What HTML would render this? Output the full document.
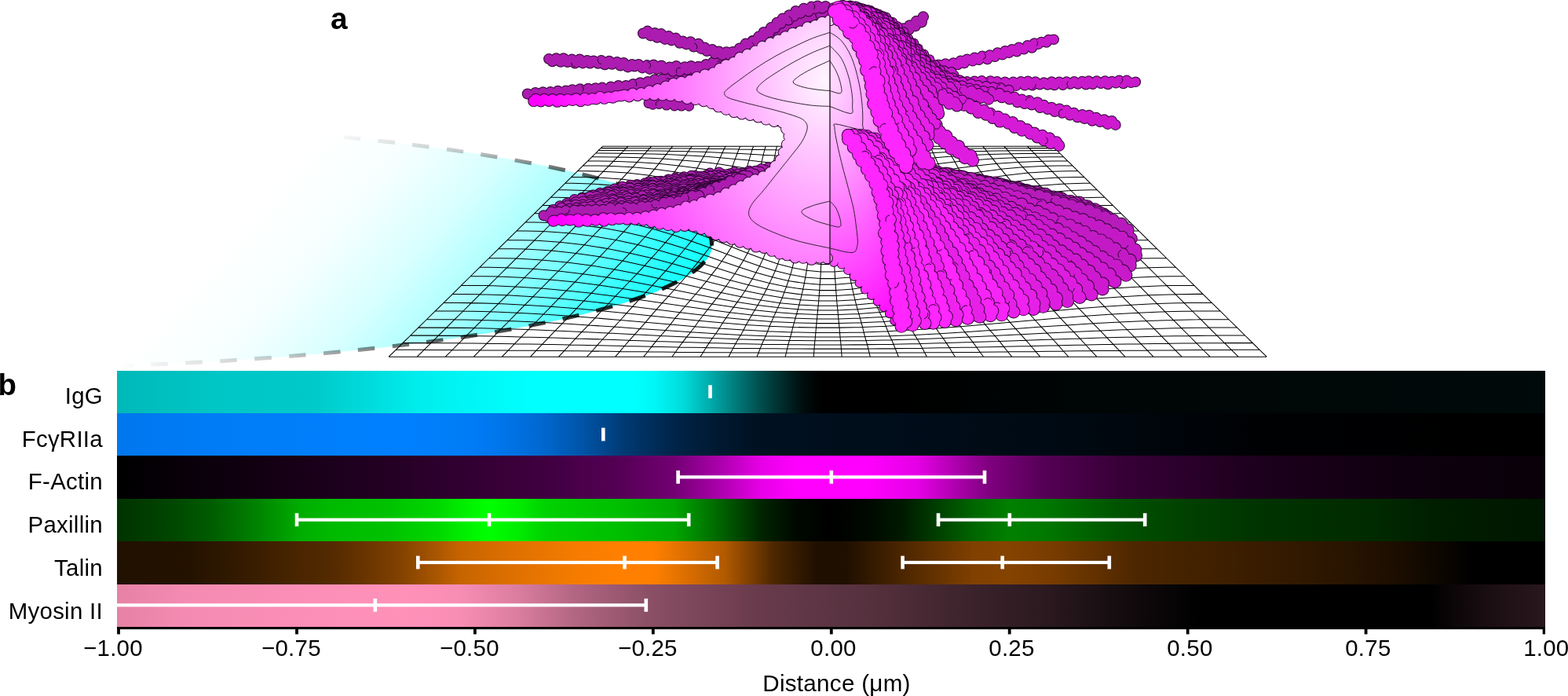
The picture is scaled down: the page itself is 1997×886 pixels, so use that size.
<!DOCTYPE html>
<html lang="en"><head><meta charset="utf-8"><title>Figure</title>
<style>
html,body{margin:0;padding:0;background:#fff;}
#fig{position:relative;width:1997px;height:886px;overflow:hidden;background:#fff;font-family:"Liberation Sans",sans-serif;color:#000;}
#fig svg{position:absolute;left:0;top:0;display:block;}
.t{position:absolute;white-space:nowrap;line-height:1.149;letter-spacing:0.28px;}
</style></head><body>
<div id="fig">
<svg width="1997" height="886" viewBox="0 0 1997 886">
<defs>
<linearGradient id="g0" gradientUnits="userSpaceOnUse" x1="149.0" y1="0" x2="1968.0" y2="0"><stop offset="0.0011" stop-color="#00b8b8"/><stop offset="0.0261" stop-color="#00bebe"/><stop offset="0.0760" stop-color="#00c7c7"/><stop offset="0.1358" stop-color="#00c9c9"/><stop offset="0.1758" stop-color="#00dbdb"/><stop offset="0.2107" stop-color="#00eded"/><stop offset="0.2506" stop-color="#00f7f7"/><stop offset="0.2906" stop-color="#00ffff"/><stop offset="0.3604" stop-color="#00ffff"/><stop offset="0.3759" stop-color="#00f7f7"/><stop offset="0.3964" stop-color="#00dbdb"/><stop offset="0.4153" stop-color="#00abab"/><stop offset="0.4313" stop-color="#008080"/><stop offset="0.4478" stop-color="#005454"/><stop offset="0.4682" stop-color="#002626"/><stop offset="0.4802" stop-color="#000d0d"/><stop offset="0.4927" stop-color="#000000"/><stop offset="0.5501" stop-color="#000000"/><stop offset="0.6000" stop-color="#000303"/><stop offset="0.7497" stop-color="#000606"/><stop offset="0.9992" stop-color="#000a0a"/></linearGradient>
<linearGradient id="g1" gradientUnits="userSpaceOnUse" x1="149.0" y1="0" x2="1968.0" y2="0"><stop offset="0.0011" stop-color="#0077ed"/><stop offset="0.0510" stop-color="#007bf5"/><stop offset="0.1508" stop-color="#007ffc"/><stop offset="0.2007" stop-color="#0080ff"/><stop offset="0.2506" stop-color="#007bf5"/><stop offset="0.2756" stop-color="#0073e6"/><stop offset="0.3005" stop-color="#0066cc"/><stop offset="0.3255" stop-color="#0054a8"/><stop offset="0.3554" stop-color="#003a73"/><stop offset="0.3864" stop-color="#00264c"/><stop offset="0.4173" stop-color="#001a33"/><stop offset="0.4478" stop-color="#001121"/><stop offset="0.5002" stop-color="#000e1c"/><stop offset="0.6499" stop-color="#000a14"/><stop offset="0.7996" stop-color="#000103"/><stop offset="0.9992" stop-color="#000000"/></linearGradient>
<linearGradient id="g2" gradientUnits="userSpaceOnUse" x1="149.0" y1="0" x2="1968.0" y2="0"><stop offset="0.0011" stop-color="#000000"/><stop offset="0.1009" stop-color="#120012"/><stop offset="0.2007" stop-color="#260026"/><stop offset="0.3005" stop-color="#400040"/><stop offset="0.3504" stop-color="#540054"/><stop offset="0.3904" stop-color="#730073"/><stop offset="0.4253" stop-color="#b200b2"/><stop offset="0.4503" stop-color="#e600e6"/><stop offset="0.4752" stop-color="#ff00ff"/><stop offset="0.5251" stop-color="#ff00ff"/><stop offset="0.5601" stop-color="#e600e6"/><stop offset="0.5850" stop-color="#b200b2"/><stop offset="0.6100" stop-color="#800080"/><stop offset="0.6499" stop-color="#540054"/><stop offset="0.6998" stop-color="#380038"/><stop offset="0.7996" stop-color="#1c001c"/><stop offset="0.8994" stop-color="#0f000f"/><stop offset="0.9992" stop-color="#080008"/></linearGradient>
<linearGradient id="g3" gradientUnits="userSpaceOnUse" x1="149.0" y1="0" x2="1968.0" y2="0"><stop offset="0.0011" stop-color="#003300"/><stop offset="0.0360" stop-color="#004500"/><stop offset="0.0660" stop-color="#005c00"/><stop offset="0.0959" stop-color="#008000"/><stop offset="0.1284" stop-color="#00ad00"/><stop offset="0.1508" stop-color="#00ba00"/><stop offset="0.1907" stop-color="#00c200"/><stop offset="0.2257" stop-color="#00d900"/><stop offset="0.2506" stop-color="#00f700"/><stop offset="0.2606" stop-color="#00ff00"/><stop offset="0.2806" stop-color="#00ed00"/><stop offset="0.3005" stop-color="#00d100"/><stop offset="0.3504" stop-color="#00bf00"/><stop offset="0.3904" stop-color="#00a600"/><stop offset="0.4153" stop-color="#007300"/><stop offset="0.4503" stop-color="#002600"/><stop offset="0.4752" stop-color="#000800"/><stop offset="0.5002" stop-color="#000000"/><stop offset="0.5251" stop-color="#000800"/><stop offset="0.5501" stop-color="#001a00"/><stop offset="0.5750" stop-color="#004000"/><stop offset="0.6000" stop-color="#006600"/><stop offset="0.6249" stop-color="#008000"/><stop offset="0.6499" stop-color="#007800"/><stop offset="0.6998" stop-color="#005400"/><stop offset="0.7497" stop-color="#004000"/><stop offset="0.7996" stop-color="#003300"/><stop offset="0.8795" stop-color="#002a00"/><stop offset="0.9194" stop-color="#001f00"/><stop offset="0.9992" stop-color="#001600"/></linearGradient>
<linearGradient id="g4" gradientUnits="userSpaceOnUse" x1="149.0" y1="0" x2="1968.0" y2="0"><stop offset="0.0011" stop-color="#211100"/><stop offset="0.0510" stop-color="#241200"/><stop offset="0.0859" stop-color="#331a00"/><stop offset="0.1179" stop-color="#452300"/><stop offset="0.1508" stop-color="#542a00"/><stop offset="0.1793" stop-color="#6e3700"/><stop offset="0.2007" stop-color="#854300"/><stop offset="0.2257" stop-color="#ad5700"/><stop offset="0.2407" stop-color="#c76400"/><stop offset="0.2806" stop-color="#e07100"/><stop offset="0.3205" stop-color="#f57b00"/><stop offset="0.3504" stop-color="#ff8000"/><stop offset="0.3754" stop-color="#ff8000"/><stop offset="0.4253" stop-color="#b25a00"/><stop offset="0.4602" stop-color="#4c2600"/><stop offset="0.4902" stop-color="#1f0f00"/><stop offset="0.5101" stop-color="#1f0f00"/><stop offset="0.5501" stop-color="#4c2600"/><stop offset="0.6000" stop-color="#804000"/><stop offset="0.6249" stop-color="#854300"/><stop offset="0.6549" stop-color="#783c00"/><stop offset="0.7148" stop-color="#4c2600"/><stop offset="0.7996" stop-color="#381c00"/><stop offset="0.8595" stop-color="#291400"/><stop offset="0.8994" stop-color="#1a0d00"/><stop offset="0.9194" stop-color="#0f0800"/><stop offset="0.9493" stop-color="#000000"/><stop offset="0.9992" stop-color="#000000"/></linearGradient>
<linearGradient id="g5" gradientUnits="userSpaceOnUse" x1="149.0" y1="0" x2="1968.0" y2="0"><stop offset="0.0011" stop-color="#e682a6"/><stop offset="0.0510" stop-color="#f58bb2"/><stop offset="0.2007" stop-color="#ff91b9"/><stop offset="0.2407" stop-color="#f78db3"/><stop offset="0.2806" stop-color="#db7d9f"/><stop offset="0.3205" stop-color="#b26682"/><stop offset="0.3704" stop-color="#8c5066"/><stop offset="0.4478" stop-color="#693b4c"/><stop offset="0.5301" stop-color="#54303d"/><stop offset="0.5900" stop-color="#3e242d"/><stop offset="0.6499" stop-color="#2b191f"/><stop offset="0.7148" stop-color="#0f090b"/><stop offset="0.7597" stop-color="#000000"/><stop offset="0.9194" stop-color="#000000"/><stop offset="0.9593" stop-color="#1a0e12"/><stop offset="0.9992" stop-color="#29171e"/></linearGradient>
<linearGradient id="cy" gradientUnits="userSpaceOnUse" x1="279.5" y1="319.0" x2="632.0" y2="629.2"><stop offset="0" stop-color="#fff"/><stop offset="0.2" stop-color="#f6ffff"/><stop offset="0.4" stop-color="#d9ffff"/><stop offset="0.6" stop-color="#a6ffff"/><stop offset="0.75" stop-color="#6cffff"/><stop offset="0.87" stop-color="#38ffff"/><stop offset="1" stop-color="#14ffff"/></linearGradient>
<linearGradient id="cd" gradientUnits="userSpaceOnUse" x1="279.5" y1="319.0" x2="632.0" y2="629.2"><stop offset="0" stop-color="#000" stop-opacity="0"/><stop offset="0.33" stop-color="#000" stop-opacity="0.22"/><stop offset="0.56" stop-color="#000" stop-opacity="0.58"/><stop offset="0.85" stop-color="#000" stop-opacity="0.8"/><stop offset="1" stop-color="#000" stop-opacity="0.9"/></linearGradient>
<marker id="k0" markerUnits="userSpaceOnUse" markerWidth="16.0" markerHeight="16.0" refX="8.0" refY="8.0"><circle cx="8.0" cy="8.0" r="7.0" fill="#2b0530"/></marker>
<marker id="k1" markerUnits="userSpaceOnUse" markerWidth="14.0" markerHeight="14.0" refX="7.0" refY="7.0"><circle cx="7.0" cy="7.0" r="6.0" fill="#ac1cb0"/></marker>
<marker id="k2" markerUnits="userSpaceOnUse" markerWidth="15.0" markerHeight="15.0" refX="7.5" refY="7.5"><circle cx="7.5" cy="7.5" r="6.5" fill="#2b0530"/></marker>
<marker id="k3" markerUnits="userSpaceOnUse" markerWidth="13.2" markerHeight="13.2" refX="6.6" refY="6.6"><circle cx="6.6" cy="6.6" r="5.6" fill="#ac1cb0"/></marker>
<marker id="k4" markerUnits="userSpaceOnUse" markerWidth="19.0" markerHeight="19.0" refX="9.5" refY="9.5"><circle cx="9.5" cy="9.5" r="8.5" fill="#2b0530"/></marker>
<marker id="k5" markerUnits="userSpaceOnUse" markerWidth="17.2" markerHeight="17.2" refX="8.6" refY="8.6"><circle cx="8.6" cy="8.6" r="7.6" fill="#ac1cb0"/></marker>
<marker id="k6" markerUnits="userSpaceOnUse" markerWidth="17.2" markerHeight="17.2" refX="8.6" refY="8.6"><circle cx="8.6" cy="8.6" r="7.6" fill="#b21cb5"/></marker>
<marker id="k7" markerUnits="userSpaceOnUse" markerWidth="17.2" markerHeight="17.2" refX="8.6" refY="8.6"><circle cx="8.6" cy="8.6" r="7.6" fill="#b71bbb"/></marker>
<marker id="k8" markerUnits="userSpaceOnUse" markerWidth="17.2" markerHeight="17.2" refX="8.6" refY="8.6"><circle cx="8.6" cy="8.6" r="7.6" fill="#c31ac5"/></marker>
<marker id="k9" markerUnits="userSpaceOnUse" markerWidth="17.2" markerHeight="17.2" refX="8.6" refY="8.6"><circle cx="8.6" cy="8.6" r="7.6" fill="#c81acb"/></marker>
<marker id="k10" markerUnits="userSpaceOnUse" markerWidth="17.2" markerHeight="17.2" refX="8.6" refY="8.6"><circle cx="8.6" cy="8.6" r="7.6" fill="#ce19d0"/></marker>
<marker id="k11" markerUnits="userSpaceOnUse" markerWidth="17.2" markerHeight="17.2" refX="8.6" refY="8.6"><circle cx="8.6" cy="8.6" r="7.6" fill="#d61bd8"/></marker>
<marker id="k12" markerUnits="userSpaceOnUse" markerWidth="17.2" markerHeight="17.2" refX="8.6" refY="8.6"><circle cx="8.6" cy="8.6" r="7.6" fill="#de1de0"/></marker>
<marker id="k13" markerUnits="userSpaceOnUse" markerWidth="17.2" markerHeight="17.2" refX="8.6" refY="8.6"><circle cx="8.6" cy="8.6" r="7.6" fill="#e620e8"/></marker>
<marker id="k14" markerUnits="userSpaceOnUse" markerWidth="17.2" markerHeight="17.2" refX="8.6" refY="8.6"><circle cx="8.6" cy="8.6" r="7.6" fill="#ef22ef"/></marker>
<marker id="k15" markerUnits="userSpaceOnUse" markerWidth="17.2" markerHeight="17.2" refX="8.6" refY="8.6"><circle cx="8.6" cy="8.6" r="7.6" fill="#f724f7"/></marker>
<marker id="k16" markerUnits="userSpaceOnUse" markerWidth="17.2" markerHeight="17.2" refX="8.6" refY="8.6"><circle cx="8.6" cy="8.6" r="7.6" fill="#ff26ff"/></marker>
<marker id="k17" markerUnits="userSpaceOnUse" markerWidth="16.4" markerHeight="16.4" refX="8.2" refY="8.2"><circle cx="8.2" cy="8.2" r="7.2" fill="#2b0530"/></marker>
<marker id="k18" markerUnits="userSpaceOnUse" markerWidth="14.4" markerHeight="14.4" refX="7.2" refY="7.2"><circle cx="7.2" cy="7.2" r="6.2" fill="#ac1cb0"/></marker>
<marker id="k19" markerUnits="userSpaceOnUse" markerWidth="15.6" markerHeight="15.6" refX="7.8" refY="7.8"><circle cx="7.8" cy="7.8" r="6.8" fill="#2b0530"/></marker>
<marker id="k20" markerUnits="userSpaceOnUse" markerWidth="13.6" markerHeight="13.6" refX="6.8" refY="6.8"><circle cx="6.8" cy="6.8" r="5.8" fill="#c81acb"/></marker>
<marker id="k21" markerUnits="userSpaceOnUse" markerWidth="15.8" markerHeight="15.8" refX="7.9" refY="7.9"><circle cx="7.9" cy="7.9" r="6.9" fill="#2b0530"/></marker>
<marker id="k22" markerUnits="userSpaceOnUse" markerWidth="13.8" markerHeight="13.8" refX="6.9" refY="6.9"><circle cx="6.9" cy="6.9" r="5.9" fill="#ce19d0"/></marker>
<marker id="k23" markerUnits="userSpaceOnUse" markerWidth="14.0" markerHeight="14.0" refX="7.0" refY="7.0"><circle cx="7.0" cy="7.0" r="6.0" fill="#ce19d0"/></marker>
<marker id="k24" markerUnits="userSpaceOnUse" markerWidth="16.2" markerHeight="16.2" refX="8.1" refY="8.1"><circle cx="8.1" cy="8.1" r="7.1" fill="#2b0530"/></marker>
<marker id="k25" markerUnits="userSpaceOnUse" markerWidth="14.4" markerHeight="14.4" refX="7.2" refY="7.2"><circle cx="7.2" cy="7.2" r="6.2" fill="#ce19d0"/></marker>
<marker id="k26" markerUnits="userSpaceOnUse" markerWidth="16.6" markerHeight="16.6" refX="8.3" refY="8.3"><circle cx="8.3" cy="8.3" r="7.3" fill="#2b0530"/></marker>
<marker id="k27" markerUnits="userSpaceOnUse" markerWidth="14.6" markerHeight="14.6" refX="7.3" refY="7.3"><circle cx="7.3" cy="7.3" r="6.3" fill="#ce19d0"/></marker>
<marker id="k28" markerUnits="userSpaceOnUse" markerWidth="17.0" markerHeight="17.0" refX="8.5" refY="8.5"><circle cx="8.5" cy="8.5" r="7.5" fill="#2b0530"/></marker>
<marker id="k29" markerUnits="userSpaceOnUse" markerWidth="15.0" markerHeight="15.0" refX="7.5" refY="7.5"><circle cx="7.5" cy="7.5" r="6.5" fill="#d61bd8"/></marker>
<marker id="k30" markerUnits="userSpaceOnUse" markerWidth="17.2" markerHeight="17.2" refX="8.6" refY="8.6"><circle cx="8.6" cy="8.6" r="7.6" fill="#2b0530"/></marker>
<marker id="k31" markerUnits="userSpaceOnUse" markerWidth="15.4" markerHeight="15.4" refX="7.7" refY="7.7"><circle cx="7.7" cy="7.7" r="6.7" fill="#d61bd8"/></marker>
<marker id="k32" markerUnits="userSpaceOnUse" markerWidth="17.6" markerHeight="17.6" refX="8.8" refY="8.8"><circle cx="8.8" cy="8.8" r="7.8" fill="#2b0530"/></marker>
<marker id="k33" markerUnits="userSpaceOnUse" markerWidth="15.6" markerHeight="15.6" refX="7.8" refY="7.8"><circle cx="7.8" cy="7.8" r="6.8" fill="#d61bd8"/></marker>
<marker id="k34" markerUnits="userSpaceOnUse" markerWidth="18.0" markerHeight="18.0" refX="9.0" refY="9.0"><circle cx="9.0" cy="9.0" r="8.0" fill="#2b0530"/></marker>
<marker id="k35" markerUnits="userSpaceOnUse" markerWidth="16.0" markerHeight="16.0" refX="8.0" refY="8.0"><circle cx="8.0" cy="8.0" r="7.0" fill="#de1de0"/></marker>
<marker id="k36" markerUnits="userSpaceOnUse" markerWidth="18.4" markerHeight="18.4" refX="9.2" refY="9.2"><circle cx="9.2" cy="9.2" r="8.2" fill="#2b0530"/></marker>
<marker id="k37" markerUnits="userSpaceOnUse" markerWidth="16.4" markerHeight="16.4" refX="8.2" refY="8.2"><circle cx="8.2" cy="8.2" r="7.2" fill="#de1de0"/></marker>
<marker id="k38" markerUnits="userSpaceOnUse" markerWidth="18.8" markerHeight="18.8" refX="9.4" refY="9.4"><circle cx="9.4" cy="9.4" r="8.4" fill="#2b0530"/></marker>
<marker id="k39" markerUnits="userSpaceOnUse" markerWidth="17.0" markerHeight="17.0" refX="8.5" refY="8.5"><circle cx="8.5" cy="8.5" r="7.5" fill="#e620e8"/></marker>
<marker id="k40" markerUnits="userSpaceOnUse" markerWidth="19.4" markerHeight="19.4" refX="9.7" refY="9.7"><circle cx="9.7" cy="9.7" r="8.7" fill="#2b0530"/></marker>
<marker id="k41" markerUnits="userSpaceOnUse" markerWidth="17.4" markerHeight="17.4" refX="8.7" refY="8.7"><circle cx="8.7" cy="8.7" r="7.7" fill="#e620e8"/></marker>
<marker id="k42" markerUnits="userSpaceOnUse" markerWidth="19.8" markerHeight="19.8" refX="9.9" refY="9.9"><circle cx="9.9" cy="9.9" r="8.9" fill="#2b0530"/></marker>
<marker id="k43" markerUnits="userSpaceOnUse" markerWidth="18.0" markerHeight="18.0" refX="9.0" refY="9.0"><circle cx="9.0" cy="9.0" r="8.0" fill="#ef22ef"/></marker>
<marker id="k44" markerUnits="userSpaceOnUse" markerWidth="20.2" markerHeight="20.2" refX="10.1" refY="10.1"><circle cx="10.1" cy="10.1" r="9.1" fill="#2b0530"/></marker>
<marker id="k45" markerUnits="userSpaceOnUse" markerWidth="18.4" markerHeight="18.4" refX="9.2" refY="9.2"><circle cx="9.2" cy="9.2" r="8.2" fill="#f724f7"/></marker>
<marker id="k46" markerUnits="userSpaceOnUse" markerWidth="20.4" markerHeight="20.4" refX="10.2" refY="10.2"><circle cx="10.2" cy="10.2" r="9.2" fill="#2b0530"/></marker>
<marker id="k47" markerUnits="userSpaceOnUse" markerWidth="18.6" markerHeight="18.6" refX="9.3" refY="9.3"><circle cx="9.3" cy="9.3" r="8.3" fill="#ff26ff"/></marker>
<path id="c0" d="M1057.0,180.8l-3.3,3.2 5,6 -6.8,4.5 5.7,5.1 -4.6,4.2 5.3,4.9 -7,5.2 4.1,5.6 -4,4.7 3.7,6.8 -0.5,-6.2 -6.1,-1.9 2.1,-3.7"/>
<path id="c1" d="M1052.7,197.5l2.1,6 -4.6,3.2 4.1,6.7 -6,3.2 3.7,6.1 -5.1,2.5 -2.4,6.4 2,-7.9 -7.3,-1.3 1.9,-3.5"/>
<path id="c2" d="M1052.5,181.1l-3.7,3.6 3.8,4.8 -3.3,4.7 4.1,5.9 -5.9,4.4 4,5.5 -4.9,2.9 2.7,6 -5.9,3.9 0,7.2 -3.2,-3.9 -5.3,0.1 -0.4,-8.1 -4.6,2"/>
<path id="c3" d="M1047.6,199.3l1.6,6.1 -6.1,3.2 4.2,6.3 -7.4,2.8 3,6.7 -6.9,1.2 -1.8,5.2 -2.7,-5.7 -5.6,0 -1.8,-7.3 -3.4,2.4"/>
<path id="c4" d="M1048.4,184.5l-3.3,5.1 4.5,5.9 -5.1,4.1 3,5.9 -6.6,2.7 1.2,5.9 -5.9,3 2.1,6.6 -6.7,0.1 -1.7,6.4 -4,-3.6 -5.8,0.3 -1.7,-7 -5.8,1.2 -2.6,-3"/>
<path id="c5" d="M1044.6,203.0l-5.5,2.6 1.8,6.6 -6,1.9 2.1,5.5 -6.4,2.8 -0.9,6.4 -6.3,-2.7 -3.4,5.2 -1.8,-6.8 -6.6,1.4 -3,-5.3 -6,1.2 -2.2,-2.6"/>
<path id="c6" d="M1043.5,188.3l-3,5.5 3.1,5.9 -4.5,3.4 0.8,5 -5.6,2.2 0.2,6.2 -5.6,0.7 0.3,7.6 -5.9,-0.9 -2,7 -5.1,-3.8 -5.8,3.7 -2,-6.5 -6.4,0.9 -2.6,-5.2 -6.1,1.8 -2.8,-1.6"/>
<path id="c7" d="M1034.8,206.4l-0.5,5.8 -6,2.6 0.7,6.5 -7.2,-0.7 -0.4,6.1 -6.4,0 -4.1,5.4 -4.5,-4.2 -6.1,1.4 -2,-6 -7,2.2 -1.5,-6.8 -6,3.4 -4.1,-1.7"/>
<path id="c8" d="M1039.1,189.2l-4.4,3.9 3.6,5.3 -3.5,3.3 1.2,5.2 -8.2,0.8 2.4,7.4 -6.3,1.2 -1,6.7 -6.5,-0.9 -1.5,6.4 -5.1,-1.4 -4.3,5.7 -4.5,-5.1 -6.1,2.3 -2.9,-6.1 -5.6,3.7 -2.8,-5.7 -6,1.8 -4,-6.4 -3.3,4.8"/>
<path id="c9" d="M1027.2,209.9l-4.1,1.7 -0.5,7.5 -5.6,-0.6 -1.2,8.1 -6.3,-2.2 -3.6,6.2 -4.4,-3 -5.9,4.7 -3.4,-4.2 -6,1.5 -3.3,-6.9 -5.1,4.3 -3.1,-7.4 -7.3,4.5 -2.7,-6.6 -4.9,5"/>
<path id="c10" d="M1032.9,193.4l2.2,6.5 -4.9,2.1 -0.6,6.7 -7.1,0 0.3,6.5 -6.3,1.2 0.2,6.5 -7.6,0 -2.5,4.5 -6.1,-1.2 -2.3,6.3 -6.5,-4.9 -4.4,6.2 -4.7,-7 -5,1.8 -2.9,-5.5 -7.2,3.3 -3.8,-6.8 -5.8,5 -3.7,-6.9 -3.6,4.1"/>
<path id="c11" d="M1016.2,216.1l-6.1,1 -0.5,7.2 -7.2,-1.6 -1.3,5.9 -5.9,-3.4 -3.1,6.7 -6.3,-3.3 -4.5,6.1 -4.5,-6.8 -6,3.5 -2.4,-6.3 -6.2,2.6 -3.7,-5.4 -4.7,2.6 -4.6,-4.1 -4,3.2 -5.5,-1.9"/>
<path id="c12" d="M1027.6,198.2l0.9,5.4 -6.3,0.9 -0.8,7.8 -6.4,-0.6 -1.4,6.3 -7,-0.4 0.3,6.7 -7.8,-1.1 -2.8,6.8 -5.8,-4.3 -2.8,7.6 -6.1,-4.8 -3.5,4 -6.1,-2.6 -5.1,2.3 -2.8,-6.6 -7.1,2.9 -2.2,-5.2 -6.1,4 -3.9,-6.9 -6.2,4.4 -3.2,-5.7 -5,3.8"/>
<path id="c13" d="M1006.8,218.4l-6.2,-0.3 0.5,7.2 -7.8,-1 -2.8,5 -5.3,-2.2 -4.4,5.9 -4,-5.1 -4.8,7.2 -4.6,-4.9 -6.5,2 -3.6,-5.5 -5.8,4.3 -2,-6.2 -5.7,4.4 -3.6,-7.6 -7.2,3.7 -3.2,-4.1 -5.7,3.5 -3.9,-2.6"/>
<path id="c14" d="M1023.6,199.1l-4.4,1.8 1.1,7.7 -7.3,-2 -0.2,8.1 -7.6,-2 -0.4,6.7 -7.4,-0.2 -1.5,5.3 -5,-0.7 -3,5.1 -6.3,-2.8 -4.1,6.3 -5.5,-3.5 -5,4.8 -4.4,-4.4 -5.5,5 -3.3,-7.2 -5.4,4.3 -3.4,-5.4 -7.4,2.8 -3.1,-4.6 -4.9,3.7 -4.1,-5.6 -5.6,3.2 -4.2,-6.1 -5.1,5.4"/>
<path id="c15" d="M996.2,219.7l-0.9,4.4 -6,-0.1 -4.2,4.4 -4.8,-2.3 -4.2,6.3 -5,-4.9 -4.1,5.9 -5.5,-3.2 -4.9,5.6 -3.9,-5.1 -5.6,3 -3.4,-5.2 -5.8,3.7 -4,-6.5 -5.8,3 -3.8,-3.9 -5.7,4 -2.9,-5.5 -6.7,3.4 -4.9,-6.1 -2.9,5"/>
<path id="c16" d="M1014.4,205.5l-1,4.2 -6.4,-0.7 -2.9,5.7 -5.8,-0.8 -0.7,7.2 -6.7,-1.6 -1.7,7.2 -7.1,-2.6 -1.9,6.4 -7.2,-4 -2.2,6.1 -5.7,-3 -3.6,5.5 -5.2,-4.5 -4.8,5.7 -4.2,-6.4 -6.1,4.6 -2.8,-5.6 -6.2,3.9 -2.9,-6.1 -6.5,3.8 -3.4,-5.7 -6,4.2 -4.3,-5.4 -5.2,4.3 -3.6,-5 -5.4,4 -4,-1.9"/>
<path id="c17" d="M988.3,221.4l-3.5,5.5 -5.4,-2.3 -3.4,4.9 -6.4,-1.7 -1.9,4.2 -7,-1.3 -2.7,4.7 -6.2,-4.6 -4.2,4.3 -5,-2.2 -5.3,2.8 -4.5,-5.7 -4,3.7 -5.2,-5 -5.4,3.7 -3,-5.8 -5.5,4.2 -4.8,-6.3 -4.6,4.6 -4.3,-4.6 -6.5,4.4 -4.4,-5.1 -4.4,3.4"/>
<path id="c18" d="M1012.4,205.9l-7.2,0.3 -1.2,5.5 -7,-0.4 -0.8,6.4 -5.9,-1 -2.8,6.3 -6,-2 -2.2,7.2 -5.6,-4.2 -3.6,8.2 -5.9,-4 -3.3,6.1 -5.1,-3.7 -4.9,5.4 -4.1,-3.5 -5.6,4.7 -5,-5.3 -3.7,5 -4.3,-6.2 -6.3,4.3 -3.2,-4.6 -5.8,3.4 -3.5,-5.7 -5.3,4.1 -5.4,-6 -5.2,4.5 -3.1,-5.1 -5.8,4.9 -4,-6.7 -4.3,5.7 -5.1,-1.8"/>
<path id="c19" d="M974.6,224.1l-3.9,5.2 -4.7,-2.6 -3.1,6.2 -7.3,-4 -3,5.4 -5,-2.5 -4.3,5.8 -5,-5.1 -4.8,5.4 -4.8,-5.3 -5.9,3.8 -3.3,-5.4 -5.4,4.6 -4.6,-5 -5.9,2.4 -4,-4.4 -5.1,4.7 -4.7,-5.2 -5.6,2.5 -3.6,-2.8 -4.9,3.1 -4.6,-5.6 -5.2,4.2 -5.2,-1.4"/>
<path id="c20" d="M1003.0,209.4l-4.8,0.2 -1.5,6.4 -7.3,-3.9 -1.4,7.1 -7.2,-1 -1,6.2 -7,-2.2 -2.8,6.2 -5.5,-1.8 -2.7,5.9 -6.9,-2.6 -4,5.7 -4.3,-4.3 -4.8,6 -5.1,-5.1 -4.3,6 -5.7,-4 -4.8,4.4 -4.6,-4.4 -3.7,2.6 -5.6,-4.3 -4.6,4.3 -3.5,-5.7 -6.2,3.2 -4.4,-4.3 -4.1,4.1 -5.3,-5.3 -5.3,4.6 -4.8,-6.1 -3.8,4.3 -5.8,-5 -4.4,4 -4.4,-1"/>
<path id="c21" d="M967.9,226.0l-5.3,0.6 -2.4,4.9 -6.1,-3.2 -3.9,6.6 -5.9,-4.1 -3.7,6.9 -5.3,-5.7 -4.7,6.4 -5.1,-4.4 -2.8,5.1 -4.9,-4.4 -6,4.9 -3.4,-5.8 -6.2,5.1 -3.2,-6.5 -6.6,4.7 -2.5,-6.3 -6.9,5.2 -4.4,-6.3 -3.5,5.2 -4.9,-5.7 -6.2,6 -3.7,-6.7 -4.3,4.7 -4.6,-4.8 -4.3,3.9 -5.9,-1.1"/>
<path id="c22" d="M994.8,211.0l-5.3,0.3 -1.9,6.7 -6.9,-2.1 -2.8,5.5 -6.3,-0.8 -1.1,6.1 -7.4,-3.3 -1.6,7.7 -5.9,-2.7 -3.9,4.3 -6.3,-2.2 -2.8,4.9 -6.4,-2.1 -2.8,5.3 -6.9,-5.1 -3.5,7.2 -4.5,-6.9 -5.2,7.4 -4.3,-5.4 -6.2,4.2 -3.3,-6.2 -5.1,5.7 -4.7,-5.8 -5.9,5.3 -3.9,-5.6 -4.7,3.1 -4.7,-5.3 -5,4.1 -5.6,-4 -4.2,3.2 -5.5,-4.1 -5,3.9 -3.4,-3.5 -5.6,2.5 -3.8,-0.5"/>
<path id="c23" d="M954.2,230.7l-4,-2.1 -4.3,5.5 -5.1,-3.4 -4.7,6.1 -4.6,-3.5 -4.9,6.4 -4.1,-5.7 -5.5,6.5 -5.7,-4.3 -4.1,5.3 -3.5,-4.6 -6.3,4.1 -3.9,-5.8 -5.1,5.4 -5,-5.3 -5.2,4.6 -3.8,-5.1 -5.5,4 -4.7,-6.2 -3.4,4.6 -6.1,-3.8 -4.1,3.5 -4.9,-5.5 -4.9,5.3 -4.1,-5.8 -5.6,6 -4.7,-5.3 -4.1,3.7"/>
<path id="c24" d="M989.4,210.2l-1.8,5 -7.4,-1.7 -1.9,6.4 -6.4,-2.4 -1.5,6.6 -6.3,-2.8 -3.1,8 -5.7,-3.4 -3.7,6.2 -5.4,-4.1 -3.9,6.3 -5.5,-2.5 -3.8,6.3 -5.2,-3.4 -3.6,3.9 -5.6,-2 -4.7,5 -5.9,-5.1 -4.6,6.1 -4.7,-5.3 -4,5.1 -4.3,-3.7 -6,2.1 -4.6,-4.7 -4.8,4.7 -4.3,-5.1 -5.7,5.5 -4,-6.7 -5.1,4.6 -5.5,-5.6 -4.8,5.1 -5.2,-4 -4.3,3.8 -4.1,-6.2 -6,6.3 -4.4,-5.3 -3.8,3.5 -5.9,-0.5"/>
<path id="c25" d="M945.5,231.6l-3.3,4.5 -6.7,-4.5 -2.9,5.8 -5.3,-2.9 -4.3,5.8 -6.5,-4.9 -3.6,5.8 -4.7,-3.7 -5.3,5.5 -4.3,-3.8 -5.6,4.6 -3.9,-4.1 -4.7,3.5 -5.2,-5.3 -4.7,5.8 -4.6,-5.8 -5.3,3.9 -4.4,-5.9 -5.3,5.4 -4.2,-4.7 -5.3,4.4 -4.5,-4.8 -4.8,4.2 -5.2,-5 -3.7,4.2 -5.1,-4 -5.5,3 -5.2,-3.7 -4.3,4.5 -4,-1.8"/>
<path id="c26" d="M978.3,213.6l-3.5,5.6 -4.7,-1.7 -3,6 -7.2,-1.9 -1.2,4.5 -7.7,-2.4 -0.6,8 -6.3,-2.1 -4,5.5 -5.8,-3.1 -4,4.4 -5.4,-1.3 -2.8,4.3 -5.1,-2 -4.5,4.4 -4.8,-2.5 -5.8,3.1 -3.7,-4.2 -4.2,5.5 -5.6,-3.9 -4.6,5.3 -5.1,-4.6 -4.9,5 -3.6,-4.6 -5,3.8 -4.6,-5.5 -6.5,4.2 -4.6,-5.1 -3.4,5.2 -4.8,-6.7 -6.1,5.7 -3.8,-5.9 -4.4,4.7 -5.9,-4.8 -4.1,6 -5.3,-5.9 -5.3,4.8 -3.5,-5.6 -5.5,5.8 -4.2,-1.3"/>
<path id="c27" d="M936.4,232.0l-3.4,5.6 -5.9,-3.3 -4.4,4.8 -5.5,-4.3 -2.4,6.7 -7,-3.3 -4,4.8 -4.4,-3.6 -4.5,4.2 -5.4,-2.2 -4.3,5.1 -5.3,-5.8 -5.3,5.5 -4.2,-5.7 -5.9,5.3 -3,-4.5 -6.5,2.9 -4.2,-3.9 -5.5,5.8 -3.7,-6.5 -4.9,4.7 -4.8,-4.5 -5.4,4.8 -5.1,-5.4 -5.3,4.3 -3.1,-4.3 -4.8,4.7 -6.4,-5.4 -3.5,5.2 -5.4,-5.9 -4.3,5.3 -4.5,-0.3"/>
<path id="c28" d="M975.0,217.1l-5.1,-2.2 -3.2,7.7 -6.1,-4 -1.3,6.7 -7.7,-1.8 -1.6,6 -7.1,-3.2 -1.7,7.8 -6.7,-3.2 -3.1,5.6 -4.9,-3.8 -4.9,7.6 -5.2,-3.9 -3.9,5.4 -5.5,-2.5 -3.9,4.1 -4.7,-2.7 -3.7,4.4 -6.8,-2.6 -3,3.8 -6.3,-3.4 -2.9,5.7 -5.6,-4.8 -5.2,4.3 -5.4,-6.1 -4.1,5.2 -5.2,-4.5 -4.6,4.5 -4.5,-5.8 -5.7,6.4 -4.6,-7.6 -5.1,5.1 -4,-4.2 -4.6,4.3 -4.3,-5.3 -6.1,5.9 -4.4,-6.4 -4.5,4.9 -4.3,-3.1 -4.8,4.8 -6.1,-5.6 -4,3.5 -5,0.1"/>
<path id="c29" d="M925.8,235.6l-4.2,3.9 -5.2,-3 -4.1,5.9 -6,-4.1 -3.2,6.2 -5.3,-3.6 -4.1,5.1 -6.2,-4.4 -4.1,7 -5.2,-6.4 -3.7,6.6 -5.3,-4.6 -4.1,6.3 -5.1,-6.6 -5.3,4.5 -3.6,-3.1 -5.4,4.5 -5.1,-6.1 -4,4.9 -5.1,-5.5 -5.7,5.9 -4,-6.5 -4.2,6.5 -5.2,-6.3 -5.5,5.2 -5.2,-4.7 -4.6,4 -5,-2.9 -3.3,2.8 -5.6,-3.7 -4.6,2.9 -4.4,-2.6 -4.9,4.3 -5.5,-1.8"/>
<path id="c30" d="M967.8,218.8l-5.7,-1 -3.3,6 -6.1,-0.7 -2.7,4.9 -6.2,-2.8 -2.8,7.1 -5.5,-3 -3.4,6.6 -6.7,-3.3 -1.7,7.3 -5.9,-3.5 -4.7,4.3 -5.8,-3.1 -2.2,5.6 -6.3,-1.9 -3.8,4.7 -5.6,-2.9 -3.4,5.1 -6.1,-4.5 -4.2,6.3 -5,-4.7 -4.2,5.5 -4.9,-4 -5.9,5.3 -3.8,-4.9 -5.3,3.9 -4.3,-3.8 -6.3,3 -4,-4.1 -4.3,4.3 -5.7,-5.5 -4,5.3 -5.4,-4.4 -4.4,5.4 -5.2,-6.4 -4.3,5.5 -4.8,-5.1 -5.7,4.9 -3.6,-4.9 -4.9,4.2 -4.7,-4.6 -6.4,4 -4.3,-3.2 -4.9,4.4 -4.8,-1.7"/>
<path id="c31" d="M917.0,237.5l-4.8,4.4 -5.3,-3.6 -2.9,5.7 -5.6,-3.2 -3.9,6 -6.1,-2.2 -3.8,3.7 -5.1,-2.4 -3.4,4.5 -6.5,-3.8 -4.7,5.3 -5.3,-5.5 -4,6.9 -5.1,-5.3 -3.7,4.4 -5.9,-3.5 -3.6,4.7 -5,-5.8 -5.6,6.1 -3.9,-5.7 -5.4,4.1 -4.6,-4 -5.2,4.7 -4.4,-5.5 -5.4,4.9 -4.7,-4.1 -5.1,4.6 -4.6,-5.1 -3.8,6 -5.6,-6 -4.2,5 -4.5,-5.1 -5.8,5.6 -3.6,-4.8 -4.3,4.2 -5.3,-0.4"/>
<path id="c32" d="M961.0,221.8l-5.7,-2.1 -2.3,6.1 -6.9,-2.9 -2,8 -6.1,-4 -2.7,8 -6.6,-2.8 -3.4,5.8 -6.2,-3.1 -2.5,7.2 -5.1,-3.9 -3.2,4.7 -7.3,-2.2 -3.5,5.9 -4.5,-4 -5,4.8 -4.9,-3.2 -3.4,5.7 -5.7,-2.4 -3.9,3.9 -6.3,-2.6 -3,5.3 -5.2,-4.3 -4.6,5.3 -5.6,-5 -4.7,5.6 -3.7,-5.7 -5.4,6.3 -4.4,-4.8 -5.8,3.3 -3.5,-5.5 -4.5,5.2 -4.9,-3.1 -5.1,4 -5.6,-5.2 -3.7,5.4 -4.5,-4.3 -5.5,5 -4.9,-6.9 -5.4,5.8 -4.2,-4.4 -3.8,4.8 -6.1,-5.6 -3.4,6 -5.2,-5.7 -4.4,4.9 -5.4,-3.3 -3.7,4.4"/>
<path id="c33" d="M909.2,242.3l-5,-2.4 -3.9,5 -6.7,-2.7 -2.9,6.3 -5.6,-2.1 -4.2,3.7 -6,-1.4 -3.8,5.4 -5.3,-4.6 -3.3,4.7 -6.2,-4.7 -3.9,6.7 -6,-4.2 -3.5,5.9 -4.3,-5.5 -5.4,4.5 -5.4,-3.5 -4.4,4.6 -3.9,-4.1 -5.7,2.5 -3.9,-3.9 -5.7,6.3 -4,-6.6 -6.4,6.2 -3.9,-5 -5.1,3.5 -4.9,-3.6 -4.1,5.7 -5.8,-6 -3.7,4.7 -5.3,-4.3 -5,5.9 -4.1,-4.2 -5.7,4.8 -5.4,-7.2 -3,5.6 -6.2,-4.2 -3.7,5.4"/>
<path id="c34" d="M953.2,224.2l-5.4,-0.6 -2.9,6.2 -7.5,-3.5 -1.7,7 -6.6,-2.6 -1.5,6.1 -7.1,-2.3 -3.2,5.3 -5.1,-2.2 -3.3,6.9 -6.1,-2.3 -3.8,4.5 -5.5,-3.4 -3,6.9 -5.3,-4.3 -4.7,5.4 -5.2,-2.5 -4,5.1 -5,-3.8 -3.8,5.6 -5.3,-4.4 -4.4,5.7 -6.1,-3.1 -3,4.3 -6.4,-4.5 -4.7,5.2 -3.4,-3.5 -5.7,4.9 -3.9,-5.3 -5,6.3 -4.5,-5.2 -5.5,4.1 -4.1,-4.5 -5.6,4.5 -4.2,-3.8 -5.8,3.9 -3.6,-5.5 -5.4,6 -5.8,-5.3 -4.6,4.9 -5,-4.3 -3.1,4.8 -5.7,-3.5 -3.9,5.4 -5.1,-6.3 -5.6,6.5 -3.7,-5.7 -5.1,5.1 -6.5,-3.3 -2.8,4.5"/>
<path id="c35" d="M898.3,247.0l-5,-2.8 -4.4,4.8 -5.2,-2.4 -2.4,6.4 -6.2,-4.1 -4.2,7.5 -5.9,-4 -2.9,3.9 -5.1,-2 -4.1,5.1 -5,-4.6 -5.7,5.3 -4.7,-4 -4.8,5.9 -5,-4.5 -3.5,5.1 -5,-4.1 -4.1,4 -6.6,-5.2 -4.3,4.7 -3.6,-3.1 -5.3,3.8 -4.6,-4.8 -6,4 -4.8,-3.6 -4,4.9 -3.9,-4.3 -4.5,5.5 -6.5,-5.3 -4.1,5 -5.5,-4.2 -3.1,5.6 -6.1,-5 -4,4.6 -5,-4.4 -5.1,5.9 -5.4,-5.1 -3.3,4.7 -6.2,-3.9 -3.6,5.6"/>
<path id="c36" d="M945.6,227.9l-5.1,-0.4 -4,4.7 -6.5,-1.9 -2.4,5.9 -5.6,-1.2 -2.6,4.9 -6.8,-2.4 -2.1,7 -5.4,-3.8 -3.3,6.6 -6.5,-2.4 -2.3,6.2 -5.8,-3 -4.4,5 -5.5,-2.5 -3.6,5.7 -5.7,-3.5 -3.8,6.5 -6.6,-4.5 -2.4,5 -6.5,-4.5 -4.3,5.2 -4.2,-2.3 -3.6,5.4 -5.7,-4.5 -4.2,5.1 -5.6,-4.1 -4.4,5.9 -6.1,-4.9 -4.2,5.3 -5.6,-4.8 -3.7,3.4 -5.2,-3.1 -4.8,4.2 -5.5,-4.5 -3.6,4.6 -4.9,-3.1 -4.1,4.5 -5,-5.5 -5.6,4.2 -4.8,-3.9 -4.7,6.3 -4.5,-5.1 -4.9,4.9 -5.4,-3.9 -5.1,4 -3.8,-2.8 -4.3,5.3 -5.6,-6.6 -4,5.9 -7,-3.4 -2.7,3.8"/>
<path id="c37" d="M890.3,249.1l-3.7,4.7 -5,-4.9 -3.8,8.1 -4.8,-4.7 -3.2,5.9 -5.8,-2.3 -3.8,4.9 -6.7,-4.2 -4,7 -4.1,-5.9 -5.3,6.3 -5.7,-3.5 -3,6 -5.5,-3.8 -4.1,4.5 -4.8,-4.7 -5.3,6.2 -5.4,-4.3 -3.4,5.5 -5,-6.4 -4.5,5.6 -4.7,-4.2 -4.5,5.3 -6.6,-5.6 -3.5,5.8 -6,-3.7 -4.6,4.4 -4.8,-4.5 -3.9,4.5 -5.5,-4.2 -4.5,5.6 -4.7,-5.1 -3.6,4.9 -5,-4.9 -5.5,6.2 -5.4,-5.7 -3.1,6.3 -6,-4.8 -3.9,5.8 -5.3,-5.6 -3.8,6.5 -5.9,-1.8"/>
<path id="c38" d="M1056.8,16.3l-3.5,3.9 -5.4,-3.2 -4.3,6.4 -5.7,-3.3 -3.1,7.4 -4.8,-3.4 -2.8,6.1 -6.6,-2.7 -3.5,6.7 -5.3,-2.8 -2.9,5.4 -6.1,-1.4 -3.9,5.6 -4.8,-2 -3.8,5.7 -6.3,-1 -1.4,6.1 -5.7,-1.5 -3.4,5.7 -5.2,-1.2 -3.5,5.2 -6.3,-1.9 -1.3,5.5 -6.1,-0.3 -2.1,5.5 -6.3,-0.6 -1.8,7.1 -6.6,-1.8 -2.9,5.5 -6.7,-1 -1.8,6.8 -6.3,-3.3 -1.8,6.8 -6.9,-2.3 -1.6,5.9 -6.8,-2.7 -3.7,5.5 -5.9,-2.1 -1.9,5.6 -6.6,-2.1 -3.7,4.4 -5.2,-2.1 -3.7,3.9 -6.7,-4.3 -4,7.5 -5.7,-5.5 -2,6.3 -6.8,-3.7 -3.4,4.3 -6.2,-3.6 -4,6.2 -5,-3.5 -3.9,5.4 -5.8,-4.2 -3.4,5.1 -5.5,-3.3 -4.5,4.5 -4.6,-2.5 -4.2,5.1 -5.5,-5.2 -5.3,6.4 -4.4,-4.8 -4.5,4 -6.4,-2.9 -2.9,5.1 -5.7,-4.5 -4.4,4.8 -4.9,-4.3 -4.6,4.7 -5.8,-4.2 -4.8,5.4 -5.1,-4.3 -4.7,5.3 -3.6,-4 -4.6,3.5 -5.4,-3.3 -5.2,4.3 -4.4,-3 -4.2,3.8 -5.2,-3.6 -5.3,4 -4.4,-3.3 -4,4.6 -6,-3.1"/>
<path id="c39" d="M1055.3,11.5l-4.1,4.2 -5.3,-3.2 -2.7,6.8 -5.4,-3.9 -4.6,6.4 -4.6,-1.3 -3.5,4.3 -6.8,-3.4 -1.4,8 -7.7,-3.2 -1.5,5.7 -5.8,-1.1 -3.2,4.3 -7.1,-0.6 -0.8,5.7 -6.3,-1.6 -2.5,5.8 -7.6,-1.9 -1.5,6 -6.2,-1.6 -0.9,6.9 -7.2,-1.9 -1.7,7.1 -6.9,-1.4 -1.3,6.5 -7.1,-1.3 -2.2,4.8 -5.1,-0.5 -2.5,5.3 -6.8,-0.5 -2.6,4.7 -5.5,-0.1 -1.8,5.9 -7,-3.5 -2.8,5.6 -6.2,-2.6 -3.7,5.5 -6,-2.7 -4,4.8 -5.2,-5.5 -4.9,4.7 -3.3,-3.5 -6.4,5.3 -4.3,-6.5 -4.4,6.8 -4.1,-5.3 -6.1,3 -4.3,-5.1 -5.6,4.6 -4.4,-5.5 -4.9,5.4 -3.4,-4.8 -6,3.3 -4.8,-4.5 -5.2,2.6 -3.1,-2.6 -5.3,3.5 -5.3,-5.5 -4.3,3.7 -4.3,-4.6 -6.3,2.8 -3.6,-4.1 -5.5,4.5 -4.6,-5.1 -4.2,3.6 -5.6,-3.2 -4.6,3 -3.6,-3.5 -5.6,3.4 -4,-5 -5.9,5.1 -4,-4.9 -5.5,3.4 -5.1,-4.8 -3.7,4.6 -5.6,-4.6 -4.8,4 -4.5,-3.1"/>
<path id="c40" d="M1051.4,7.9l-4.4,2.7 -5.7,-3.1 -2.9,3.4 -5,-2.3 -3.7,6 -6,-3.8 -4.1,5.9 -6.2,-2.8 -2.2,6.5 -6.1,-1.1 -0.9,6.3 -7.6,-2 -2,6.1 -5.1,-0.9 -2.4,6.7 -5.1,-0.4 -2,5.8 -7.4,0 -0.3,5.3 -6.2,0.4 -1.6,6.4 -5.8,-0.7 -2.5,6.3 -6.6,-3 -0.3,7.5 -7.4,-1.7 -3.2,6.1 -5.6,-1.6 -3.6,4.7 -4.3,-4.3 -5.6,3.8 -4,-4.6 -5,2.7 -3.5,-5.2 -6.8,2 -2.8,-4.5 -4.5,1.4 -3.5,-6.1 -5.9,3.8 -4.2,-6.3 -5.3,3.1 -4.4,-4 -4.1,2.3 -4.9,-6.1 -5.4,2.8 -3.7,-5.3 -4.8,3.8 -4.7,-6.8 -5.1,4.7 -3,-5.8 -5.4,3.4 -3.9,-5.8 -5.7,2.9"/>
<path id="c41" d="M826.0,131.4l5.4,1.8 3.9,-3.9 4,3.1 5.3,-2.8 4.2,4.5 5.9,-3.9 4.3,4.8 5.2,-3.9 3.7,4 4.8,-2.6 4.8,2.7"/>
<path id="c42" d="M1129.3,218.6l-1,7.4 9.6,-0.6 2.2,7.8 6.9,-1.3"/>
<path id="c43" d="M1138.7,226.5l6.3,-1.1 4.3,6.6 7.3,-3.3 3.6,5.9"/>
<path id="c44" d="M1134.5,219.3l4,7.4 7.5,-4.6 3.4,7.5 6.7,-4.7 3.5,7.7 7.9,-4.5 3.4,7.8 6.7,-2.1"/>
<path id="c45" d="M1150.5,225.6l5.7,-0.8 3.4,7.2 6.7,-5.6 5,7 6.3,-5 3.4,8.6 6,-6.2 4.5,6.1"/>
<path id="c46" d="M1132.4,218.8l6.6,-1.8 2.3,7.4 7.3,-4.6 4.6,6.8 5.5,-4.1 3.7,6.4 7.6,-4.1 3,8.3 8.3,-6.2 2.8,7.8 8.1,-5.1 3.9,8.4 7.2,-4.6 3.6,4.8"/>
<path id="c47" d="M1164.3,223.5l4.1,5.7 7.4,-3.4 3.8,6.5 7.5,-6 4,7.3 6.3,-4 3,5.8 7.4,-4.6 3.5,8.4 6.7,-5.9 2.5,7.1"/>
<path id="c48" d="M1150.5,219.7l4.6,6.9 6.4,-7.7 4.8,9.4 6.1,-5.1 4.1,6 6.8,-4.3 4.4,6.9 6.8,-4.1 4.3,5.3 6.9,-4.3 3.3,8.1 7.6,-5.4 4.4,7 6.6,-4.4 3,7.4 7.3,-1.6"/>
<path id="c49" d="M1173.3,222.9l4,6.3 7,-5 3,5.8 7,-4.6 3.9,7.2 6,-5.7 5.7,6.5 5.6,-4.9 4,8.2 6.6,-5.3 4.4,7.2 6.8,-3.5 3.5,7.4 7.1,-5.2 4.2,5.2"/>
<path id="c50" d="M1136.1,215.9l3.5,5.2 6.3,-6.5 4.7,8.6 6.9,-5.3 2.7,8.2 7.2,-6.5 4,8.4 7.3,-6.8 3.8,7.9 6.3,-5.5 3.9,8 6.2,-6.3 4.5,7.3 7.4,-5 3.4,7.6 6.4,-5.7 4.1,7.5 6,-6.5 5,9 5.7,-5.2 4.7,7.4 6,-5.4 3.7,8.1 7.6,-4.4 2.5,7"/>
<path id="c51" d="M1183.7,227.0l6.3,-2.6 4.3,6.4 6.9,-5.9 5,8 6.4,-5.8 3.2,7.3 8.1,-5.4 3.1,7.7 7,-5.9 4,6.9 7.8,-3.5 3.5,7.6 7.3,-6.2 3.8,8.1 6.7,-3.9 2.9,7 7.9,-3.4 3,6.1"/>
<path id="c52" d="M1161.3,223.0l7.5,-4.2 3.9,6.5 6.5,-4.7 4.2,5.9 6.6,-4.7 3.7,8.7 7.4,-5.5 4.1,6.5 6.9,-4.7 3.4,6.8 7.2,-4.9 5,5.8 6,-5.4 4.9,7.5 5.7,-3.3 5.1,7.2 5.1,-4.4 5.6,5.2 6.1,-4.8 3,9 8.4,-5.4 3.7,7.2 5.7,-3.4 2.7,8.5 8.2,-1.2"/>
<path id="c53" d="M1195.5,224.9l3.2,5.8 7.8,-6.7 4.3,7.4 5.8,-4 4.6,6 7,-5.4 3.2,7.6 7.7,-5.3 3.4,8.5 5.9,-5.7 4.6,7.4 6.3,-5.4 4.1,7.7 7.2,-4.9 4.9,6.3 5.6,-3.8 3.6,7.9 7.4,-6.3 4.4,8.6 6.8,-4.9 3.1,8 5.2,0.7"/>
<path id="c54" d="M1135.6,216.0l5,-1.9 4.5,6.5 6.9,-5.5 4.5,7 6.5,-4.5 3.3,7.5 6.8,-7 3.7,8.9 7.5,-7 3.8,8.1 6.5,-6.3 5.2,7.5 5.1,-4.2 4.2,6.4 7.7,-5.2 4.1,7.5 7.1,-6.1 3.3,8 5.8,-6.3 5.6,7.9 6.1,-5.9 4.2,7.9 5.7,-6 5.2,8.4 5.9,-5.2 3.7,7.5 7.8,-4.3 3.3,5.8 6.6,-3.6 4,7 7.2,-4.4 3.4,7.4 7.7,-5.3 1.9,7.8 8.1,-2 2.9,6.5"/>
<path id="c55" d="M1205.5,225.8l3.4,5.4 6.3,-4.6 4,7 8.2,-7.6 2.6,8.6 7.9,-5.2 2.6,8.5 8.4,-7.5 3.3,7.2 6.8,-3.6 3.9,7.3 6.1,-5.3 4.8,6.6 7.2,-4.4 2.6,6.7 6.6,-4 4.1,6.2 7.2,-5.5 3.2,8.1 7.3,-4.1 3.4,8 7.8,-6.1 3,8.6 6.1,-2.6 2.9,6.3 6.6,0.7"/>
<path id="c56" d="M1173.3,220.2l4.5,5.4 7.6,-5.6 3.7,5.6 6.5,-4.1 4.5,7.3 5.8,-5.4 4.6,7.4 6.2,-4.3 4.9,5.8 7.2,-5.6 3.9,8.4 7.2,-6.4 3.2,7.7 7.2,-4.5 4.2,7.3 7.5,-6.3 3.2,7.5 7.2,-4.4 4.7,6.4 6.3,-4.1 2.8,7.5 7,-5.9 3.9,6.9 7.8,-4.3 4.3,7.7 6.1,-5.6 3.3,9.3 8.6,-5.9 2.3,7.3 8.3,-4.4 3.2,7.8 6.5,-4.2 1.9,8.2 7.6,0.5"/>
<path id="c57" d="M1212.8,226.3l4.2,5.1 5.9,-5.3 5.4,6.4 5.6,-4.9 3.9,7.6 8,-6.1 2.8,8.4 6.6,-6.1 5.3,8.1 5.2,-5.5 4.5,8.2 6.4,-6.6 3.8,8.9 7.5,-5.5 4,7.5 6.5,-5.3 4.1,7.8 6.8,-5.8 3.4,7.8 6.8,-3.8 4.3,5.8 5.8,-3.8 4,7.8 7.6,-4.7 3.8,6.7 6.1,-3.8 3.7,9 6.7,-5.8 2.5,8.8 6.6,0.9"/>
<path id="c58" d="M1128.1,213.3l5.2,-1.9 4.8,5.5 6.7,-3.3 3.8,6.6 7.4,-6.2 4.4,7.1 6,-6.3 3.5,9 6.1,-6.1 4.9,8.5 7,-7.6 5,7.8 6.1,-3.8 3.9,6.3 6.1,-7.1 5.2,8.2 5.9,-5.2 5.2,8.5 6.7,-5.3 4.3,6 5.5,-4.2 3.6,6.7 7.3,-3.5 4.8,6.1 5.4,-4.9 4.3,6.1 7.5,-3.7 3.8,6.9 6.7,-5.4 3.9,7.1 8,-6 2.4,8.5 7.6,-5.2 4.5,8.3 6.6,-5.8 4.2,7.1 5.6,-5 4.4,8.8 7.1,-4.5 4.2,6.1 6.7,-4.9 3.6,8.6 6.7,-2.9 3.1,6.1 7.4,-3.5 2.6,8.9 7.8,-3.6 1.1,8.3"/>
<path id="c59" d="M1215.0,225.8l4.6,4.8 6.5,-3.7 4.1,6.8 6.3,-4.9 4.8,6.1 6.2,-3.7 4,7.4 7.7,-6.4 3.5,9 7.1,-5.5 4.2,5.9 6,-5.4 2.9,8 7.9,-4.3 4.6,6.6 4.9,-4.7 5,8.1 7.1,-5.5 4,7.5 5.8,-5.1 4.1,8.2 6,-6.8 4.7,8 6.4,-4 3.7,6.5 7,-3.6 3.3,5.8 8.1,-2.8 1.6,7 8.5,-3.4 3.1,7.1 7.1,-2.1 0.7,7 7.9,-0.7 2.2,6"/>
<path id="c60" d="M1168.4,217.4l5.7,4.6 5.3,-5 6,7.7 5.8,-5.5 4.5,6.7 6.4,-4.2 3.8,6.9 6.8,-5.2 3.6,7.2 7.5,-5.8 2.9,7.9 7,-4 4.9,6 5.4,-4.2 4.3,6.4 6.6,-4.4 5.5,6.6 6.9,-6.2 4,10.1 6.5,-5.7 3.4,7.4 7.5,-6.2 3.3,7.6 7.6,-3.9 2.7,6.9 6.9,-5 4.5,6 6.4,-5.3 3.6,9 7.6,-6.5 3.6,8.3 6.5,-4.6 3.9,7.9 6.7,-5.8 3.9,7.9 7.8,-4.4 2.9,6 7.7,-4.5 3.2,8.3 7.4,-3.7 2.4,9 7.1,-5 3.4,9.3 7.9,-2.9 -1.5,8.3 6.5,1"/>
<path id="c61" d="M1222.8,228.7l5.1,-2.6 4.6,8 7.2,-5.7 3.2,6.1 6.9,-3.9 3.8,6.8 8.2,-3.7 2.3,7.6 8.6,-7 2.8,8.1 6.6,-4.3 5.4,8.1 6.7,-6.3 2.8,8.1 7.4,-4.2 3.9,6.2 7.5,-3.5 2.6,6.9 7,-5.7 3.7,8.1 7.6,-4.3 3.5,6.3 6.5,-5.5 5.2,8.8 5.3,-4.9 5.4,8.8 7.2,-6.7 3,7.2 7.3,-3.3 2.2,8 7.4,-3.3 2.9,6.7 7.5,-3.2 2.8,8.7 7.9,-2.6 0.9,8.8 8,-1 -1.1,6.8"/>
<path id="c62" d="M1118.7,205.5l4,5.3 7.9,-4 3.8,6.2 6.3,-5.2 3.3,7.4 7.3,-4.7 3.7,7.9 6.8,-5.8 4.1,6.3 6.7,-4.4 3.6,8.4 6.5,-4.6 5.5,6.4 6.8,-5 3.9,7.5 6,-6.1 4.7,7.2 6.9,-4 3.1,7.7 6.2,-6.5 3.8,8.8 6.8,-5 5.2,5.6 6.9,-4.7 3.2,9.1 6.8,-4.8 3.9,5.7 6.1,-4.5 4,6.6 7.5,-4.5 3.2,6.8 6.8,-5.2 3.7,8.2 8.1,-3.8 3.2,7.1 6.9,-5.8 3.6,7 6.5,-3.4 3.7,7.6 7.6,-5.9 4.2,8.2 7,-4.7 2.1,7 7.4,-3.5 4.9,7.3 6.8,-5.4 2.7,8.2 6.3,-4.6 4.6,7.4 7.7,-4.5 1.7,8 7.9,-3.6 2.4,8.2 7,-3.7 2.9,7.6 7.3,-1.4 2.3,6.4 7.2,-1.8 -0.9,9.6 5.4,2.3"/>
<path id="c63" d="M1230.0,231.4l6.9,-3.8 4.5,8 6.6,-4.3 3.9,7.3 7.4,-5.2 2.4,6.5 8.3,-4.9 2.3,9 8.2,-5.2 2.8,6.3 7.6,-4.1 4.1,7.9 5.5,-4.2 4.7,6.4 6.3,-3.8 4.2,6.4 7.7,-4.4 2.5,6.8 6.7,-4 4.3,7.2 7.2,-3.3 3.4,7.6 7.4,-4.4 3.2,5.4 6.6,-2.7 4.1,6 6.4,-3.1 4.6,8.1 7.1,-4.8 2.7,6.3 6.6,-2 2.6,8.5 8.5,-4.2 1.9,7.9 8.3,-4.2 1.6,8.2 8.8,-3.3 0.6,9.2 7.7,-1.7 -0.3,8 4.4,3.1"/>
<path id="c64" d="M1168.2,214.1l3.3,5.9 7.6,-3.7 2.8,7.9 8.1,-6.1 3.8,7.7 7.3,-3.7 2.4,7.2 8,-2.5 2.7,5.9 7.2,-4.5 3.6,7.9 7.2,-5.6 3.6,8.6 6.3,-3.9 4.5,8.3 7.4,-6 3,8.6 7.5,-4.6 3.4,7.1 6.8,-4.5 1.7,9.6 8.5,-5.8 3.8,8.5 7,-5.7 3.1,8.7 7.3,-5.4 3.4,8.4 6.5,-2.8 3.6,6.5 6.2,-4.7 4.3,8.2 7.5,-4.1 2.9,7.8 7,-4.2 3.2,8.4 7.9,-4.4 1.4,7 8.7,-3.1 2,7.8 8.7,-5 1.3,7.5 8,-2.9 3.2,6.9 7.9,-3.3 0.9,9.2 8.5,-4.4 1.3,9.8 8.5,-4.6 2.4,6.8 7.5,-2.6 2.4,8.7 6.6,-1.6 1,8.4 6.8,0.3 0.8,7.2"/>
<path id="c65" d="M1227.4,234.9l3.6,5.9 6.6,-2.6 4.1,8.4 7.7,-4.6 1.5,7.1 8.2,-4 2.7,7.2 7,-4.2 2.5,9.4 8.7,-5.1 3.1,8.8 6.5,-4.1 2.4,9.3 9,-6.4 2.4,9.6 7.5,-3.1 2,6.6 8.9,-3.5 1.7,7.5 6.9,-3.3 3.7,9.2 6.3,-4.2 2.9,6.1 8,-2 3.4,7.4 8,-3.4 0.5,8.3 9.1,-3.4 1.7,8 7.2,-4.4 3,8.7 7.7,-2.6 1.3,8.2 9,-3.8 0.3,8.3 8.1,-3.3 2.5,8.6 7.2,-2.7 2,10.3 7.1,-3.3 1.9,8.1 8,-0.6 -0.1,6.8"/>
<path id="c66" d="M1108.9,190.7l8,-0.7 2.3,6.2 7.5,-2.7 1.4,7.6 8.8,-4.5 1.8,9.8 7.3,-4.3 3.3,9 7.1,-5.7 3.7,8.1 7.3,-2.9 1.3,7.6 7.7,-3 3.3,7.2 8.1,-3.3 1.5,7.9 7.3,-3.6 3.4,8.4 7.2,-3.6 2.9,6.7 7.3,-1.7 2.3,6.7 7.2,-2.2 3.5,7.7 6.9,-3.4 2.7,7.5 7,-2.5 3.3,7.2 7.6,-2.8 2.4,7.7 8.1,-5.1 2,9.8 6.6,-4.4 2.8,7.9 7.8,-3 1.4,7.5 7.2,-2.7 3.9,7.8 7.4,-2.7 2,7.4 8.3,-3.7 1.1,7.6 8.7,-2.8 2.1,8.3 7,-3.6 2,9 8.4,-4.6 2.3,9.1 8,-4 0.9,9.4 8.2,-3.4 0.9,9.1 8.7,-3.4 1.7,8.1 6.9,-1.9 1.5,8.9 7.4,-3.1 1.8,8.8 8.5,-1.9 0.3,6.2 7.7,-0.3 1.6,8.4 8.5,-3.9 2,7.7 6.6,-0.6 3.3,5.3"/>
<path id="c67" d="M1216.3,237.8l8.1,-1.9 1.7,8.7 7.3,-3.1 1.1,8.5 8.5,-2.9 3,7 6.6,-3.1 2.9,8.2 8,-2.6 1,8.3 7.8,-2.4 2,7 7.3,-1.9 2.4,8.6 8.9,-4.2 0.9,8.6 7.3,-4.4 2.8,8.9 8.5,-3.5 0.2,10.2 8.9,-4.4 1.1,9.2 7.1,-2.9 1.9,7.1 7.7,-1.8 1.8,9.3 8,-3.8 2.5,8.2 7.7,-1.6 0.7,8.4 8,-3.2 2.1,8.8 6.5,-2 0.9,7.6 8.4,-1.9 1.5,8.8 7.1,-2.5 2.4,8.5 7,-1.8 0.1,8.7 9.2,-1.5 -0.2,7 7,2.5"/>
<path id="c68" d="M1156.1,206.2l5,-1.2 2.7,7.1 8.9,-2.4 0.1,8.8 8.8,-3.9 2.1,9.1 6.8,-2.4 2,6.9 8.8,-2.1 1.4,7.4 8.6,-2.4 0.9,8.7 7.6,-2 1.2,7.6 9,-3.5 0.5,8.4 9,-2.8 0.3,9.3 8.8,-3.5 1.5,8 8.6,-0.8 0.3,6.1 8.5,-2.9 1.7,8.8 7.5,-1.5 2,8 7.8,-3.9 0.5,9.8 8.9,-3 1.3,7.7 9.4,-2.2 -0.3,8.5 8.1,-2.3 1.3,9.7 9,-3.8 0.5,8.8 8.6,-1.7 0.9,6.6 6.7,0.1 0.8,7.6 9.4,-1.1 0.1,6.5 7.7,-0.7 0.5,9.2 9.8,-3.8 -0.3,9 8.8,-1.9 0.9,9.1 8,-1.9 -0.8,8.8 8,-0.8 -0.2,8.5 10.3,-0.8 -0.2,7"/>
<path id="c69" d="M1209.0,236.1l2.1,6.2 9.1,-2.9 -0.2,9.3 7.9,-3.5 1.3,9.4 8.3,-2.3 1.5,7.8 7.7,-2.1 0.6,8 8.6,-2.7 0.1,9.3 8.8,-3.5 1.3,8.7 8.4,-0.9 0.1,7.5 8.4,-1.3 1,7.8 8,-2.7 1.7,8 7.2,-2.2 0.6,8.2 7.8,-1.6 1.6,7.8 8.7,-2.2 -0.3,9.7 8.2,-1.5 0.3,8.1 9.5,-2.6 -0.4,9.1 7.3,-0.9 1.7,7.4 6.8,-0.8 1.2,8.5 8.7,-2.2 -0.1,9.6 7.4,-2.8 -0.2,9 8.1,-0.6 -0.8,7.4 8.5,0.7 -0.7,8.2 5.4,2.5"/>
<path id="c70" d="M1103.9,173.4l2.3,6.5 8.2,-3 1.4,10.1 8.1,-4.2 1.4,8.5 9.6,-2.8 0.3,7.4 8.4,-0.5 0.8,7.8 8.9,-3.6 0.1,9.3 8.3,-3.1 2.2,9.1 8.3,-3.1 -0.4,8.5 9.6,-1.9 -0.1,9.3 8,-3.9 0.9,9.1 8.2,-1.8 0.5,7.3 8.2,-2.5 2.7,8.5 7.5,-1.8 0.1,8.3 8,-0.8 2,8 7.5,-3.6 1.4,8.5 8.4,-1.9 0.8,9.1 8.3,-1.5 -0.5,8.6 9.5,-2 -0.5,8.5 8.6,-1.7 -0.2,7 9.2,-2 1.4,9.2 7.6,-1.6 0.2,7.7 8.6,-1.6 -0.2,8.5 7.6,-0.9 1.6,8.6 8,-2.1 -0.2,7.9 8.7,-1 -0.5,7.6 8.7,-0.9 0.4,8.4 8,-0.4 -0.5,8.4 9.1,-1 -0.1,8.1 7,-0.4 0.5,8.6 7.8,-0.5 -1,7.6 8.1,0.7 -1.8,7.3 6.2,3.1"/>
<path id="c71" d="M1193.4,233.3l2.5,7.4 7.9,-2.4 0.5,9 8.1,-1.8 1.9,6.9 7.1,-1.1 1.2,7.4 8.4,-1.2 0.6,8.3 7.6,-1.5 1.5,7.8 7.6,0.2 0.1,7.4 7.9,-2.7 0.5,10.2 7.6,-1.7 1.3,7.3 8.2,-1.3 0.2,8.7 8.3,-2.1 -0.8,9.2 9.4,-1.3 0.6,8.1 7.8,-1.8 0,8.4 8.8,-1 -1.5,9.7 8.2,-1.4 1.1,8.1 6.6,-1.3 -0.2,8.3 9.1,-0.4 -1.1,8.2 9.5,-0.4 -2.1,7.9 8.4,-0.4 -0.9,9.5 7.4,0 -1.2,8.6 7.3,0.6 0.6,6.9"/>
<path id="c72" d="M1143.3,202.3l5.4,-0.4 2.6,6.7 7,-0.9 0.2,8.6 8.8,-2.5 0.9,8 7.8,-0.7 0.9,8.5 8.7,-1.3 -0.6,7.5 8.3,-1.2 0.6,9 8,-1.5 0.5,8.4 9.5,-2.7 -1,8.6 7.8,-1.3 1.2,8.3 8.1,-1.5 0.5,9.6 8,-2.6 -0.2,10.2 9.1,-4 -0.5,9.4 7.8,-1.8 2,9.8 7.5,-2.2 -0.8,9.1 8.3,-2.2 -0.3,10.5 8.6,-2.4 0,8 9.3,0.3 -2.1,7.8 9.2,-0.1 -0.4,7.5 8.5,0.7 -0.3,6.4 8.1,0.9 -1,8.3 8.7,-1 -0.6,9.3 7.2,0.2 -0.9,8.2 7.4,-0.8 -0.6,9.3 8.2,-1 -2.7,9.8 9.4,0.4 -0.5,7.5"/>
<path id="c73" d="M1185.0,234.5l0.4,6.7 9.2,-1.5 -1.2,8.6 10.4,-0.8 -1.5,7.9 7.7,-1.2 -0.1,8.6 9.7,-2.1 -0.9,9.4 7.9,-0.7 -0.2,8.8 9.4,-0.7 -0.7,7.7 8.6,-1.6 0.5,9.1 6.5,-0.6 -0.1,8.2 8.7,-0.3 -0.2,7.8 8.6,-0.8 -1,8.2 8,-0.2 -1.2,8.4 8.4,-0.8 0.3,8.3 8.3,-0.5 -1.9,9.3 7.6,-0.9 0.9,9.3 6.4,0.1 -0.5,6.8 9,1.2 -2.4,8 9.6,0.3 -2.8,7.7 9.5,1.3 -3.2,7.5 6.4,3.4 -0.6,5.9"/>
<path id="c74" d="M1098.6,172.7l2.4,7.9 8.7,-3.8 0.8,9.4 7.9,-2.8 0.8,8.6 7.8,-1.1 1.8,6.5 8.4,-1 -1,8.5 8.6,-3.2 1.2,9.6 7.1,-1.3 1.3,8.1 7.6,-1.4 0.5,7.6 8,-0.4 0.5,8.2 7.6,-1.5 0.4,9.7 8.7,-2 -1.8,9 9,-0.9 -0.2,8.6 7.9,-1.8 -0.6,8.3 9.4,-0.3 0,8.3 8,-1.4 -0.3,7.9 7.3,0.8 0.9,7.1 5.8,1.2 0.2,6.6 9.4,-0.3 -1.3,7.2 7.7,0.2 -1.1,8.8 9.4,0.3 -0.9,8.3 7,0.3 -1.3,6.9 9.5,0.7 -1.2,8 8.8,0.5 -1.8,8.4 8.1,-0.2 -1,8.2 8.5,-0.7 -2.5,9.1 7.7,1.3 -0.3,7.1 7.2,1 -0.8,7.6 8.3,1.6 -2.6,8.8 6.9,1.6 -0.7,7.1"/>
<path id="c75" d="M1173.1,236.6l7.7,0.2 -1.2,9.5 9.8,0.6 -0.4,6.5 7.6,0.2 0.3,8.4 8.5,-0.5 -0.8,8.5 8.2,-1 -1.4,8.1 8.2,-0.8 -0.9,9.4 8.3,0.4 -0.3,7.1 7.7,0.9 0,8.3 7.3,1 -0.9,7.2 9,-0.8 -2.5,9.3 10.2,-0.2 -1.2,7.9 8.3,1 -1.3,8.2 6.5,0.2 -0.5,8 8,1.2 -1.9,8 7.1,1.7 -0.9,7.2 8.8,1.5 -3,8.8 8.4,1.4 -1.5,7.1 8.3,1.3 -4.1,9.2 5,2.2"/>
<path id="c76" d="M1134.1,204.5l8.7,1.1 -0.4,7 8.2,0.5 -1.5,8.7 8.8,-1.6 0.4,7.7 7,0.9 0,8.3 9.1,-1.6 -1.7,8.8 8.7,-1 -0.7,8.6 7.7,1.2 0.4,7.3 7.1,-0.3 -0.1,9.2 9.3,-1 -0.8,8 6.8,0.9 -0.1,6.9 8.1,0.4 -2,8.6 8.9,1.5 -1.3,7.3 7.4,1.6 -0.3,6.9 8,-0.2 -1.6,8.5 9.4,0.9 -2.7,8.4 7.5,0.3 -2.3,9.9 9.3,0.8 -2.5,7 9.2,1.6 -1.6,7.7 6.8,1.2 -2.7,9 9.5,0.9 -2.9,7.4 8.5,1.6 -3.8,8.1 7.2,3.3 -1.6,5.9 5.4,4.3"/>
<path id="c77" d="M1169.5,240.4l-1.4,7.1 9.9,-0.5 -0.3,6.6 7.1,1.5 0.1,8.5 8.6,-0.9 -2.8,8.9 9.1,-0.1 -2.8,9 9.9,-0.9 -1.9,8.9 7.8,1.5 -0.3,8 7.6,-0.4 -0.9,8.1 7.2,0.9 -1.4,7.8 6.7,2.4 0.2,7.3 6.3,0.7 -2.1,9.4 9.5,-0.1 -2.8,9.5 9.7,1.1 -3.7,8 7.7,1.2 -2.5,7.4 8.4,1.7 -2.6,9.3 9.3,0.4 -3.3,8.4 6.6,2 -2.7,7.5 8.1,2 -2,8.2"/>
<path id="c78" d="M1093.5,173.8l6.1,1.1 -0.1,7.4 8.3,-1.7 1.2,8.3 7.4,-1.4 -0.1,8.5 8.3,0.2 -0.9,7.9 9.1,-1.2 -1,7.9 9.7,0.3 -1.7,8.9 7.8,-0.5 -0.5,8.1 8.2,1 -0.4,7.1 7.4,-0.4 0.6,9.4 7.2,0.5 -1.5,7 9,1.2 -1.9,7.3 9,1.7 -2.6,8.7 8.3,-0.4 -2.5,8.8 8.5,1.3 -1.9,7.2 8.3,1.3 -1.3,7.6 7.5,1.6 -2.7,8.6 8.3,0.5 -2,9 9.4,-0.2 -2.3,8.7 7.6,1.5 -3,7.7 6.9,2 -2.6,7.8 8.2,1.1 -1.7,9 8.4,1.6 -2.7,7.4 7.6,2.2 -2.4,8.3 8.6,2.3 -4.4,6.4 8.1,2.6 -2.4,8.1 7.9,2.6 -2.4,6"/>
<path id="c79" d="M1157.6,239.4l-0.6,7.7 7.9,0.6 -0.8,7.6 8.2,1.6 -2.2,7.5 7.6,1.6 -2.3,7 7.5,1.3 -0.2,8.2 7.3,1.2 -3.5,9.7 9.1,-0.2 -3.2,9.1 8,0.8 -3.2,8.2 8.4,1.6 -2.4,8.6 9.2,0.6 -3.1,8.9 8.2,1 -2.8,7.6 7.4,2.8 -3.4,7.5 8.4,1.9 -3.1,8.4 8.2,3.1 -3.8,7.1 8.8,1.9 -3.5,8.1 7.9,1.8 -3.3,7 7.6,4 -4.9,7.5 6.8,2.5"/>
<path id="c80" d="M1121.9,202.2l1,6.3 7.4,1 -0.9,8.6 9.9,-0.2 -1.4,9.1 7.7,0.2 -1.6,7.9 8.4,1 -2.2,7.7 7.6,2.3 -1.8,7.9 9.1,0.7 -2.5,8 6.4,1.9 -2.8,7.9 8.7,0.9 -4.1,8.5 9.6,1.8 -4.4,8.1 9.1,1.4 -2.7,7.8 7.5,2.5 -2.2,7.3 7.6,2.9 -3.8,6.7 8.6,2.9 -4,8.5 10,1.2 -5.1,9.3 9.6,0.8 -3.6,9 7.2,1 -2.6,8.5 7,1.5 -4,7.5 8.3,4.1 -3.2,7 7.9,3.2 -4.9,6.7 7.4,3 -3.9,7.2 6.3,3.4"/>
<path id="c81" d="M1146.4,240.1l0,5.8 7,2.1 -2.9,8 8,1.3 -3.7,8.9 8.4,2.5 -3,6.5 8.6,1.7 -4.9,9.3 9.4,2.6 -4.6,7.4 8.4,2.3 -3.4,7.4 8.2,3 -4.5,8.2 8.1,2.4 -2.4,5.9 7.9,4.3 -5.2,6.7 8.5,2.8 -3,7 6.6,4.1 -3.5,7.3 8,2.9 -2.9,7.2 8.4,1.8 -4.4,7.4 7.2,4 -3.7,7.1 7.9,2.8 -3.1,7.4 7.3,2.3 -1.6,7.2"/>
<path id="c82" d="M1086.5,172.0l0.7,5.7 10.3,-0.7 -1,9.1 8.4,-0.8 -1.4,7.8 9.1,0.5 -2,9 8.6,0.5 -2.6,7.8 8.4,-0.7 -2.6,8.6 8.3,1.8 -1.8,7.7 9.1,1.3 -2,7.6 7.8,1.5 -3.3,8.3 6.9,2.1 -2.6,7.9 7.6,3.2 -3.7,6.1 7.5,3 -4.6,7.1 9.2,3.5 -4.9,6.8 7.5,3.4 -3.4,6.6 8.6,2.9 -5.4,7.6 8.6,2.2 -4.4,8.2 8,3.2 -3.7,7.9 6.6,2.3 -2.8,7.8 7.4,2.6 -3.5,7.1 7.4,3.8 -5.1,6.9 9.5,3.2 -4.9,6.3 7.8,2.6 -4.3,8.3 8.5,3.2 -4.9,7.4 7.8,2.1 -3.6,8 7.8,2.7 -2.2,6.5"/>
<path id="c83" d="M1134.3,243.5l7.9,2.6 -6.1,8.8 9.2,3.5 -5.2,6 8.1,3.3 -3.9,7 7.3,4.3 -5.4,6.4 9.3,2.7 -6.1,8.7 8.1,2.3 -4.1,7.9 8.8,3.7 -5.2,6.9 6.7,3.1 -4.8,7.8 7.5,2.1 -4.6,7.8 7.5,3.3 -3.5,7 8.7,2.6 -4.4,8.2 7.8,2.7 -6.3,8.1 8.5,3 -4.6,6.4 8.2,4 -3.4,6.6 8,2.9 -4.2,7.3 6.9,3.4 -2.5,7.3"/>
<path id="c84" d="M1110.5,206.9l6.3,2.9 -1.9,7.8 7.6,1.4 -2.1,8.2 6.7,1.8 -3.1,7.8 7.9,2.8 -3.7,6.8 8.2,2.6 -5,9 8.7,2.8 -5,6.5 8,4.9 -4.7,6.1 7.5,3.4 -4,7.2 6.5,3.5 -5.8,8.4 9,2.9 -5,7.4 7,3.2 -3.4,7.8 7.1,4 -5.8,6.5 7.2,2.8 -3,7.8 7.1,3.4 -4.6,7.3 6.6,2.8 -4.3,8.4 6.2,3.2 -2.4,7.3 5.9,2.9 -4.5,7.6 6.6,4 -2.4,7 6.2,3 -3.7,6.5 5.6,4.9"/>
<path id="c85" d="M1128.9,245.6l-2.5,7.5 8.6,3.3 -5.7,6.3 6.2,4.9 -4.3,7.1 8.9,3.2 -6.8,7 7.4,4.1 -6.3,6.5 8.9,4 -6.4,6.8 8.2,3.7 -7.3,6.5 7.9,4.4 -4.8,7.9 7.3,2.6 -4.3,7.1 7.7,4.6 -5.7,7.2 7.5,3.4 -3.8,6.4 6.1,4.7 -4.1,6.2 7.1,4.9 -5.8,5.4 8.2,3.6 -6.5,8.2 8.9,4 -5.9,5.4 7.8,5.7 -3.2,5.6"/>
<path id="c86" d="M1080.3,172.3l0.3,5 8.7,0.9 -2,9.3 8.2,1 -2,8.2 8.2,1.2 -3.8,6.9 8.9,3.3 -2.3,7.2 7.5,1.8 -2.5,7 8.1,1.9 -2.6,8 7.9,1.7 -4.8,8.8 7,3.1 -4.2,5.9 9,4.4 -6.1,6.2 6.3,4.6 -4.8,5.7 8.1,5.1 -5.7,5.5 4.8,5.3 -6,6.4 9.5,5.4 -6.1,6 7.4,5 -7.3,6.1 7,3.6 -5.2,7.4 6.5,3.3 -3.6,6.6 6.3,3.9 -5.6,6.2 8.8,5 -5.5,5.5 7.8,4.5 -5.8,6.9 7.5,4.5 -6.6,6.5 8,4.5 -4.9,5.8 7.7,5.5 -7.5,5.9 8.9,4.6 -5.8,5.9"/>
<path id="c87" d="M1118.9,32.7l6.7,-0.4 0.9,6.9 6.3,-1.2 4.1,4.6 4.4,-6 6.5,5 2.5,-5.2 7.4,0.9 1,-4.9 7,0.7 1.3,-6.1 6.7,1.2 2.1,-6.7"/>
<path id="c88" d="M1061.5,10.1l4.3,3.4 6.2,-2.5 3.8,3.8 5.7,-3 3.7,4.9 5.9,-2.3 3.6,5.7 5.7,-1.5 2.2,6.9 5.6,-0.5 3,5 6.5,-1.2 1.2,6 6,0.5 0.6,6.2 6.1,0.2 1.8,5.9 7.1,0.1 0.6,7.1 6.4,-0.6 1.5,6.9 5.8,-0.2 0.8,5.9 6.9,-0.2 0.5,7.2 6.7,-0.8 1.5,5.4 5.3,-0.7 2.3,5.6 6.6,-2.6 4.4,6.9 5.4,-5.3 3.7,3.8 5.2,-5 5,4.2 5.1,-5.2 5.4,2.4 3.8,-5.2 4.7,3.1 3.5,-5.1 7.1,2.5 2.5,-4.6 5.6,2.9 4.2,-4.8 6.5,4.2 3,-5.4 6.6,2.1 3.4,-5.1 6.3,2.7 3.3,-5 5.1,2.4 3.5,-4.4 6.3,2.8 2.7,-5.4 6.3,2.4 4.6,-4.7 5.6,3 3.2,-5.8 4.9,1.2 4,-2.8 6.5,0.5 2.8,-3.5 6.5,-0.3"/>
<path id="c89" d="M1077.5,11.9l6.3,-0.4 3.7,4.8 6.4,-3.4 3.2,5.4 5.7,-2.6 1.7,4.8 6.2,-1 2.5,6.8 5.8,-2.1 2.2,6 6.7,0.1 0.1,6.9 6.8,0.3 0.4,5.3 5.8,1.3 2.4,5.3 6.2,1.9 -0.5,5.4 7.7,0.6 0.3,6.6 5.4,-0.2 1.9,5.5 6.5,0.4 0.5,6.7 6.5,0.1 1.6,6.7 6,-1.1 1.7,6.7 6.2,-1.8 3.3,5.1 5.4,-2 3.9,5.9 5.7,-4 3.2,4.1"/>
<path id="c90" d="M1095.5,11.8l4,-0.2 4.5,5.1 4.7,-2.8 3.7,5.6 6.9,-1 2.4,3.7 6.7,0.2 0.7,5.4 7.4,0.7 -0.1,5.3 6.3,0.1 1.4,5.5 6.5,1.6 1.1,6.1 4.7,2.1 0.7,5.3 6.5,0.9 -0.1,6.6 5.6,0 0,6.6 7.2,0.7 -0.2,7.5 7.6,-0.8 -0.4,8.2 7.2,-1.3 0.3,8.4 6.5,-1.4 0.4,5.6 6.8,0.7 2.3,5 6.7,-2.1 3.3,6.1 5.5,-3.1 4.9,4.3 4.4,-2.7 3.9,4.4 5.7,-4.8 4.8,5.1 4.3,-5.5 4.7,4.6 6.4,-4.4 3.9,6 4.5,-5.3 5.3,4.9 4.9,-4.4 4.3,3.5 6.2,-3.6 3.6,5.1 6.1,-5.6 5,5.1 4,-5.5 5.6,5.3 3.9,-4.5 5.6,3.6 5.2,-2.7 4.7,3 5.2,-3.9 3.5,4.3 6.1,-4.1 4.6,3.8 4.7,-4.1 4.8,3 5,-3.2 4.8,3.1 5.4,-3.4 4.7,4.1 3.5,-4.6 5.2,4.1 5.1,-4.1 5.2,3.2 5.4,-3.2 3.6,4.5 5.2,-3.9 4.9,2.2 4.4,-3.6 5.2,4.2 4.3,-4.2 5.4,3.1 5.9,-1"/>
<path id="c91" d="M1092.8,11.3l5.1,0 2.4,4.2 7.1,-1.3 2.1,4.4 5.6,-1.4 4,6.5 5.1,-2.7 2.7,6.1 5.6,0.6 2.2,6.5 4.6,0.4 2,5.7 4.9,1.7 1.2,5.7 5.3,0.2 0.6,6.8 7,0.1 0.4,7.1 6.7,0.8 -1.1,5.9 7,0.7 0.2,5.8 5.4,1.6 0.8,6.7 7.2,0.2 -0.5,6.4 7,0.7 1.4,4.8 6,0.6 2.8,5.4 5.3,-2.1 2.2,6.9 6.2,-3 4.5,5.8 4.2,-4.4 5.8,4.4 5.2,-2.3 4.3,5.5 4.3,-3.3 4,4.1 6.3,-3.3 4.3,3.5 5,-2.2 4.1,4.2 4.7,-3.3 5.1,4.3 5.7,-1.6"/>
<path id="c92" d="M1090.7,10.9l4.6,-0.5 3.3,4.9 6.9,-2.3 1.4,5.3 6.6,-1.2 2.3,5.2 6.9,-0.6 2.1,6.2 5.7,-1.2 0.2,7.1 7.2,1.7 0.7,6.2 6.6,0 0.3,6.8 7.1,0.3 0,5.4 6.4,0.9 -0.1,7.1 6.4,1.7 0.4,6 5.9,0.9 -0.1,6.8 6.7,-0.1 0.8,7 6.3,0.4 -1.1,6.2 7.3,0.1 -0.1,6.3 6.6,-0.3 2.9,7.9 6.3,-1.8 2.1,6.5 6,-2.2 3.7,5.1 6.3,-3.4 2.9,4.5 6.6,-1.2 3.2,5.4 5.1,-4 4.2,3.8 5.4,-1.9 4.7,4.2 4.9,-3.4 4.3,5.8 6.3,-3.8 3,5.6 6.4,-1.9 3.5,4.2 6.1,-3.1 3.9,6.7 5.7,-3.6 3.3,5.4 6,-3.9 3.2,5.5 7.3,-3.4 3.3,6.8 4.8,-3.2 4.8,5.3 5.1,-2.4 4,5.4 6,-3.6 3.6,5.3 5.4,-3.2 4.4,6 5,-2.9 4.7,5.6 6,-3.3 2.9,5.1 5.7,-4.4 4,7.1 5.2,-4.1 4.8,5.3 5.3,-2.7 4.4,5.6 5.3,-3.9 4.7,4.9"/>
<path id="c93" d="M1089.5,8.6l2.1,5.3 7.3,-2 1.9,5.1 6.2,-1.8 3.8,5.3 5.4,-1 1.9,5.9 7.5,-0.2 -0.6,6 7.2,0.9 0.7,6.8 6,-0.3 0.7,5.6 6.7,1.5 1,6.7 6.7,0 -1.3,6.4 6.8,1.8 -0.4,6.7 6.7,1.2 -0.2,5.4 7.8,1.8 -1.5,6.2 7.2,1.6 0.9,6.2 5.4,0.3 1.8,6.3 4.6,1.2 2.7,5.9 5.7,-1.1 2.5,5.8 7,-1.2 2.2,5.8 5.5,-3 4.7,5.5 4.3,-0.7 3.7,4.7 7.1,-3.4 2.9,6.7 6.6,-3.3 2.4,5.7 5.8,-1.8 4.2,3.5"/>
<path id="c94" d="M1087.2,10.3l4.2,-0.7 3.4,4.7 5.9,0 3.1,5.3 6.3,-2.9 3,7.6 6.2,-1.7 0.2,5.6 7.1,1.3 1.3,4.9 5,2.1 1.8,5.7 5.3,-0.3 1.1,7.8 7.7,-0.8 -1.5,7.5 6.2,0.8 0.9,7.2 6.1,0.4 -1.8,7 7.2,1.3 -0.1,6.2 7.2,0.7 0,5.8 6.5,1.7 -0.4,6.9 5.1,1.1 2.4,5.2 6.7,0.3 0.8,6.2 7.2,-1.8 1.1,6.4 7.2,-1 3.1,4.5"/>
<path id="c95" d="M1084.7,9.4l5.1,-0.1 2.8,5.7 8.1,-1.1 1.7,5.8 6.9,-3 2.3,7.3 5.9,-0.7 1.3,6.5 7.9,0.3 -0.4,7 6.1,-0.4 0.2,8.4 7.3,-2 0.4,8.6 6.7,-1 0,8.3 6.3,1.5 -1.4,6.1 6.2,1.1 0.1,8 7.3,0.1 -1.6,8.3 6.5,0 -0.5,6.7 8.7,1.9 -0.3,7.2 6.6,-1.2 -1,7.2 9.1,0.2 -1.1,7.1 7.3,-2 1.5,8.2 6.4,-0.3 2.8,4.6 5.4,-0.4 3.3,5.5 6.7,-0.8 2.7,6.3 6.6,-1.8 2.3,5.4 5.9,-1.8 3,7.3 7.3,-3.4 2.6,6.2 5.7,-2 2.7,6.2 7.1,-2.2 2.1,6.9 6.3,-3.3 4.5,5.5 5.6,-1.8 2.3,6.9 7.5,-1.9 2,5.8 6.6,-1.8 4,5.8 5.1,-1.4 3.8,6.1 6.6,-2.7 2,6.5 7,-3 1.4,6.6 7.5,-1.7 3.3,4.6"/>
<path id="c96" d="M1082.7,8.1l3.9,4.6 6.2,-1 3.7,6.2 6.7,-3 2,7.8 6.6,-0.8 1.3,6.4 6,0.4 -0.5,6.4 8.8,-0.9 -1.3,9 7.3,-1 0.1,7.2 7.2,1.5 -0.9,6.8 7.9,1 -2.8,6.6 8.6,0.3 -1.9,7.6 7.3,2.2 -0.7,6.4 7.2,0.9 -1,6.7 7.1,0.8 -0.5,6.8 6.9,1.2 -0.6,6.9 6.7,-0.2 1.1,7.6 7.5,-0.7 -0.2,7.8 7.1,-0.7 0.9,7.9 7.6,-1.7 1,7 7,-1.6 2.8,4.3"/>
<path id="c97" d="M1081.7,8.9l2.8,5.2 6.3,-1.1 2.7,5.5 5.9,-0.6 2.3,6.3 6.2,-1 0.8,6.5 7.7,0.4 -0.2,6.3 7,0 0.2,7.2 7.4,-0.4 -1,6.9 6.5,1.7 0.7,6.5 7.1,0.6 -2.3,6.9 7.8,2.5 -2,7.4 6.6,0.2 -0.2,8.2 7.1,1 -2.2,6.3 7.2,0.6 -0.3,8.7 7.1,-1.3 -0.3,8.6 6.2,-0.4 -1.4,7.3 8.1,0.5 1.8,6.6"/>
<path id="c98" d="M1079.3,10.1l5.4,0.1 1.4,5.4 8.2,-1.3 1,7.6 7.2,-2.1 1.1,7.2 7,-0.1 0,8.3 5.4,-0.4 0.5,6.2 6.6,1.3 2,6.1 6.4,1.5 -0.4,6.6 6.9,0 -2.4,7.5 7.5,2.5 -1.6,5.4 6.1,2.8 -1.7,6 8,1.6 -1.6,7.4 6.2,0.6 -0.5,8.6 6.6,0.7 -2.3,7.6 6.3,1.3 -0.5,7.4 7.2,-0.2 -1.4,6.6 8.3,1.3 -1.6,7.4 8,-0.2 -1.7,7.7 7,0.4 1.3,5.6"/>
<path id="c99" d="M1076.8,9.2l7.2,0.1 1.4,7.7 7.8,-0.8 -0.9,7.7 7.6,-1.5 -0.1,8.4 8.9,-1.9 -1.6,8.2 8.3,-0.3 -0.4,7.1 8.5,-0.4 -1.4,8.9 8,0.3 -2.8,7.4 9.3,0.4 -2.6,7.5 7.2,1.5 -4.4,8.9 9.9,-0.2 -3.9,8.9 8.4,0.8 -4.4,8.3 8.9,1 -3.5,7.8 7.4,1.2 -4.2,7.9 9.6,2.4 -3.4,6.6 6.8,2.2 -2.6,7.6 9,0.5 -3.4,8.6 8.4,1.3 -2.6,7 8.4,1.1 -2,6.5 8.8,1.1 -2.9,8.1 7.4,0.4 -0.7,8.3 9.1,-2.5 -2.4,8.5 8.9,-0.9 -0.6,8.4 9.6,-3.2 -0.3,7.9 6.7,-0.4 1.6,7.4 7.6,-2.9 2.5,6.2"/>
<path id="c100" d="M1075.0,10.2l6.3,0 1.4,8.5 7.3,-2.1 0.2,7 8.8,-0.4 -1.3,6.8 7.5,-0.5 -0.1,8.5 7.8,-1.1 -1.1,8 7.2,0.3 -0.6,8.2 7.2,0.1 -2.4,8.3 8.1,2.3 -3.7,6.6 7.7,1.4 -2.4,8.4 7.2,0.7 -4.5,8.2 8.4,1.7 -2.4,8.4 6.9,2.3 -3.5,6.5 7.2,2.6 -4,7.9 6.5,1.5 -2.7,7.3 10.2,2.1 -5.2,7.6 7.8,1.8 -1.2,6.8 6.7,1.5 -2.6,7.9 8,0.6 -1.9,8.5 8.4,-0.3 -0.1,7.6"/>
<path id="c101" d="M1073.2,8.6l1.8,7.8 8.2,-3.1 0.6,8.1 7.8,-1.7 0,7 8.8,0.4 -0.6,7.2 7.9,0.1 -1.1,8.1 5.6,0.3 -0.9,7.5 8.2,1.9 -2.5,6.2 6.5,3.3 -2.2,7.2 7.5,1.2 -4.3,8.5 8.5,2.7 -5,5.8 7.4,2.9 -3.4,8.2 7.9,3.4 -6.1,5.6 8.8,4.2 -3.2,7 6.8,1.5 -3,7.5 7.3,3 -2.2,7.2 6.8,1 -3.1,7.3 7.7,3.4 -3.7,7 8.9,1.4 -2.1,7.2 6.7,0.8 -2,7.7 8.6,0.7 -2.4,7.6 7.1,2.9"/>
<path id="c102" d="M1069.8,10.7l6.8,-0.9 1.5,9 8.9,-4.6 -1.3,10.4 10.1,-1.3 -2.3,9 9.5,-1.1 -2.7,8.7 9.2,0.4 -5.4,9.7 9.4,0.9 -2,7 7.8,3.4 -5.2,6.8 8.8,3.3 -6.5,6.6 9.1,3.3 -4.9,6.8 9.5,3.5 -6.5,8.2 7.9,3.5 -7.2,7 10.8,2.8 -7.8,8.3 10.5,1.4 -5.1,8.5 8.6,2.4 -5.1,7.8 9.2,0.8 -4.5,8.8 9,1.6 -5.4,9.2 10.6,0.1 -3.7,8.7 8.4,0.7 -3.8,8.9 10.4,0.1 -5.5,9 10.7,0.5 -3.3,9.6 8.7,-0.3 -1.6,7.6 7.4,1.1"/>
<path id="c103" d="M1067.5,10.0l1.3,7.3 8.5,-2.6 0.4,9.2 8.8,-1.5 -1.6,8.9 8.8,-0.5 -3.3,9.6 9.9,-1.3 -3,9.2 9.1,0.7 -5.5,8.8 11,1.9 -5.9,8.1 11.1,1.6 -7.8,7.7 9.6,3.7 -7.1,6.3 8.9,4.3 -5.5,7.3 9,1.7 -6.8,7.3 8.6,4.8 -7.7,6.9 10.3,3.5 -5.2,7.2 8.2,2.1 -5,8 9,2.1 -5.2,7.2 10.4,2.6 -7.3,9 10.4,1.3 -4.2,7.6 9.1,0.5 -5.1,10.3 11.7,0.2 -4.2,7.7 7.4,2.5"/>
<path id="c104" d="M1062.9,14.6l6.7,-1.7 -0.7,11.8 10.2,-3.9 -3,10.5 9.8,-1.6 -3.6,11.2 11.4,-2.6 -3.9,9.1 10.1,0.8 -6.2,9.7 11.8,1.8 -6.6,8.8 10.7,0.4 -7.2,8.2 9.8,3.5 -7.9,8.6 9,1.8 -4.6,7.9 9.7,4.2 -8.4,6.4 7.9,4.7 -6.3,5.6 10,5.2 -8.2,7.3 10.8,2.4 -6.6,7.7 10.4,1.7 -7.3,8.8 10.8,3.1 -4.7,7.6 8.6,0.8 -5,10 10,0.7 -5.4,7.9 10,1.6 -4.2,8.6 10.2,2.1 -3.5,6.4 7.8,3.3 -1.5,6.9"/>
<radialGradient id="fl" gradientUnits="userSpaceOnUse" cx="0" cy="0" r="1" gradientTransform="translate(1052 104) scale(368 480)"><stop offset="0" stop-color="#fff5ff"/><stop offset="1" stop-color="#ff00ff"/></radialGradient>
<radialGradient id="fr" gradientUnits="userSpaceOnUse" cx="0" cy="0" r="1" gradientTransform="translate(1057 95) scale(150 340)"><stop offset="0" stop-color="#ffe0ff"/><stop offset="0.3" stop-color="#ffa8ff"/><stop offset="0.6" stop-color="#ff66ff"/><stop offset="1" stop-color="#ff14ff"/></radialGradient>
<path id="fcl" d="M1057.0,25.7 1053.6,27.2 1049.3,29.4 1046.2,27.7 1042.9,31.6 1036.6,32.8 1035.6,31.7 1030.4,34.4 1027.5,35.0 1022.6,38.1 1020.5,40.3 1015.8,39.1 1011.3,42.7 1008.7,41.8 1004.6,44.5 1002.1,45.6 996.8,49.0 993.7,48.1 990.4,51.8 987.1,52.8 981.6,54.6 979.4,55.6 973.9,58.4 970.0,59.5 968.1,61.2 965.1,62.3 962.0,65.1 957.9,66.9 953.4,68.3 949.3,71.0 946.9,72.9 942.3,73.4 941.4,76.8 935.9,78.5 931.4,81.2 930.4,82.9 924.2,82.6 923.4,85.8 919.9,87.1 914.1,87.9 910.2,88.6 908.4,92.9 903.9,92.5 898.7,94.6 895.5,95.8 891.6,97.1 887.8,98.1 884.1,101.9 880.4,101.3 877.2,103.3 873.8,103.8 868.1,103.9 865.8,106.0 861.9,107.1 857.6,106.3 855.2,108.9 851.6,109.5 845.8,110.3 843.2,111.4 840.2,112.2 836.3,114.1 829.9,114.6 825.8,116.3 822.1,117.3 817.9,118.7 814.5,118.0 810.4,119.1 806.4,119.1 802.9,118.6 800.7,120.3 794.7,121.0 791.3,120.5 787.3,121.4 783.3,123.0 778.5,121.5 776.8,123.5 771.3,123.9 769.0,124.5 762.3,122.9 760.4,123.6 755.5,126.3 751.0,123.9 748.6,126.1 742.9,124.7 740.3,125.1 736.2,125.5 730.4,125.8 728.6,125.8 724.9,127.3 719.4,125.2 717.0,127.7 710.5,125.2 708.6,126.9 704.3,126.4 698.7,127.6 695.3,126.0 693.2,126.3 687.0,126.8 683.4,125.7 679.0,127.9 675.8,127.8 680.8,128.9 682.3,131.4 688.9,129.0 691.3,130.6 695.2,129.2 698.9,128.5 703.5,129.3 708.8,130.0 711.4,128.2 715.2,130.8 720.7,127.8 722.8,129.1 729.0,127.5 731.6,128.8 734.3,127.4 740.4,129.0 742.5,125.9 747.1,126.8 750.7,128.0 755.2,127.1 759.7,125.8 763.2,127.1 768.0,126.3 770.5,124.9 774.7,124.1 780.6,124.2 784.8,124.0 788.8,121.9 792.9,122.0 794.3,121.2 798.5,122.7 802.8,123.1 806.4,121.5 812.3,121.7 814.6,120.2 820.4,119.7 824.3,121.3 826.2,120.8 832.6,121.1 834.5,120.3 838.7,120.5 843.0,121.5 846.6,119.5 852.4,120.5 855.1,122.3 860.3,121.8 862.5,122.0 866.4,123.0 869.9,123.9 874.6,125.6 877.8,125.0 881.6,126.4 888.1,126.6 891.2,128.7 895.7,128.4 898.5,130.5 901.5,130.3 907.2,131.8 909.8,135.7 914.5,135.4 916.6,137.1 921.7,139.9 923.7,139.1 927.8,140.0 933.3,140.9 936.8,144.8 939.9,144.3 945.0,145.0 947.4,144.7 950.3,146.2 956.0,146.5 958.3,148.6 962.8,148.7 966.9,149.1 972.4,149.6 975.1,152.0 978.1,152.6 984.0,153.0 985.5,154.5 989.4,154.0 996.0,156.0 997.8,155.6 1001.6,160.7 1001.5,164.6 1004.9,168.1 1005.5,169.5 1004.6,175.6 1004.6,179.3 1002.9,182.7 1001.3,185.7 1000.8,189.3 999.4,192.0 996.1,197.3 995.9,201.1 993.8,204.1 988.9,207.4 988.7,210.4 986.3,212.6 982.0,215.1 980.9,219.8 975.8,221.6 973.1,224.4 971.1,224.9 967.0,226.9 963.5,228.1 958.0,229.7 956.3,233.2 951.1,232.3 948.5,235.3 943.3,237.1 941.9,238.7 936.2,239.5 934.5,241.8 931.1,244.3 925.3,245.7 921.4,247.7 919.8,248.2 916.3,250.9 912.8,251.9 909.2,252.1 905.3,253.8 899.9,254.8 895.3,257.3 894.2,257.4 888.9,259.9 884.8,261.4 881.5,262.5 878.3,263.9 872.5,262.9 868.8,264.7 866.2,266.9 861.7,268.0 858.5,267.8 853.1,269.8 851.1,269.4 845.0,270.5 841.6,272.0 837.5,274.1 835.5,274.4 829.6,273.5 826.5,275.6 823.4,275.6 819.0,275.8 815.1,276.6 809.6,277.5 805.9,278.8 801.9,276.9 799.0,278.3 796.3,278.4 791.6,277.7 786.6,279.6 782.0,280.0 778.5,279.5 775.0,279.0 772.5,281.0 767.5,281.4 762.8,281.7 759.4,280.3 754.0,280.2 750.2,280.7 747.1,281.5 744.1,281.5 740.2,281.9 736.5,282.2 731.3,279.7 728.3,280.0 721.8,280.3 718.1,281.7 715.1,280.1 711.6,281.4 708.5,280.0 703.4,281.8 700.1,280.0 704.7,281.2 710.0,279.1 711.8,279.9 716.9,278.4 720.6,280.5 723.9,279.8 729.9,280.4 733.8,279.0 736.4,278.8 740.0,279.3 744.3,280.0 748.9,278.9 751.7,280.0 755.5,279.7 760.8,279.8 766.2,278.9 769.4,277.1 773.7,279.1 775.6,277.5 780.1,278.2 786.2,280.0 788.7,277.9 791.7,277.6 797.2,278.6 801.1,280.5 805.1,278.3 809.4,279.4 813.5,280.5 817.5,279.6 820.2,280.4 823.8,281.4 827.3,282.9 833.4,281.9 835.8,283.5 839.5,285.0 843.8,286.3 849.2,286.5 851.5,286.6 856.0,286.3 859.4,288.4 863.1,288.5 867.9,286.9 872.5,287.6 875.1,287.6 880.7,288.0 883.3,288.1 889.0,289.4 892.5,291.4 894.9,291.8 900.5,293.4 903.8,294.5 906.4,297.8 908.2,300.1 912.7,298.4 916.5,299.1 919.9,301.5 925.3,302.8 927.6,302.1 932.2,304.5 937.6,306.7 941.4,307.6 943.8,309.2 948.0,308.7 950.4,309.4 956.4,311.7 958.5,312.1 964.2,314.7 965.6,313.6 971.7,314.4 974.8,316.9 979.4,317.8 980.8,318.2 985.2,320.5 989.7,320.7 994.2,323.9 996.3,322.5 1000.3,325.3 1004.8,324.4 1007.9,326.2 1012.5,328.0 1017.4,327.7 1020.1,326.7 1024.5,329.3 1029.8,329.9 1032.6,330.7 1037.1,328.9 1039.6,328.1 1046.3,328.2 1047.7,330.5 1054.1,328.5 1057.0,329.3"/>
<path id="fcr" d="M1062.0,334.0 1065.7,334.0 1069.6,334.6 1072.8,337.5 1075.6,340.5 1079.1,342.6 1081.7,346.4 1083.5,348.4 1087.6,352.0 1089.0,354.3 1091.7,358.2 1095.4,361.0 1097.5,364.0 1100.3,366.5 1102.8,370.1 1105.9,372.6 1108.9,374.9 1111.9,378.0 1114.2,381.1 1117.5,383.5 1119.6,386.6 1122.8,389.5 1126.6,392.1 1129.3,394.8 1132.2,398.2 1134.0,401.0 1135.8,404.3 1139.4,408.5 1140.8,410.5 1143.3,413.3 1146.7,417.1 1149.2,420.0"/>
</defs>
<ellipse cx="-36.0" cy="311.0" rx="943.2" ry="157.8" fill="url(#cy)"/>
<path d="M767.5,186.3 799.9,186.3 829.6,186.3 856.6,186.3 881.2,186.3 903.7,186.3 924.1,186.3 942.7,186.3 959.6,186.3 975.2,186.3 989.4,186.3 1002.6,186.3 1015.0,186.3 1026.7,186.3 1037.9,186.3 1048.8,186.3 1059.6,186.3 1070.5,186.3 1081.7,186.3 1093.4,186.3 1105.8,186.3 1119.0,186.3 1133.2,186.3 1148.8,186.3 1165.7,186.3 1184.3,186.3 1204.7,186.3 1227.2,186.3 1251.8,186.3 1278.8,186.3 1308.5,186.3 1340.9,186.3M765.2,188.6 797.6,188.6 827.3,188.7 854.4,188.9 879.2,189.1 901.7,189.3 922.3,189.6 941.0,189.9 958.1,190.2 973.8,190.5 988.3,190.8 1001.7,191.1 1014.2,191.3 1026.1,191.5 1037.6,191.6 1048.7,191.7 1059.7,191.7 1070.8,191.6 1082.3,191.5 1094.2,191.3 1106.7,191.1 1120.1,190.8 1134.6,190.5 1150.3,190.2 1167.4,189.9 1186.1,189.6 1206.7,189.3 1229.2,189.1 1254.0,188.9 1281.1,188.7 1310.8,188.6 1343.2,188.6M762.3,191.4 794.8,191.5 824.6,191.8 851.8,192.2 876.6,192.8 899.3,193.6 920.0,194.4 939.0,195.3 956.3,196.2 972.2,197.2 986.9,198.0 1000.5,198.8 1013.3,199.5 1025.5,200.0 1037.2,200.4 1048.6,200.6 1059.8,200.6 1071.2,200.4 1082.9,200.0 1095.1,199.5 1107.9,198.8 1121.5,198.0 1136.2,197.2 1152.1,196.2 1169.4,195.3 1188.4,194.4 1209.1,193.6 1231.8,192.8 1256.6,192.2 1283.8,191.8 1313.6,191.5 1346.1,191.4M758.7,195.0 791.2,195.2 821.1,195.7 848.4,196.6 873.4,197.7 896.3,199.1 917.2,200.7 936.3,202.4 953.9,204.1 970.1,205.9 985.1,207.5 999.0,209.0 1012.2,210.3 1024.6,211.3 1036.7,212.0 1048.4,212.4 1060.0,212.4 1071.7,212.0 1083.8,211.3 1096.2,210.3 1109.4,209.0 1123.3,207.5 1138.3,205.9 1154.5,204.1 1172.1,202.4 1191.2,200.7 1212.1,199.1 1235.0,197.7 1260.0,196.6 1287.3,195.7 1317.2,195.2 1349.7,195.0M754.0,199.6 786.6,199.9 816.5,200.7 844.0,202.1 869.2,203.9 892.3,206.1 913.5,208.6 933.0,211.4 950.9,214.2 967.4,216.9 982.8,219.5 997.1,221.9 1010.7,224.0 1023.6,225.6 1036.0,226.7 1048.2,227.2 1060.2,227.2 1072.4,226.7 1084.8,225.6 1097.7,224.0 1111.3,221.9 1125.6,219.5 1141.0,216.9 1157.5,214.2 1175.4,211.4 1194.9,208.6 1216.1,206.1 1239.2,203.9 1264.4,202.1 1291.9,200.7 1321.8,199.9 1354.4,199.6M748.7,204.8 781.4,205.2 811.5,206.4 839.1,208.3 864.5,210.9 887.9,214.1 909.4,217.6 929.2,221.5 947.5,225.4 964.4,229.4 980.2,233.1 995.0,236.5 1009.0,239.4 1022.4,241.6 1035.3,243.2 1047.9,244.0 1060.5,244.0 1073.1,243.2 1086.0,241.6 1099.4,239.4 1113.4,236.5 1128.2,233.1 1144.0,229.4 1160.9,225.4 1179.2,221.5 1199.0,217.6 1220.5,214.1 1243.9,210.9 1269.3,208.3 1296.9,206.4 1327.0,205.2 1359.7,204.8M742.7,210.7 775.5,211.2 805.7,212.8 833.5,215.3 859.2,218.7 882.9,222.9 904.7,227.5 924.9,232.6 943.6,237.8 961.0,243.0 977.3,247.9 992.6,252.3 1007.1,256.1 1021.0,259.1 1034.4,261.1 1047.6,262.2 1060.8,262.2 1074.0,261.1 1087.4,259.1 1101.3,256.1 1115.8,252.3 1131.1,247.9 1147.4,243.0 1164.8,237.8 1183.5,232.6 1203.7,227.5 1225.5,222.9 1249.2,218.7 1274.9,215.3 1302.7,212.8 1332.9,211.2 1365.7,210.7M735.7,217.6 768.5,218.2 798.9,220.1 827.0,223.2 853.0,227.4 877.0,232.4 899.3,238.1 919.9,244.2 939.1,250.5 957.0,256.8 973.8,262.8 989.7,268.1 1004.8,272.7 1019.4,276.4 1033.5,278.9 1047.3,280.1 1061.1,280.1 1074.9,278.9 1089.0,276.4 1103.6,272.7 1118.7,268.1 1134.6,262.8 1151.4,256.8 1169.3,250.5 1188.5,244.2 1209.1,238.1 1231.4,232.4 1255.4,227.4 1281.4,223.2 1309.5,220.1 1339.9,218.2 1372.7,217.6M728.0,225.2 760.9,225.9 791.5,228.1 819.8,231.7 846.1,236.5 870.5,242.3 893.2,248.8 914.4,255.9 934.1,263.2 952.6,270.5 970.0,277.3 986.6,283.6 1002.4,288.9 1017.6,293.1 1032.4,295.9 1047.0,297.4 1061.4,297.4 1076.0,295.9 1090.8,293.1 1106.0,288.9 1121.8,283.6 1138.4,277.3 1155.8,270.5 1174.3,263.2 1194.0,255.9 1215.2,248.8 1237.9,242.3 1262.3,236.5 1288.6,231.7 1316.9,228.1 1347.5,225.9 1380.4,225.2M719.9,233.1 753.0,233.9 783.7,236.3 812.4,240.2 839.0,245.5 863.8,251.8 887.0,259.0 908.6,266.8 928.9,274.9 948.0,282.8 966.1,290.4 983.3,297.2 999.8,303.0 1015.7,307.6 1031.3,310.8 1046.6,312.4 1061.8,312.4 1077.1,310.8 1092.7,307.6 1108.6,303.0 1125.1,297.2 1142.3,290.4 1160.4,282.8 1179.5,274.9 1199.8,266.8 1221.4,259.0 1244.6,251.8 1269.4,245.5 1296.0,240.2 1324.7,236.3 1355.4,233.9 1388.5,233.1M711.3,241.6 744.5,242.5 775.4,245.0 804.3,249.1 831.3,254.7 856.6,261.4 880.2,269.0 902.4,277.2 923.3,285.7 943.1,294.1 961.8,302.1 979.8,309.3 997.0,315.5 1013.7,320.3 1030.1,323.7 1046.2,325.4 1062.2,325.4 1078.3,323.7 1094.7,320.3 1111.4,315.5 1128.6,309.3 1146.6,302.1 1165.3,294.1 1185.1,285.7 1206.0,277.2 1228.2,269.0 1251.8,261.4 1277.1,254.7 1304.1,249.1 1333.0,245.0 1363.9,242.5 1397.1,241.6M701.6,251.1 734.9,252.0 766.1,254.6 795.3,258.8 822.7,264.4 848.5,271.2 872.7,279.0 895.5,287.4 917.1,296.0 937.6,304.6 957.1,312.7 975.9,320.0 993.9,326.3 1011.5,331.2 1028.7,334.6 1045.7,336.4 1062.7,336.4 1079.7,334.6 1096.9,331.2 1114.5,326.3 1132.5,320.0 1151.3,312.7 1170.8,304.6 1191.3,296.0 1212.9,287.4 1235.7,279.0 1259.9,271.2 1285.7,264.4 1313.1,258.8 1342.3,254.6 1373.5,252.0 1406.8,251.1M691.4,261.2 724.8,262.1 756.2,264.6 785.8,268.8 813.6,274.4 839.9,281.2 864.7,288.9 888.1,297.2 910.4,305.8 931.7,314.3 952.1,322.3 971.7,329.6 990.7,335.9 1009.2,340.8 1027.3,344.2 1045.3,345.9 1063.1,345.9 1081.1,344.2 1099.2,340.8 1117.7,335.9 1136.7,329.6 1156.3,322.3 1176.7,314.3 1198.0,305.8 1220.3,297.2 1243.7,288.9 1268.5,281.2 1294.8,274.4 1322.6,268.8 1352.2,264.6 1383.6,262.1 1417.0,261.2M680.8,271.6 714.4,272.5 746.0,275.0 776.0,279.1 804.2,284.5 831.0,291.2 856.4,298.8 880.6,306.9 903.6,315.3 925.7,323.6 946.9,331.5 967.4,338.7 987.3,344.8 1006.7,349.6 1025.8,352.9 1044.8,354.6 1063.6,354.6 1082.6,352.9 1101.7,349.6 1121.1,344.8 1141.0,338.7 1161.5,331.5 1182.7,323.6 1204.8,315.3 1227.8,306.9 1252.0,298.8 1277.4,291.2 1304.2,284.5 1332.4,279.1 1362.4,275.0 1394.0,272.5 1427.6,271.6M669.5,282.7 703.2,283.5 735.2,285.9 765.5,289.8 794.2,295.1 821.6,301.5 847.6,308.7 872.5,316.5 896.3,324.6 919.2,332.5 941.3,340.1 962.8,346.9 983.7,352.8 1004.1,357.4 1024.3,360.6 1044.2,362.2 1064.2,362.2 1084.1,360.6 1104.3,357.4 1124.7,352.8 1145.6,346.9 1167.1,340.1 1189.2,332.5 1212.1,324.6 1235.9,316.5 1260.8,308.7 1286.8,301.5 1314.2,295.1 1342.9,289.8 1373.2,285.9 1405.2,283.5 1438.9,282.7M658.3,293.7 692.2,294.5 724.4,296.8 755.1,300.5 784.3,305.5 812.2,311.6 838.9,318.5 864.5,326.0 889.1,333.7 912.9,341.3 935.9,348.5 958.2,355.0 980.1,360.6 1001.6,365.0 1022.7,368.1 1043.7,369.6 1064.7,369.6 1085.7,368.1 1106.8,365.0 1128.3,360.6 1150.2,355.0 1172.5,348.5 1195.5,341.3 1219.3,333.7 1243.9,326.0 1269.5,318.5 1296.2,311.6 1324.1,305.5 1353.3,300.5 1384.0,296.8 1416.2,294.5 1450.1,293.7M646.4,305.4 680.5,306.1 713.0,308.3 744.0,311.8 773.7,316.5 802.2,322.2 829.6,328.6 856.0,335.6 881.4,342.8 906.1,349.9 930.0,356.7 953.4,362.8 976.3,368.0 998.8,372.1 1021.1,375.0 1043.2,376.4 1065.2,376.4 1087.3,375.0 1109.6,372.1 1132.1,368.0 1155.0,362.8 1178.4,356.7 1202.3,349.9 1227.0,342.8 1252.4,335.6 1278.8,328.6 1306.2,322.2 1334.7,316.5 1364.4,311.8 1395.4,308.3 1427.9,306.1 1462.0,305.4M635.2,316.4 669.4,317.1 702.2,319.1 733.6,322.4 763.8,326.8 792.8,332.1 820.9,338.2 847.9,344.7 874.2,351.5 899.7,358.2 924.5,364.5 948.9,370.2 972.7,375.1 996.3,379.0 1019.5,381.7 1042.7,383.0 1065.7,383.0 1088.9,381.7 1112.1,379.0 1135.7,375.1 1159.5,370.2 1183.9,364.5 1208.7,358.2 1234.2,351.5 1260.5,344.7 1287.5,338.2 1315.6,332.1 1344.6,326.8 1374.8,322.4 1406.2,319.1 1439.0,317.1 1473.2,316.4M622.9,328.5 657.3,329.1 690.3,331.0 722.2,334.0 752.9,338.0 782.5,342.9 811.3,348.4 839.1,354.4 866.2,360.5 892.7,366.6 918.5,372.4 943.9,377.7 968.8,382.1 993.4,385.7 1017.8,388.1 1042.1,389.3 1066.3,389.3 1090.6,388.1 1115.0,385.7 1139.6,382.1 1164.5,377.7 1189.9,372.4 1215.7,366.6 1242.2,360.5 1269.3,354.4 1297.1,348.4 1325.9,342.9 1355.5,338.0 1386.2,334.0 1418.1,331.0 1451.1,329.1 1485.5,328.5M611.1,340.1 645.7,340.7 679.0,342.3 711.2,345.0 742.4,348.7 772.7,353.1 802.1,358.0 830.7,363.4 858.6,369.0 885.9,374.5 912.7,379.7 939.1,384.4 965.0,388.5 990.7,391.6 1016.2,393.8 1041.5,395.0 1066.9,395.0 1092.2,393.8 1117.7,391.6 1143.4,388.5 1169.3,384.4 1195.7,379.7 1222.5,374.5 1249.8,369.0 1277.7,363.4 1306.3,358.0 1335.7,353.1 1366.0,348.7 1397.2,345.0 1429.4,342.3 1462.7,340.7 1497.3,340.1M599.5,351.5 634.2,352.0 667.8,353.5 700.4,355.9 732.1,359.1 762.9,363.1 793.0,367.5 822.4,372.3 851.1,377.3 879.3,382.2 907.0,386.9 934.3,391.1 961.3,394.7 988.0,397.5 1014.6,399.5 1041.0,400.5 1067.4,400.5 1093.8,399.5 1120.4,397.5 1147.1,394.7 1174.1,391.1 1201.4,386.9 1229.1,382.2 1257.3,377.3 1286.0,372.3 1315.4,367.5 1345.5,363.1 1376.3,359.1 1408.0,355.9 1440.6,353.5 1474.2,352.0 1508.9,351.5M587.7,363.2 622.5,363.6 656.4,364.9 689.4,367.0 721.5,369.9 753.0,373.3 783.7,377.2 813.9,381.4 843.4,385.7 872.5,390.0 901.2,394.1 929.5,397.8 957.5,400.9 985.3,403.4 1012.9,405.1 1040.5,406.0 1067.9,406.0 1095.5,405.1 1123.1,403.4 1150.9,400.9 1178.9,397.8 1207.2,394.1 1235.9,390.0 1265.0,385.7 1294.5,381.4 1324.7,377.2 1355.4,373.3 1386.9,369.9 1419.0,367.0 1452.0,364.9 1485.9,363.6 1520.7,363.2M576.4,374.3 611.3,374.7 645.5,375.8 678.9,377.7 711.5,380.1 743.5,383.1 774.9,386.5 805.8,390.2 836.2,393.9 866.1,397.7 895.7,401.2 924.9,404.4 953.9,407.2 982.7,409.4 1011.4,410.8 1039.9,411.6 1068.5,411.6 1097.0,410.8 1125.7,409.4 1154.5,407.2 1183.5,404.4 1212.7,401.2 1242.3,397.7 1272.2,393.9 1302.6,390.2 1333.5,386.5 1364.9,383.1 1396.9,380.1 1429.5,377.7 1462.9,375.8 1497.1,374.7 1532.0,374.3M565.2,385.3 600.3,385.6 634.7,386.6 668.5,388.2 701.6,390.3 734.2,392.8 766.2,395.7 797.8,398.8 828.9,402.1 859.7,405.2 890.2,408.3 920.4,411.0 950.3,413.4 980.1,415.2 1009.8,416.5 1039.4,417.1 1069.0,417.1 1098.6,416.5 1128.3,415.2 1158.1,413.4 1188.0,411.0 1218.2,408.3 1248.7,405.2 1279.5,402.1 1310.6,398.8 1342.2,395.7 1374.2,392.8 1406.8,390.3 1439.9,388.2 1473.7,386.6 1508.1,385.6 1543.2,385.3M554.6,395.7 589.9,396.0 624.5,396.8 658.6,398.2 692.2,400.0 725.3,402.2 757.9,404.8 790.2,407.5 822.1,410.3 853.7,413.1 885.0,415.7 916.1,418.1 947.0,420.1 977.7,421.8 1008.3,422.9 1038.9,423.4 1069.5,423.4 1100.1,422.9 1130.7,421.8 1161.4,420.1 1192.3,418.1 1223.4,415.7 1254.7,413.1 1286.3,410.3 1318.2,407.5 1350.5,404.8 1383.1,402.2 1416.2,400.0 1449.8,398.2 1483.9,396.8 1518.5,396.0 1553.8,395.7M543.6,406.5 579.0,406.7 614.0,407.4 648.4,408.5 682.5,410.0 716.1,411.8 749.4,413.9 782.3,416.1 815.0,418.4 847.4,420.6 879.6,422.8 911.6,424.7 943.5,426.4 975.2,427.7 1006.8,428.6 1038.4,429.0 1070.0,429.0 1101.6,428.6 1133.2,427.7 1164.9,426.4 1196.8,424.7 1228.8,422.8 1261.0,420.6 1293.4,418.4 1326.1,416.1 1359.0,413.9 1392.3,411.8 1425.9,410.0 1460.0,408.5 1494.4,407.4 1529.4,406.7 1564.8,406.5M533.0,416.9 568.6,417.1 603.8,417.6 638.6,418.4 673.1,419.5 707.2,420.9 741.1,422.4 774.8,424.1 808.2,425.8 841.4,427.5 874.4,429.1 907.3,430.5 940.1,431.8 972.7,432.7 1005.4,433.4 1037.9,433.8 1070.5,433.8 1103.0,433.4 1135.7,432.7 1168.3,431.8 1201.1,430.5 1234.0,429.1 1267.0,427.5 1300.2,425.8 1333.6,424.1 1367.3,422.4 1401.2,420.9 1435.3,419.5 1469.8,418.4 1504.6,417.6 1539.8,417.1 1575.4,416.9M522.8,427.0 558.5,427.1 593.9,427.5 629.0,428.1 663.9,428.9 698.6,429.8 733.1,430.9 767.4,432.0 801.5,433.3 835.5,434.4 869.4,435.6 903.1,436.6 936.8,437.5 970.4,438.2 1003.9,438.6 1037.4,438.9 1071.0,438.9 1104.5,438.6 1138.0,438.2 1171.6,437.5 1205.3,436.6 1239.0,435.6 1272.9,434.4 1306.9,433.3 1341.0,432.0 1375.3,430.9 1409.8,429.8 1444.5,428.9 1479.4,428.1 1514.5,427.5 1549.9,427.1 1585.6,427.0M513.1,436.5 548.9,436.6 584.6,436.8 620.1,437.2 655.4,437.7 690.5,438.3 725.6,439.0 760.5,439.7 795.3,440.5 830.0,441.3 864.6,442.0 899.2,442.6 933.7,443.2 968.2,443.6 1002.6,443.9 1037.0,444.1 1071.4,444.1 1105.8,443.9 1140.2,443.6 1174.7,443.2 1209.2,442.6 1243.8,442.0 1278.4,441.3 1313.1,440.5 1347.9,439.7 1382.8,439.0 1417.9,438.3 1453.0,437.7 1488.3,437.2 1523.8,436.8 1559.5,436.6 1595.3,436.5M504.2,445.3 540.1,445.3 576.0,445.5 611.7,445.7 647.4,445.9 683.0,446.2 718.6,446.6 754.1,447.0 789.5,447.4 824.9,447.8 860.3,448.2 895.6,448.5 930.8,448.8 966.1,449.0 1001.4,449.2 1036.6,449.3 1071.8,449.3 1107.0,449.2 1142.3,449.0 1177.6,448.8 1212.8,448.5 1248.1,448.2 1283.5,447.8 1318.9,447.4 1354.3,447.0 1389.8,446.6 1425.4,446.2 1461.0,445.9 1496.7,445.7 1532.4,445.5 1568.3,445.3 1604.2,445.3M495.1,454.2 531.2,454.2 567.3,454.2 603.3,454.2 639.4,454.2 675.5,454.2 711.5,454.2 747.6,454.2 783.7,454.2 819.7,454.2 855.8,454.2 891.9,454.2 928.0,454.2 964.0,454.2 1000.1,454.2 1036.2,454.2 1072.2,454.2 1108.3,454.2 1144.4,454.2 1180.4,454.2 1216.5,454.2 1252.6,454.2 1288.7,454.2 1324.7,454.2 1360.8,454.2 1396.9,454.2 1432.9,454.2 1469.0,454.2 1505.1,454.2 1541.1,454.2 1577.2,454.2 1613.3,454.2M767.5,186.3 765.2,188.6 762.3,191.4 758.7,195.0 754.0,199.6 748.7,204.8 742.7,210.7 735.7,217.6 728.0,225.2 719.9,233.1 711.3,241.6 701.6,251.1 691.4,261.2 680.8,271.6 669.5,282.7 658.3,293.7 646.4,305.4 635.2,316.4 622.9,328.5 611.1,340.1 599.5,351.5 587.7,363.2 576.4,374.3 565.2,385.3 554.6,395.7 543.6,406.5 533.0,416.9 522.8,427.0 513.1,436.5 504.2,445.3 495.1,454.2M799.9,186.3 797.6,188.6 794.8,191.5 791.2,195.2 786.6,199.9 781.4,205.2 775.5,211.2 768.5,218.2 760.9,225.9 753.0,233.9 744.5,242.5 734.9,252.0 724.8,262.1 714.4,272.5 703.2,283.5 692.2,294.5 680.5,306.1 669.4,317.1 657.3,329.1 645.7,340.7 634.2,352.0 622.5,363.6 611.3,374.7 600.3,385.6 589.9,396.0 579.0,406.7 568.6,417.1 558.5,427.1 548.9,436.6 540.1,445.3 531.2,454.2M829.6,186.3 827.3,188.7 824.6,191.8 821.1,195.7 816.5,200.7 811.5,206.4 805.7,212.8 798.9,220.1 791.5,228.1 783.7,236.3 775.4,245.0 766.1,254.6 756.2,264.6 746.0,275.0 735.2,285.9 724.4,296.8 713.0,308.3 702.2,319.1 690.3,331.0 679.0,342.3 667.8,353.5 656.4,364.9 645.5,375.8 634.7,386.6 624.5,396.8 614.0,407.4 603.8,417.6 593.9,427.5 584.6,436.8 576.0,445.5 567.3,454.2M856.6,186.3 854.4,188.9 851.8,192.2 848.4,196.6 844.0,202.1 839.1,208.3 833.5,215.3 827.0,223.2 819.8,231.7 812.4,240.2 804.3,249.1 795.3,258.8 785.8,268.8 776.0,279.1 765.5,289.8 755.1,300.5 744.0,311.8 733.6,322.4 722.2,334.0 711.2,345.0 700.4,355.9 689.4,367.0 678.9,377.7 668.5,388.2 658.6,398.2 648.4,408.5 638.6,418.4 629.0,428.1 620.1,437.2 611.7,445.7 603.3,454.2M881.2,186.3 879.2,189.1 876.6,192.8 873.4,197.7 869.2,203.9 864.5,210.9 859.2,218.7 853.0,227.4 846.1,236.5 839.0,245.5 831.3,254.7 822.7,264.4 813.6,274.4 804.2,284.5 794.2,295.1 784.3,305.5 773.7,316.5 763.8,326.8 752.9,338.0 742.4,348.7 732.1,359.1 721.5,369.9 711.5,380.1 701.6,390.3 692.2,400.0 682.5,410.0 673.1,419.5 663.9,428.9 655.4,437.7 647.4,445.9 639.4,454.2M903.7,186.3 901.7,189.3 899.3,193.6 896.3,199.1 892.3,206.1 887.9,214.1 882.9,222.9 877.0,232.4 870.5,242.3 863.8,251.8 856.6,261.4 848.5,271.2 839.9,281.2 831.0,291.2 821.6,301.5 812.2,311.6 802.2,322.2 792.8,332.1 782.5,342.9 772.7,353.1 762.9,363.1 753.0,373.3 743.5,383.1 734.2,392.8 725.3,402.2 716.1,411.8 707.2,420.9 698.6,429.8 690.5,438.3 683.0,446.2 675.5,454.2M924.1,186.3 922.3,189.6 920.0,194.4 917.2,200.7 913.5,208.6 909.4,217.6 904.7,227.5 899.3,238.1 893.2,248.8 887.0,259.0 880.2,269.0 872.7,279.0 864.7,288.9 856.4,298.8 847.6,308.7 838.9,318.5 829.6,328.6 820.9,338.2 811.3,348.4 802.1,358.0 793.0,367.5 783.7,377.2 774.9,386.5 766.2,395.7 757.9,404.8 749.4,413.9 741.1,422.4 733.1,430.9 725.6,439.0 718.6,446.6 711.5,454.2M942.7,186.3 941.0,189.9 939.0,195.3 936.3,202.4 933.0,211.4 929.2,221.5 924.9,232.6 919.9,244.2 914.4,255.9 908.6,266.8 902.4,277.2 895.5,287.4 888.1,297.2 880.6,306.9 872.5,316.5 864.5,326.0 856.0,335.6 847.9,344.7 839.1,354.4 830.7,363.4 822.4,372.3 813.9,381.4 805.8,390.2 797.8,398.8 790.2,407.5 782.3,416.1 774.8,424.1 767.4,432.0 760.5,439.7 754.1,447.0 747.6,454.2M959.6,186.3 958.1,190.2 956.3,196.2 953.9,204.1 950.9,214.2 947.5,225.4 943.6,237.8 939.1,250.5 934.1,263.2 928.9,274.9 923.3,285.7 917.1,296.0 910.4,305.8 903.6,315.3 896.3,324.6 889.1,333.7 881.4,342.8 874.2,351.5 866.2,360.5 858.6,369.0 851.1,377.3 843.4,385.7 836.2,393.9 828.9,402.1 822.1,410.3 815.0,418.4 808.2,425.8 801.5,433.3 795.3,440.5 789.5,447.4 783.7,454.2M975.2,186.3 973.8,190.5 972.2,197.2 970.1,205.9 967.4,216.9 964.4,229.4 961.0,243.0 957.0,256.8 952.6,270.5 948.0,282.8 943.1,294.1 937.6,304.6 931.7,314.3 925.7,323.6 919.2,332.5 912.9,341.3 906.1,349.9 899.7,358.2 892.7,366.6 885.9,374.5 879.3,382.2 872.5,390.0 866.1,397.7 859.7,405.2 853.7,413.1 847.4,420.6 841.4,427.5 835.5,434.4 830.0,441.3 824.9,447.8 819.7,454.2M989.4,186.3 988.3,190.8 986.9,198.0 985.1,207.5 982.8,219.5 980.2,233.1 977.3,247.9 973.8,262.8 970.0,277.3 966.1,290.4 961.8,302.1 957.1,312.7 952.1,322.3 946.9,331.5 941.3,340.1 935.9,348.5 930.0,356.7 924.5,364.5 918.5,372.4 912.7,379.7 907.0,386.9 901.2,394.1 895.7,401.2 890.2,408.3 885.0,415.7 879.6,422.8 874.4,429.1 869.4,435.6 864.6,442.0 860.3,448.2 855.8,454.2M1002.6,186.3 1001.7,191.1 1000.5,198.8 999.0,209.0 997.1,221.9 995.0,236.5 992.6,252.3 989.7,268.1 986.6,283.6 983.3,297.2 979.8,309.3 975.9,320.0 971.7,329.6 967.4,338.7 962.8,346.9 958.2,355.0 953.4,362.8 948.9,370.2 943.9,377.7 939.1,384.4 934.3,391.1 929.5,397.8 924.9,404.4 920.4,411.0 916.1,418.1 911.6,424.7 907.3,430.5 903.1,436.6 899.2,442.6 895.6,448.5 891.9,454.2M1015.0,186.3 1014.2,191.3 1013.3,199.5 1012.2,210.3 1010.7,224.0 1009.0,239.4 1007.1,256.1 1004.8,272.7 1002.4,288.9 999.8,303.0 997.0,315.5 993.9,326.3 990.7,335.9 987.3,344.8 983.7,352.8 980.1,360.6 976.3,368.0 972.7,375.1 968.8,382.1 965.0,388.5 961.3,394.7 957.5,400.9 953.9,407.2 950.3,413.4 947.0,420.1 943.5,426.4 940.1,431.8 936.8,437.5 933.7,443.2 930.8,448.8 928.0,454.2M1026.7,186.3 1026.1,191.5 1025.5,200.0 1024.6,211.3 1023.6,225.6 1022.4,241.6 1021.0,259.1 1019.4,276.4 1017.6,293.1 1015.7,307.6 1013.7,320.3 1011.5,331.2 1009.2,340.8 1006.7,349.6 1004.1,357.4 1001.6,365.0 998.8,372.1 996.3,379.0 993.4,385.7 990.7,391.6 988.0,397.5 985.3,403.4 982.7,409.4 980.1,415.2 977.7,421.8 975.2,427.7 972.7,432.7 970.4,438.2 968.2,443.6 966.1,449.0 964.0,454.2M1037.9,186.3 1037.6,191.6 1037.2,200.4 1036.7,212.0 1036.0,226.7 1035.3,243.2 1034.4,261.1 1033.5,278.9 1032.4,295.9 1031.3,310.8 1030.1,323.7 1028.7,334.6 1027.3,344.2 1025.8,352.9 1024.3,360.6 1022.7,368.1 1021.1,375.0 1019.5,381.7 1017.8,388.1 1016.2,393.8 1014.6,399.5 1012.9,405.1 1011.4,410.8 1009.8,416.5 1008.3,422.9 1006.8,428.6 1005.4,433.4 1003.9,438.6 1002.6,443.9 1001.4,449.2 1000.1,454.2M1048.8,186.3 1048.7,191.7 1048.6,200.6 1048.4,212.4 1048.2,227.2 1047.9,244.0 1047.6,262.2 1047.3,280.1 1047.0,297.4 1046.6,312.4 1046.2,325.4 1045.7,336.4 1045.3,345.9 1044.8,354.6 1044.2,362.2 1043.7,369.6 1043.2,376.4 1042.7,383.0 1042.1,389.3 1041.5,395.0 1041.0,400.5 1040.5,406.0 1039.9,411.6 1039.4,417.1 1038.9,423.4 1038.4,429.0 1037.9,433.8 1037.4,438.9 1037.0,444.1 1036.6,449.3 1036.2,454.2M1059.6,186.3 1059.7,191.7 1059.8,200.6 1060.0,212.4 1060.2,227.2 1060.5,244.0 1060.8,262.2 1061.1,280.1 1061.4,297.4 1061.8,312.4 1062.2,325.4 1062.7,336.4 1063.1,345.9 1063.6,354.6 1064.2,362.2 1064.7,369.6 1065.2,376.4 1065.7,383.0 1066.3,389.3 1066.9,395.0 1067.4,400.5 1067.9,406.0 1068.5,411.6 1069.0,417.1 1069.5,423.4 1070.0,429.0 1070.5,433.8 1071.0,438.9 1071.4,444.1 1071.8,449.3 1072.2,454.2M1070.5,186.3 1070.8,191.6 1071.2,200.4 1071.7,212.0 1072.4,226.7 1073.1,243.2 1074.0,261.1 1074.9,278.9 1076.0,295.9 1077.1,310.8 1078.3,323.7 1079.7,334.6 1081.1,344.2 1082.6,352.9 1084.1,360.6 1085.7,368.1 1087.3,375.0 1088.9,381.7 1090.6,388.1 1092.2,393.8 1093.8,399.5 1095.5,405.1 1097.0,410.8 1098.6,416.5 1100.1,422.9 1101.6,428.6 1103.0,433.4 1104.5,438.6 1105.8,443.9 1107.0,449.2 1108.3,454.2M1081.7,186.3 1082.3,191.5 1082.9,200.0 1083.8,211.3 1084.8,225.6 1086.0,241.6 1087.4,259.1 1089.0,276.4 1090.8,293.1 1092.7,307.6 1094.7,320.3 1096.9,331.2 1099.2,340.8 1101.7,349.6 1104.3,357.4 1106.8,365.0 1109.6,372.1 1112.1,379.0 1115.0,385.7 1117.7,391.6 1120.4,397.5 1123.1,403.4 1125.7,409.4 1128.3,415.2 1130.7,421.8 1133.2,427.7 1135.7,432.7 1138.0,438.2 1140.2,443.6 1142.3,449.0 1144.4,454.2M1093.4,186.3 1094.2,191.3 1095.1,199.5 1096.2,210.3 1097.7,224.0 1099.4,239.4 1101.3,256.1 1103.6,272.7 1106.0,288.9 1108.6,303.0 1111.4,315.5 1114.5,326.3 1117.7,335.9 1121.1,344.8 1124.7,352.8 1128.3,360.6 1132.1,368.0 1135.7,375.1 1139.6,382.1 1143.4,388.5 1147.1,394.7 1150.9,400.9 1154.5,407.2 1158.1,413.4 1161.4,420.1 1164.9,426.4 1168.3,431.8 1171.6,437.5 1174.7,443.2 1177.6,448.8 1180.4,454.2M1105.8,186.3 1106.7,191.1 1107.9,198.8 1109.4,209.0 1111.3,221.9 1113.4,236.5 1115.8,252.3 1118.7,268.1 1121.8,283.6 1125.1,297.2 1128.6,309.3 1132.5,320.0 1136.7,329.6 1141.0,338.7 1145.6,346.9 1150.2,355.0 1155.0,362.8 1159.5,370.2 1164.5,377.7 1169.3,384.4 1174.1,391.1 1178.9,397.8 1183.5,404.4 1188.0,411.0 1192.3,418.1 1196.8,424.7 1201.1,430.5 1205.3,436.6 1209.2,442.6 1212.8,448.5 1216.5,454.2M1119.0,186.3 1120.1,190.8 1121.5,198.0 1123.3,207.5 1125.6,219.5 1128.2,233.1 1131.1,247.9 1134.6,262.8 1138.4,277.3 1142.3,290.4 1146.6,302.1 1151.3,312.7 1156.3,322.3 1161.5,331.5 1167.1,340.1 1172.5,348.5 1178.4,356.7 1183.9,364.5 1189.9,372.4 1195.7,379.7 1201.4,386.9 1207.2,394.1 1212.7,401.2 1218.2,408.3 1223.4,415.7 1228.8,422.8 1234.0,429.1 1239.0,435.6 1243.8,442.0 1248.1,448.2 1252.6,454.2M1133.2,186.3 1134.6,190.5 1136.2,197.2 1138.3,205.9 1141.0,216.9 1144.0,229.4 1147.4,243.0 1151.4,256.8 1155.8,270.5 1160.4,282.8 1165.3,294.1 1170.8,304.6 1176.7,314.3 1182.7,323.6 1189.2,332.5 1195.5,341.3 1202.3,349.9 1208.7,358.2 1215.7,366.6 1222.5,374.5 1229.1,382.2 1235.9,390.0 1242.3,397.7 1248.7,405.2 1254.7,413.1 1261.0,420.6 1267.0,427.5 1272.9,434.4 1278.4,441.3 1283.5,447.8 1288.7,454.2M1148.8,186.3 1150.3,190.2 1152.1,196.2 1154.5,204.1 1157.5,214.2 1160.9,225.4 1164.8,237.8 1169.3,250.5 1174.3,263.2 1179.5,274.9 1185.1,285.7 1191.3,296.0 1198.0,305.8 1204.8,315.3 1212.1,324.6 1219.3,333.7 1227.0,342.8 1234.2,351.5 1242.2,360.5 1249.8,369.0 1257.3,377.3 1265.0,385.7 1272.2,393.9 1279.5,402.1 1286.3,410.3 1293.4,418.4 1300.2,425.8 1306.9,433.3 1313.1,440.5 1318.9,447.4 1324.7,454.2M1165.7,186.3 1167.4,189.9 1169.4,195.3 1172.1,202.4 1175.4,211.4 1179.2,221.5 1183.5,232.6 1188.5,244.2 1194.0,255.9 1199.8,266.8 1206.0,277.2 1212.9,287.4 1220.3,297.2 1227.8,306.9 1235.9,316.5 1243.9,326.0 1252.4,335.6 1260.5,344.7 1269.3,354.4 1277.7,363.4 1286.0,372.3 1294.5,381.4 1302.6,390.2 1310.6,398.8 1318.2,407.5 1326.1,416.1 1333.6,424.1 1341.0,432.0 1347.9,439.7 1354.3,447.0 1360.8,454.2M1184.3,186.3 1186.1,189.6 1188.4,194.4 1191.2,200.7 1194.9,208.6 1199.0,217.6 1203.7,227.5 1209.1,238.1 1215.2,248.8 1221.4,259.0 1228.2,269.0 1235.7,279.0 1243.7,288.9 1252.0,298.8 1260.8,308.7 1269.5,318.5 1278.8,328.6 1287.5,338.2 1297.1,348.4 1306.3,358.0 1315.4,367.5 1324.7,377.2 1333.5,386.5 1342.2,395.7 1350.5,404.8 1359.0,413.9 1367.3,422.4 1375.3,430.9 1382.8,439.0 1389.8,446.6 1396.9,454.2M1204.7,186.3 1206.7,189.3 1209.1,193.6 1212.1,199.1 1216.1,206.1 1220.5,214.1 1225.5,222.9 1231.4,232.4 1237.9,242.3 1244.6,251.8 1251.8,261.4 1259.9,271.2 1268.5,281.2 1277.4,291.2 1286.8,301.5 1296.2,311.6 1306.2,322.2 1315.6,332.1 1325.9,342.9 1335.7,353.1 1345.5,363.1 1355.4,373.3 1364.9,383.1 1374.2,392.8 1383.1,402.2 1392.3,411.8 1401.2,420.9 1409.8,429.8 1417.9,438.3 1425.4,446.2 1432.9,454.2M1227.2,186.3 1229.2,189.1 1231.8,192.8 1235.0,197.7 1239.2,203.9 1243.9,210.9 1249.2,218.7 1255.4,227.4 1262.3,236.5 1269.4,245.5 1277.1,254.7 1285.7,264.4 1294.8,274.4 1304.2,284.5 1314.2,295.1 1324.1,305.5 1334.7,316.5 1344.6,326.8 1355.5,338.0 1366.0,348.7 1376.3,359.1 1386.9,369.9 1396.9,380.1 1406.8,390.3 1416.2,400.0 1425.9,410.0 1435.3,419.5 1444.5,428.9 1453.0,437.7 1461.0,445.9 1469.0,454.2M1251.8,186.3 1254.0,188.9 1256.6,192.2 1260.0,196.6 1264.4,202.1 1269.3,208.3 1274.9,215.3 1281.4,223.2 1288.6,231.7 1296.0,240.2 1304.1,249.1 1313.1,258.8 1322.6,268.8 1332.4,279.1 1342.9,289.8 1353.3,300.5 1364.4,311.8 1374.8,322.4 1386.2,334.0 1397.2,345.0 1408.0,355.9 1419.0,367.0 1429.5,377.7 1439.9,388.2 1449.8,398.2 1460.0,408.5 1469.8,418.4 1479.4,428.1 1488.3,437.2 1496.7,445.7 1505.1,454.2M1278.8,186.3 1281.1,188.7 1283.8,191.8 1287.3,195.7 1291.9,200.7 1296.9,206.4 1302.7,212.8 1309.5,220.1 1316.9,228.1 1324.7,236.3 1333.0,245.0 1342.3,254.6 1352.2,264.6 1362.4,275.0 1373.2,285.9 1384.0,296.8 1395.4,308.3 1406.2,319.1 1418.1,331.0 1429.4,342.3 1440.6,353.5 1452.0,364.9 1462.9,375.8 1473.7,386.6 1483.9,396.8 1494.4,407.4 1504.6,417.6 1514.5,427.5 1523.8,436.8 1532.4,445.5 1541.1,454.2M1308.5,186.3 1310.8,188.6 1313.6,191.5 1317.2,195.2 1321.8,199.9 1327.0,205.2 1332.9,211.2 1339.9,218.2 1347.5,225.9 1355.4,233.9 1363.9,242.5 1373.5,252.0 1383.6,262.1 1394.0,272.5 1405.2,283.5 1416.2,294.5 1427.9,306.1 1439.0,317.1 1451.1,329.1 1462.7,340.7 1474.2,352.0 1485.9,363.6 1497.1,374.7 1508.1,385.6 1518.5,396.0 1529.4,406.7 1539.8,417.1 1549.9,427.1 1559.5,436.6 1568.3,445.3 1577.2,454.2M1340.9,186.3 1343.2,188.6 1346.1,191.4 1349.7,195.0 1354.4,199.6 1359.7,204.8 1365.7,210.7 1372.7,217.6 1380.4,225.2 1388.5,233.1 1397.1,241.6 1406.8,251.1 1417.0,261.2 1427.6,271.6 1438.9,282.7 1450.1,293.7 1462.0,305.4 1473.2,316.4 1485.5,328.5 1497.3,340.1 1508.9,351.5 1520.7,363.2 1532.0,374.3 1543.2,385.3 1553.8,395.7 1564.8,406.5 1575.4,416.9 1585.6,427.0 1595.3,436.5 1604.2,445.3 1613.3,454.2" fill="none" stroke="#000" stroke-width="1.05" stroke-linejoin="round"/>
<path d="M261.4,161.3A943.2,157.8 0 0 1 11.9,468.6" fill="none" stroke="url(#cd)" stroke-width="5" stroke-dasharray="21.5 22.5" stroke-dashoffset="43.41"/><g fill="none" stroke="none">
<use href="#c0" style="marker:url(#k0)"/><use href="#c0" style="marker:url(#k1)"/>
<path d="M1058.5,204.0A4.5,4.5 0 0 1 1053.1,199.7" stroke="#2b0530" stroke-width="1" stroke-linecap="round"/>
<use href="#c1" style="marker:url(#k0)"/><use href="#c1" style="marker:url(#k1)"/>
<path d="M1047.5,222.0A4.5,4.5 0 0 1 1052.3,218.2" stroke="#2b0530" stroke-width="1" stroke-linecap="round"/>
<use href="#c2" style="marker:url(#k0)"/><use href="#c2" style="marker:url(#k1)"/>
<path d="M1052.8,214.3A4.5,4.5 0 0 1 1047.3,208.4" stroke="#2b0530" stroke-width="1" stroke-linecap="round"/>
<use href="#c3" style="marker:url(#k0)"/><use href="#c3" style="marker:url(#k1)"/>
<path d="M1029.3,222.1A4.5,4.5 0 0 1 1027.9,229.1" stroke="#2b0530" stroke-width="1" stroke-linecap="round"/>
<use href="#c4" style="marker:url(#k0)"/><use href="#c4" style="marker:url(#k1)"/>
<path d="M1039.8,219.8A4.5,4.5 0 0 1 1032.5,219.7" stroke="#2b0530" stroke-width="1" stroke-linecap="round"/>
<use href="#c5" style="marker:url(#k0)"/><use href="#c5" style="marker:url(#k1)"/>
<path d="M1034.5,224.6A4.5,4.5 0 0 1 1027.6,225.7" stroke="#2b0530" stroke-width="1" stroke-linecap="round"/>
<use href="#c6" style="marker:url(#k0)"/><use href="#c6" style="marker:url(#k1)"/>
<path d="M1032.9,206.1A4.5,4.5 0 0 1 1038.8,210.5M1010.3,235.3A4.5,4.5 0 0 1 1006.9,228.0" stroke="#2b0530" stroke-width="1" stroke-linecap="round"/>
<use href="#c7" style="marker:url(#k0)"/><use href="#c7" style="marker:url(#k1)"/>
<path d="M1021.1,231.2A4.5,4.5 0 0 1 1016.9,226.2" stroke="#2b0530" stroke-width="1" stroke-linecap="round"/>
<use href="#c8" style="marker:url(#k0)"/><use href="#c8" style="marker:url(#k1)"/>
<path d="M1036.7,211.3A4.5,4.5 0 0 1 1032.0,204.7M988.2,226.3A4.5,4.5 0 0 1 992.7,219.4" stroke="#2b0530" stroke-width="1" stroke-linecap="round"/>
<use href="#c9" style="marker:url(#k0)"/><use href="#c9" style="marker:url(#k1)"/>
<path d="M1005.3,235.0A4.5,4.5 0 0 1 1001.4,230.6" stroke="#2b0530" stroke-width="1" stroke-linecap="round"/>
<use href="#c10" style="marker:url(#k0)"/><use href="#c10" style="marker:url(#k1)"/>
<path d="M1026.1,205.9A4.5,4.5 0 0 1 1033.5,206.5M997.3,223.0A4.5,4.5 0 0 1 1005.0,225.6" stroke="#2b0530" stroke-width="1" stroke-linecap="round"/>
<use href="#c11" style="marker:url(#k0)"/><use href="#c11" style="marker:url(#k1)"/>
<path d="M991.6,236.4A4.5,4.5 0 0 1 987.9,230.5" stroke="#2b0530" stroke-width="1" stroke-linecap="round"/>
<use href="#c12" style="marker:url(#k0)"/><use href="#c12" style="marker:url(#k1)"/>
<path d="M1015.4,222.1A4.5,4.5 0 0 1 1009.1,217.7M972.2,225.4A4.5,4.5 0 0 1 976.5,230.2" stroke="#2b0530" stroke-width="1" stroke-linecap="round"/>
<use href="#c13" style="marker:url(#k0)"/><use href="#c13" style="marker:url(#k1)"/>
<path d="M972.4,228.3A4.5,4.5 0 0 1 975.7,223.5" stroke="#2b0530" stroke-width="1" stroke-linecap="round"/>
<use href="#c14" style="marker:url(#k0)"/><use href="#c14" style="marker:url(#k1)"/>
<path d="M1001.6,210.1A4.5,4.5 0 0 1 1009.5,211.2M946.4,221.8A4.5,4.5 0 0 1 949.4,226.9" stroke="#2b0530" stroke-width="1" stroke-linecap="round"/>
<use href="#c15" style="marker:url(#k0)"/><use href="#c15" style="marker:url(#k1)"/>
<path d="M966.3,229.0A4.5,4.5 0 0 1 971.0,235.5M921.1,228.0A4.5,4.5 0 0 1 920.6,222.2" stroke="#2b0530" stroke-width="1" stroke-linecap="round"/>
<use href="#c16" style="marker:url(#k0)"/><use href="#c16" style="marker:url(#k1)"/>
<path d="M998.8,225.4A4.5,4.5 0 0 1 993.2,222.0M945.6,233.5A4.5,4.5 0 0 1 940.7,238.9M899.4,228.6A4.5,4.5 0 0 1 905.7,223.8" stroke="#2b0530" stroke-width="1" stroke-linecap="round"/>
<use href="#c17" style="marker:url(#k0)"/><use href="#c17" style="marker:url(#k1)"/>
<path d="M956.3,230.4A4.5,4.5 0 0 1 951.0,235.2M903.4,228.8A4.5,4.5 0 0 1 900.6,223.4" stroke="#2b0530" stroke-width="1" stroke-linecap="round"/>
<use href="#c18" style="marker:url(#k0)"/><use href="#c18" style="marker:url(#k1)"/>
<path d="M970.6,227.2A4.5,4.5 0 0 1 972.3,219.7M905.2,226.7A4.5,4.5 0 0 1 910.4,223.8" stroke="#2b0530" stroke-width="1" stroke-linecap="round"/>
<use href="#c19" style="marker:url(#k0)"/><use href="#c19" style="marker:url(#k1)"/>
<path d="M936.2,234.3A4.5,4.5 0 0 1 936.1,241.6M898.7,231.5A4.5,4.5 0 0 1 896.6,237.3" stroke="#2b0530" stroke-width="1" stroke-linecap="round"/>
<use href="#c20" style="marker:url(#k0)"/><use href="#c20" style="marker:url(#k1)"/>
<path d="M984.8,216.1A4.5,4.5 0 0 1 992.5,219.0M924.8,238.3A4.5,4.5 0 0 1 922.5,232.4" stroke="#2b0530" stroke-width="1" stroke-linecap="round"/>
<use href="#c21" style="marker:url(#k0)"/><use href="#c21" style="marker:url(#k1)"/>
<path d="M928.7,242.5A4.5,4.5 0 0 1 928.3,234.6M878.9,237.9A4.5,4.5 0 0 1 883.0,231.5" stroke="#2b0530" stroke-width="1" stroke-linecap="round"/>
<use href="#c22" style="marker:url(#k0)"/><use href="#c22" style="marker:url(#k1)"/>
<path d="M962.2,226.7A4.5,4.5 0 0 1 965.8,232.6M917.6,239.9A4.5,4.5 0 0 1 913.2,245.7M843.4,226.6A4.5,4.5 0 0 1 845.0,233.9" stroke="#2b0530" stroke-width="1" stroke-linecap="round"/>
<use href="#c23" style="marker:url(#k0)"/><use href="#c23" style="marker:url(#k1)"/>
<path d="M923.6,243.1A4.5,4.5 0 0 1 923.0,237.0M854.2,234.3A4.5,4.5 0 0 1 852.1,241.1" stroke="#2b0530" stroke-width="1" stroke-linecap="round"/>
<use href="#c24" style="marker:url(#k0)"/><use href="#c24" style="marker:url(#k1)"/>
<path d="M956.8,221.7A4.5,4.5 0 0 1 959.2,228.0M928.6,237.4A4.5,4.5 0 0 1 924.1,243.1M846.5,235.8A4.5,4.5 0 0 1 850.7,229.0" stroke="#2b0530" stroke-width="1" stroke-linecap="round"/>
<use href="#c25" style="marker:url(#k0)"/><use href="#c25" style="marker:url(#k1)"/>
<path d="M926.1,238.8A4.5,4.5 0 0 1 925.2,230.5M893.5,238.7A4.5,4.5 0 0 1 888.0,244.1M834.8,236.1A4.5,4.5 0 0 1 840.4,241.9" stroke="#2b0530" stroke-width="1" stroke-linecap="round"/>
<use href="#c26" style="marker:url(#k0)"/><use href="#c26" style="marker:url(#k1)"/>
<path d="M963.7,219.2A4.5,4.5 0 0 1 959.0,226.0M934.3,234.2A4.5,4.5 0 0 1 931.4,240.8M870.3,248.4A4.5,4.5 0 0 1 870.7,242.3M818.0,239.7A4.5,4.5 0 0 1 821.1,232.0" stroke="#2b0530" stroke-width="1" stroke-linecap="round"/>
<use href="#c27" style="marker:url(#k0)"/><use href="#c27" style="marker:url(#k1)"/>
<path d="M919.6,231.0A4.5,4.5 0 0 1 920.1,238.3M883.5,237.9A4.5,4.5 0 0 1 882.3,244.5M837.3,238.5A4.5,4.5 0 0 1 842.4,235.1" stroke="#2b0530" stroke-width="1" stroke-linecap="round"/>
<use href="#c28" style="marker:url(#k0)"/><use href="#c28" style="marker:url(#k1)"/>
<path d="M942.1,238.5A4.5,4.5 0 0 1 937.4,231.7M868.1,245.0A4.5,4.5 0 0 1 865.5,252.5M789.1,242.3A4.5,4.5 0 0 1 792.9,237.0" stroke="#2b0530" stroke-width="1" stroke-linecap="round"/>
<use href="#c29" style="marker:url(#k0)"/><use href="#c29" style="marker:url(#k1)"/>
<path d="M879.1,250.0A4.5,4.5 0 0 1 883.1,244.1M833.0,251.4A4.5,4.5 0 0 1 835.1,244.4M781.0,242.4A4.5,4.5 0 0 1 781.8,249.4" stroke="#2b0530" stroke-width="1" stroke-linecap="round"/>
<use href="#c30" style="marker:url(#k0)"/><use href="#c30" style="marker:url(#k1)"/>
<path d="M947.8,223.1A4.5,4.5 0 0 1 945.6,229.4M881.9,247.7A4.5,4.5 0 0 1 875.5,242.5M831.8,248.6A4.5,4.5 0 0 1 827.2,254.9M798.4,245.6A4.5,4.5 0 0 1 794.0,249.8" stroke="#2b0530" stroke-width="1" stroke-linecap="round"/>
<use href="#c31" style="marker:url(#k0)"/><use href="#c31" style="marker:url(#k1)"/>
<path d="M885.1,243.8A4.5,4.5 0 0 1 888.2,251.0M811.1,250.1A4.5,4.5 0 0 1 810.1,256.7M758.8,257.7A4.5,4.5 0 0 1 755.1,252.6" stroke="#2b0530" stroke-width="1" stroke-linecap="round"/>
<use href="#c32" style="marker:url(#k0)"/><use href="#c32" style="marker:url(#k1)"/>
<path d="M941.1,227.6A4.5,4.5 0 0 1 948.6,231.1M900.9,245.1A4.5,4.5 0 0 1 898.1,237.2M866.5,245.1A4.5,4.5 0 0 1 867.5,251.2M811.6,248.0A4.5,4.5 0 0 1 809.6,255.6" stroke="#2b0530" stroke-width="1" stroke-linecap="round"/>
<use href="#c33" style="marker:url(#k0)"/><use href="#c33" style="marker:url(#k1)"/>
<path d="M893.6,245.1A4.5,4.5 0 0 1 893.0,252.4M818.1,255.1A4.5,4.5 0 0 1 814.9,260.8M751.8,261.1A4.5,4.5 0 0 1 755.3,254.9" stroke="#2b0530" stroke-width="1" stroke-linecap="round"/>
<use href="#c34" style="marker:url(#k0)"/><use href="#c34" style="marker:url(#k1)"/>
<path d="M924.8,233.3A4.5,4.5 0 0 1 932.1,236.7M857.1,255.5A4.5,4.5 0 0 1 852.7,261.5M774.1,264.9A4.5,4.5 0 0 1 772.2,258.2M732.2,260.1A4.5,4.5 0 0 1 728.5,266.9" stroke="#2b0530" stroke-width="1" stroke-linecap="round"/>
<use href="#c35" style="marker:url(#k0)"/><use href="#c35" style="marker:url(#k1)"/>
<path d="M884.7,242.2A4.5,4.5 0 0 1 886.3,250.3M818.0,259.0A4.5,4.5 0 0 1 817.2,266.4M738.0,262.1A4.5,4.5 0 0 1 740.5,256.3" stroke="#2b0530" stroke-width="1" stroke-linecap="round"/>
<use href="#c36" style="marker:url(#k0)"/><use href="#c36" style="marker:url(#k1)"/>
<path d="M904.1,236.3A4.5,4.5 0 0 1 909.0,242.9M873.5,251.8A4.5,4.5 0 0 1 877.9,258.0M814.2,262.2A4.5,4.5 0 0 1 821.1,267.0M781.0,257.1A4.5,4.5 0 0 1 785.6,263.8M735.8,260.5A4.5,4.5 0 0 1 738.2,266.5" stroke="#2b0530" stroke-width="1" stroke-linecap="round"/>
<use href="#c37" style="marker:url(#k0)"/><use href="#c37" style="marker:url(#k1)"/>
<path d="M875.9,248.9A4.5,4.5 0 0 1 876.1,255.6M836.7,264.4A4.5,4.5 0 0 1 829.9,260.2M793.3,264.6A4.5,4.5 0 0 1 797.9,268.6M725.1,267.3A4.5,4.5 0 0 1 719.9,272.3" stroke="#2b0530" stroke-width="1" stroke-linecap="round"/>
<use href="#c38" style="marker:url(#k0)"/><use href="#c38" style="marker:url(#k1)"/>
<path d="M1041.6,27.4A4.5,4.5 0 0 1 1039.5,21.7M977.2,51.4A4.5,4.5 0 0 1 974.3,58.4M923.6,80.4A4.5,4.5 0 0 1 920.7,74.0M885.1,91.6A4.5,4.5 0 0 1 884.1,97.7M848.7,100.1A4.5,4.5 0 0 1 854.7,105.4M808.5,103.0A4.5,4.5 0 0 1 810.3,109.4M740.7,109.2A4.5,4.5 0 0 1 742.1,116.1M690.7,121.1A4.5,4.5 0 0 1 686.9,125.7" stroke="#2b0530" stroke-width="1" stroke-linecap="round"/>
<use href="#c39" style="marker:url(#k0)"/><use href="#c39" style="marker:url(#k1)"/>
<path d="M1041.7,23.5A4.5,4.5 0 0 1 1040.9,15.5M970.9,44.5A4.5,4.5 0 0 1 977.4,48.2M913.9,78.0A4.5,4.5 0 0 1 919.4,83.7M862.0,93.2A4.5,4.5 0 0 1 866.4,86.1M825.0,78.7A4.5,4.5 0 0 1 826.9,86.6M765.2,81.5A4.5,4.5 0 0 1 761.8,74.9M732.1,85.0A4.5,4.5 0 0 1 727.8,79.9" stroke="#2b0530" stroke-width="1" stroke-linecap="round"/>
<use href="#c40" style="marker:url(#k0)"/><use href="#c40" style="marker:url(#k1)"/>
<path d="M1035.9,4.9A4.5,4.5 0 0 1 1036.7,11.6M1005.1,21.2A4.5,4.5 0 0 1 1008.4,27.3M958.0,54.5A4.5,4.5 0 0 1 960.1,60.7M884.6,55.2A4.5,4.5 0 0 1 887.4,61.9" stroke="#2b0530" stroke-width="1" stroke-linecap="round"/>
<use href="#c41" style="marker:url(#k2)"/><use href="#c41" style="marker:url(#k3)"/>
<path d="M835.6,134.3A4.2,4.2 0 0 1 839.0,128.2" stroke="#2b0530" stroke-width="1" stroke-linecap="round"/>
<g stroke-linecap="round" stroke-linejoin="round" stroke-dasharray="0 11"><use href="#fcr" fill="none" stroke="#2b0530" stroke-width="11.9"/><path d="M1056.5,337L1062.0,334.0 1065.7,334.0 1069.6,334.6 1072.8,337.5 1075.6,340.5 1079.1,342.6 1081.7,346.4 1083.5,348.4 1087.6,352.0 1089.0,354.3 1091.7,358.2 1095.4,361.0 1097.5,364.0 1100.3,366.5 1102.8,370.1 1105.9,372.6 1108.9,374.9 1111.9,378.0 1114.2,381.1 1117.5,383.5 1119.6,386.6 1122.8,389.5 1126.6,392.1 1129.3,394.8 1132.2,398.2 1134.0,401.0 1135.8,404.3 1139.4,408.5 1140.8,410.5 1143.3,413.3 1146.7,417.1 1149.2,420.0 L1160,400 1135,230 1135,160 1100,30 1056.5,18Z" fill="url(#fr)"/><use href="#fcr" fill="none" stroke="url(#fr)" stroke-width="10"/><use href="#fcl" fill="none" stroke="#2b0530" stroke-width="14.9"/><use href="#fcl" fill="url(#fl)" stroke="url(#fl)" stroke-width="13.0"/></g><path d="M1056.9,77.2 1054.5,78.2 1051.2,79.7 1047.3,81.4 1043.1,83.3 1039.0,85.1 1035.4,86.9 1032.1,88.6 1028.7,90.3 1025.5,92.1 1022.5,93.9 1019.7,95.5 1017.4,97.1 1015.4,98.6 1013.5,100.0 1011.9,101.3 1010.8,102.6 1010.2,103.8 1010.2,105.0 1011.0,106.1 1012.5,107.1 1014.5,108.1 1016.8,109.0 1019.4,109.8 1021.9,110.6 1024.6,111.3 1027.5,112.0 1030.6,112.5 1033.8,113.1 1037.0,113.6 1040.0,114.0 1043.1,114.4 1046.3,114.7 1049.6,115.0 1052.6,115.3 1055.1,115.4 1056.9,115.6M1056.9,58.2 1054.6,59.1 1051.4,60.3 1047.6,61.7 1043.4,63.3 1039.3,64.9 1035.4,66.6 1031.7,68.3 1028.0,70.1 1024.2,71.9 1020.4,73.9 1016.7,75.9 1012.9,77.9 1009.1,80.0 1005.2,82.3 1001.3,84.6 997.5,86.9 993.8,89.2 990.3,91.4 986.9,93.6 983.6,95.7 980.4,97.8 977.3,99.9 974.6,101.9 972.2,103.8 970.1,105.7 968.1,107.5 966.4,109.2 965.1,110.9 964.2,112.5 963.9,114.0 964.2,115.3 965.1,116.6 966.4,117.7 968.1,118.7 970.1,119.8 972.2,120.8 974.6,121.8 977.3,122.8 980.4,123.7 983.6,124.7 986.9,125.5 990.3,126.4 993.8,127.2 997.5,128.0 1001.3,128.8 1005.2,129.5 1009.1,130.2 1012.9,130.9 1016.7,131.6 1020.4,132.2 1024.2,132.8 1028.0,133.4 1031.7,133.9 1035.4,134.3 1039.3,134.6 1043.4,134.9 1047.6,135.1 1051.4,135.2 1054.6,135.3 1056.9,135.4M1056.9,41.3 1054.6,42.0 1051.4,43.1 1047.6,44.3 1043.4,45.6 1039.3,47.0 1035.4,48.5 1031.7,50.0 1028.0,51.6 1024.2,53.3 1020.4,55.1 1016.7,56.9 1012.9,58.7 1009.1,60.5 1005.4,62.3 1001.6,64.1 997.8,66.0 994.1,68.0 990.3,70.0 986.5,72.1 982.8,74.3 979.0,76.5 975.2,78.7 971.5,81.1 967.7,83.5 963.9,86.0 960.0,88.7 956.1,91.4 952.3,94.1 948.6,96.8 945.1,99.3 941.7,101.8 938.3,104.3 935.0,106.7 931.9,109.0 929.3,111.1 927.1,112.9 925.5,114.3 924.3,115.4 923.4,116.2 922.9,116.9 922.7,117.7 922.6,118.5 922.7,119.4 922.9,120.4 923.4,121.4 924.3,122.3 925.5,123.3 927.1,124.2 929.3,125.1 931.9,126.1 935.0,127.0 938.3,127.9 941.7,128.9 945.1,129.8 948.6,130.7 952.3,131.7 956.1,132.6 960.0,133.5 963.9,134.5 967.7,135.4 971.5,136.3 975.2,137.3 979.0,138.2 982.8,139.1 986.5,140.1 990.3,141.1 994.2,142.2 998.3,143.3 1002.3,144.5 1006.2,145.7 1009.8,146.8 1012.9,147.9 1015.5,148.9 1017.8,149.7 1019.7,150.5 1021.4,151.4 1022.9,152.4 1024.2,153.5 1025.4,154.8 1026.5,156.1 1027.3,157.6 1027.9,159.2 1028.2,161.0 1028.2,163.0 1027.8,165.3 1027.1,167.9 1026.1,170.6 1024.9,173.5 1023.5,176.4 1021.9,179.3 1020.1,182.2 1018.1,185.0 1015.9,188.0 1013.5,191.0 1011.0,194.1 1008.4,197.4 1005.6,200.9 1002.7,204.6 999.6,208.4 996.5,212.3 993.4,216.2 990.3,220.0 987.2,223.8 984.1,227.8 981.0,231.7 977.9,235.6 975.0,239.2 972.2,242.6 969.6,245.7 967.0,248.5 964.6,251.2 962.4,253.7 960.4,256.1 958.7,258.4 957.3,260.6 956.1,262.6 955.2,264.4 954.5,266.2 954.0,267.9 953.7,269.6 953.6,271.2 953.7,272.8 954.0,274.3 954.6,275.8 955.4,277.2 956.4,278.7 957.7,280.2 959.1,281.7 960.8,283.1 962.8,284.6 965.1,286.1 967.7,287.7 970.8,289.4 974.4,291.1 978.3,292.9 982.3,294.6 986.4,296.3 990.3,297.9 994.1,299.4 997.8,300.8 1001.6,302.1 1005.4,303.4 1009.1,304.6 1012.9,305.8 1016.7,306.9 1020.4,307.9 1024.2,308.8 1028.0,309.7 1031.7,310.6 1035.4,311.4 1039.3,312.3 1043.4,313.1 1047.6,314.0 1051.4,314.8 1054.6,315.4 1056.9,315.9M1056.9,256.1 1054.5,256.7 1051.1,257.5 1047.1,258.4 1042.9,259.5 1038.8,260.6 1035.4,261.7 1032.2,262.9 1028.9,264.1 1025.8,265.4 1023.2,266.7 1021.5,268.1 1020.8,269.6 1021.5,271.2 1023.2,273.0 1025.8,274.8 1028.9,276.6 1032.2,278.3 1035.4,279.8 1038.8,281.2 1042.9,282.6 1047.1,283.8 1051.1,285.0 1054.5,285.9 1056.9,286.6M1056.9,77.2 1057.8,78.6 1059.0,80.5 1060.5,82.8 1062.0,85.2 1063.5,87.8 1064.8,90.3 1065.9,92.8 1067.0,95.5 1068.1,98.2 1069.0,101.0 1069.8,103.6 1070.4,106.1 1070.9,108.5 1071.5,111.1 1071.9,113.5 1072.0,115.6 1071.7,117.4 1070.9,118.5 1069.2,118.9 1066.8,118.6 1063.9,117.8 1061.1,116.9 1058.6,116.1 1056.9,115.6M1056.9,58.2 1058.6,59.9 1060.9,62.2 1063.7,64.9 1066.6,68.0 1069.3,71.2 1071.6,74.5 1073.5,77.9 1075.2,81.6 1076.7,85.4 1078.1,89.3 1079.4,93.3 1080.6,97.1 1081.7,100.9 1082.6,104.9 1083.4,108.8 1084.1,112.6 1084.6,116.2 1085.1,119.6 1085.4,122.7 1085.7,125.6 1085.8,128.3 1085.8,130.9 1085.7,133.2 1085.6,135.4 1085.7,137.5 1085.9,139.6 1086.1,141.5 1086.0,143.1 1085.1,144.1 1083.3,144.5 1080.0,143.9 1075.3,142.5 1070.0,140.5 1064.6,138.4 1060.1,136.6 1056.9,135.4M1056.9,41.3 1058.5,42.3 1060.8,43.6 1063.4,45.2 1066.2,47.1 1069.0,49.3 1071.6,51.9 1074.0,54.9 1076.4,58.2 1078.7,61.9 1081.0,65.9 1083.1,70.1 1085.1,74.5 1086.9,79.3 1088.6,84.5 1090.2,89.9 1091.6,95.4 1092.9,100.9 1094.1,106.1 1095.1,111.2 1096.0,116.3 1096.7,121.3 1097.3,126.2 1097.8,130.9 1098.2,135.4 1098.5,139.7 1098.7,144.0 1098.8,148.1 1098.8,151.9 1098.7,155.2 1098.6,158.0 1098.7,160.2 1099.1,161.9 1099.5,163.2 1099.4,164.1 1098.5,164.6 1096.4,164.8 1092.5,164.3 1086.9,163.1 1080.6,161.5 1074.2,159.9 1068.7,158.6 1064.8,158.0 1062.7,158.0 1061.9,158.3 1061.8,159.0 1062.2,159.9 1062.7,161.1 1063.0,162.5 1063.0,164.0 1063.1,165.7 1063.4,167.6 1063.7,169.9 1064.2,172.7 1064.8,176.0 1065.6,180.0 1066.6,184.8 1067.7,189.9 1069.0,195.4 1070.3,200.9 1071.6,206.4 1073.0,211.9 1074.5,217.7 1076.1,223.6 1077.7,229.4 1079.2,235.0 1080.6,240.3 1081.9,245.2 1083.1,249.8 1084.3,254.1 1085.4,258.5 1086.5,262.8 1087.4,267.4 1088.3,272.3 1089.1,277.5 1089.8,282.8 1090.4,287.9 1091.0,292.6 1091.4,296.7 1091.8,300.2 1092.1,303.2 1092.3,305.9 1092.4,308.2 1092.3,310.4 1091.9,312.5 1091.4,314.6 1091.0,316.6 1090.3,318.4 1089.2,319.9 1087.6,321.0 1085.1,321.6 1081.3,321.4 1076.2,320.6 1070.6,319.3 1065.0,317.9 1060.2,316.7 1056.9,315.9M1056.9,256.1 1057.8,257.0 1059.0,258.2 1060.5,259.6 1062.0,261.3 1063.5,263.1 1064.8,265.1 1065.9,267.4 1067.1,270.2 1068.2,273.1 1069.1,276.0 1069.9,278.6 1070.4,280.9 1070.7,282.8 1070.9,284.5 1071.0,286.0 1070.8,287.2 1070.2,288.2 1069.3,288.8 1067.7,289.0 1065.5,288.7 1063.0,288.2 1060.5,287.5 1058.4,287.0 1056.9,286.6" fill="none" stroke="#2a1a2a" stroke-width="0.95"/><path d="M1057,19 V336" fill="none" stroke="#3a203a" stroke-width="1.5"/>
<use href="#c42" style="marker:url(#k4)"/><use href="#c42" style="marker:url(#k5)"/>
<use href="#c43" style="marker:url(#k4)"/><use href="#c43" style="marker:url(#k5)"/>
<use href="#c44" style="marker:url(#k4)"/><use href="#c44" style="marker:url(#k5)"/>
<path d="M1167.9,222.5A5.7,5.7 0 0 1 1172.3,231.2" stroke="#2b0530" stroke-width="1" stroke-linecap="round"/>
<use href="#c45" style="marker:url(#k4)"/><use href="#c45" style="marker:url(#k5)"/>
<path d="M1186.5,238.3A5.7,5.7 0 0 1 1180.5,242.7" stroke="#2b0530" stroke-width="1" stroke-linecap="round"/>
<use href="#c46" style="marker:url(#k4)"/><use href="#c46" style="marker:url(#k5)"/>
<path d="M1170.5,238.2A5.7,5.7 0 0 1 1169.5,228.6" stroke="#2b0530" stroke-width="1" stroke-linecap="round"/>
<use href="#c47" style="marker:url(#k4)"/><use href="#c47" style="marker:url(#k5)"/>
<path d="M1191.9,231.3A5.7,5.7 0 0 1 1199.4,224.3" stroke="#2b0530" stroke-width="1" stroke-linecap="round"/>
<use href="#c48" style="marker:url(#k4)"/><use href="#c48" style="marker:url(#k5)"/>
<path d="M1183.2,230.6A5.7,5.7 0 0 1 1178.9,221.2M1231.8,230.1A5.7,5.7 0 0 1 1230.9,238.6" stroke="#2b0530" stroke-width="1" stroke-linecap="round"/>
<use href="#c49" style="marker:url(#k4)"/><use href="#c49" style="marker:url(#k5)"/>
<path d="M1209.8,229.0A5.7,5.7 0 0 1 1214.7,222.8" stroke="#2b0530" stroke-width="1" stroke-linecap="round"/>
<use href="#c50" style="marker:url(#k4)"/><use href="#c50" style="marker:url(#k5)"/>
<path d="M1158.8,212.3A5.7,5.7 0 0 1 1162.2,221.1M1239.6,239.7A5.7,5.7 0 0 1 1238.8,229.2" stroke="#2b0530" stroke-width="1" stroke-linecap="round"/>
<use href="#c51" style="marker:url(#k4)"/><use href="#c51" style="marker:url(#k5)"/>
<path d="M1221.0,233.8A5.7,5.7 0 0 1 1221.3,223.9" stroke="#2b0530" stroke-width="1" stroke-linecap="round"/>
<use href="#c52" style="marker:url(#k4)"/><use href="#c52" style="marker:url(#k5)"/>
<path d="M1193.5,217.2A5.7,5.7 0 0 1 1194.1,225.7M1229.9,233.3A5.7,5.7 0 0 1 1233.1,223.4" stroke="#2b0530" stroke-width="1" stroke-linecap="round"/>
<use href="#c53" style="marker:url(#k4)"/><use href="#c53" style="marker:url(#k5)"/>
<path d="M1217.3,237.6A5.7,5.7 0 0 1 1220.0,227.8M1290.9,251.8A5.7,5.7 0 0 1 1296.1,244.9" stroke="#2b0530" stroke-width="1" stroke-linecap="round"/>
<use href="#c54" style="marker:url(#k4)"/><use href="#c54" style="marker:url(#k5)"/>
<path d="M1177.0,214.0A5.7,5.7 0 0 1 1176.1,222.9M1243.4,233.2A5.7,5.7 0 0 1 1246.4,226.3M1308.1,243.7A5.7,5.7 0 0 1 1300.6,249.9" stroke="#2b0530" stroke-width="1" stroke-linecap="round"/>
<use href="#c55" style="marker:url(#k4)"/><use href="#c55" style="marker:url(#k5)"/>
<path d="M1250.0,224.8A5.7,5.7 0 0 1 1254.6,230.7M1331.4,254.0A5.7,5.7 0 0 1 1326.2,261.8" stroke="#2b0530" stroke-width="1" stroke-linecap="round"/>
<use href="#c56" style="marker:url(#k4)"/><use href="#c56" style="marker:url(#k5)"/>
<path d="M1225.0,227.8A5.7,5.7 0 0 1 1226.4,235.3M1258.3,237.3A5.7,5.7 0 0 1 1260.2,227.5M1328.8,260.9A5.7,5.7 0 0 1 1324.4,252.9" stroke="#2b0530" stroke-width="1" stroke-linecap="round"/>
<use href="#c57" style="marker:url(#k4)"/><use href="#c57" style="marker:url(#k5)"/>
<path d="M1238.6,229.5A5.7,5.7 0 0 1 1243.5,235.2M1327.5,248.7A5.7,5.7 0 0 1 1325.9,258.3" stroke="#2b0530" stroke-width="1" stroke-linecap="round"/>
<use href="#c58" style="marker:url(#k4)"/><use href="#c58" style="marker:url(#k5)"/>
<path d="M1157.5,208.4A5.7,5.7 0 0 1 1161.7,214.4M1216.2,229.0A5.7,5.7 0 0 1 1219.4,219.2M1257.2,234.6A5.7,5.7 0 0 1 1265.8,229.3M1305.9,251.3A5.7,5.7 0 0 1 1314.0,245.6" stroke="#2b0530" stroke-width="1" stroke-linecap="round"/>
<use href="#c59" style="marker:url(#k4)"/><use href="#c59" style="marker:url(#k5)"/>
<path d="M1250.9,226.6A5.7,5.7 0 0 1 1250.6,236.0M1298.8,247.3A5.7,5.7 0 0 1 1295.0,239.9M1364.0,269.9A5.7,5.7 0 0 1 1364.1,260.3" stroke="#2b0530" stroke-width="1" stroke-linecap="round"/>
<use href="#c60" style="marker:url(#k4)"/><use href="#c60" style="marker:url(#k6)"/>
<path d="M1180.5,227.6A5.7,5.7 0 0 1 1182.3,220.0M1224.0,237.7A5.7,5.7 0 0 1 1224.4,227.5M1261.6,233.2A5.7,5.7 0 0 1 1266.7,227.2M1319.4,257.6A5.7,5.7 0 0 1 1320.3,249.2M1385.5,277.1A5.7,5.7 0 0 1 1381.8,270.1" stroke="#2b0530" stroke-width="1" stroke-linecap="round"/>
<use href="#c61" style="marker:url(#k4)"/><use href="#c61" style="marker:url(#k6)"/>
<path d="M1246.7,235.4A5.7,5.7 0 0 1 1245.8,226.6M1314.3,252.0A5.7,5.7 0 0 1 1310.2,245.1M1374.3,260.0A5.7,5.7 0 0 1 1377.9,267.9" stroke="#2b0530" stroke-width="1" stroke-linecap="round"/>
<use href="#c62" style="marker:url(#k4)"/><use href="#c62" style="marker:url(#k6)"/>
<path d="M1150.0,221.0A5.7,5.7 0 0 1 1153.0,213.0M1241.2,226.1A5.7,5.7 0 0 1 1238.3,234.7M1287.4,244.5A5.7,5.7 0 0 1 1286.3,235.0M1357.3,252.7A5.7,5.7 0 0 1 1355.8,262.8M1392.4,269.4A5.7,5.7 0 0 1 1391.4,278.9" stroke="#2b0530" stroke-width="1" stroke-linecap="round"/>
<use href="#c63" style="marker:url(#k4)"/><use href="#c63" style="marker:url(#k7)"/>
<path d="M1264.7,237.1A5.7,5.7 0 0 1 1270.9,229.4M1343.9,261.7A5.7,5.7 0 0 1 1339.7,252.4M1394.1,284.1A5.7,5.7 0 0 1 1394.9,276.8" stroke="#2b0530" stroke-width="1" stroke-linecap="round"/>
<use href="#c64" style="marker:url(#k4)"/><use href="#c64" style="marker:url(#k8)"/>
<path d="M1198.0,230.6A5.7,5.7 0 0 1 1204.7,223.7M1264.8,253.4A5.7,5.7 0 0 1 1263.6,244.8M1320.1,261.9A5.7,5.7 0 0 1 1327.2,255.8M1379.7,292.9A5.7,5.7 0 0 1 1376.5,283.4M1436.7,312.6A5.7,5.7 0 0 1 1429.7,316.4" stroke="#2b0530" stroke-width="1" stroke-linecap="round"/>
<use href="#c65" style="marker:url(#k4)"/><use href="#c65" style="marker:url(#k8)"/>
<path d="M1260.5,257.8A5.7,5.7 0 0 1 1256.7,249.7M1307.7,271.2A5.7,5.7 0 0 1 1306.0,263.5M1346.6,286.1A5.7,5.7 0 0 1 1348.3,278.0M1425.1,327.5A5.7,5.7 0 0 1 1427.5,318.5" stroke="#2b0530" stroke-width="1" stroke-linecap="round"/>
<use href="#c66" style="marker:url(#k4)"/><use href="#c66" style="marker:url(#k9)"/>
<path d="M1144.2,213.5A5.7,5.7 0 0 1 1146.3,206.3M1182.5,217.1A5.7,5.7 0 0 1 1191.2,214.5M1235.1,252.3A5.7,5.7 0 0 1 1239.6,243.8M1284.5,275.3A5.7,5.7 0 0 1 1286.8,266.5M1335.3,301.0A5.7,5.7 0 0 1 1334.0,293.3M1412.5,347.5A5.7,5.7 0 0 1 1409.8,337.5" stroke="#2b0530" stroke-width="1" stroke-linecap="round"/>
<use href="#c67" style="marker:url(#k4)"/><use href="#c67" style="marker:url(#k10)"/>
<path d="M1251.6,253.3A5.7,5.7 0 0 1 1246.5,259.8M1306.1,273.4A5.7,5.7 0 0 1 1300.9,281.9M1375.8,325.6A5.7,5.7 0 0 1 1370.1,330.8" stroke="#2b0530" stroke-width="1" stroke-linecap="round"/>
<use href="#c68" style="marker:url(#k4)"/><use href="#c68" style="marker:url(#k10)"/>
<path d="M1177.7,212.3A5.7,5.7 0 0 1 1168.3,213.4M1215.4,246.0A5.7,5.7 0 0 1 1223.2,240.1M1295.8,295.1A5.7,5.7 0 0 1 1294.1,284.9M1364.4,331.3A5.7,5.7 0 0 1 1360.9,340.4" stroke="#2b0530" stroke-width="1" stroke-linecap="round"/>
<use href="#c69" style="marker:url(#k4)"/><use href="#c69" style="marker:url(#k11)"/>
<path d="M1229.5,239.7A5.7,5.7 0 0 1 1232.0,249.2M1278.0,286.0A5.7,5.7 0 0 1 1279.8,278.4M1314.7,312.5A5.7,5.7 0 0 1 1324.1,312.9M1368.2,349.8A5.7,5.7 0 0 1 1364.3,356.1" stroke="#2b0530" stroke-width="1" stroke-linecap="round"/>
<use href="#c70" style="marker:url(#k4)"/><use href="#c70" style="marker:url(#k12)"/>
<path d="M1129.8,187.8A5.7,5.7 0 0 1 1129.4,195.3M1156.0,205.8A5.7,5.7 0 0 1 1163.2,200.3M1220.4,237.7A5.7,5.7 0 0 1 1222.0,245.9M1274.5,288.9A5.7,5.7 0 0 1 1280.9,281.5M1328.2,319.1A5.7,5.7 0 0 1 1323.7,327.4M1368.2,367.4A5.7,5.7 0 0 1 1360.6,372.6" stroke="#2b0530" stroke-width="1" stroke-linecap="round"/>
<use href="#c71" style="marker:url(#k4)"/><use href="#c71" style="marker:url(#k11)"/>
<path d="M1218.1,245.7A5.7,5.7 0 0 1 1210.1,250.7M1242.6,272.3A5.7,5.7 0 0 1 1250.7,267.1M1302.9,317.5A5.7,5.7 0 0 1 1312.3,315.7" stroke="#2b0530" stroke-width="1" stroke-linecap="round"/>
<use href="#c72" style="marker:url(#k4)"/><use href="#c72" style="marker:url(#k12)"/>
<path d="M1180.1,229.8A5.7,5.7 0 0 1 1183.2,223.1M1224.8,266.6A5.7,5.7 0 0 1 1225.8,256.6M1282.2,310.9A5.7,5.7 0 0 1 1292.2,310.6" stroke="#2b0530" stroke-width="1" stroke-linecap="round"/>
<use href="#c73" style="marker:url(#k4)"/><use href="#c73" style="marker:url(#k12)"/>
<path d="M1213.8,267.1A5.7,5.7 0 0 1 1222.6,265.9M1286.4,319.2A5.7,5.7 0 0 1 1284.8,327.5" stroke="#2b0530" stroke-width="1" stroke-linecap="round"/>
<use href="#c74" style="marker:url(#k4)"/><use href="#c74" style="marker:url(#k13)"/>
<path d="M1142.9,196.5A5.7,5.7 0 0 1 1137.2,202.1M1198.5,242.1A5.7,5.7 0 0 1 1199.6,249.6M1224.5,274.4A5.7,5.7 0 0 1 1218.3,281.7M1282.3,344.0A5.7,5.7 0 0 1 1272.3,343.3" stroke="#2b0530" stroke-width="1" stroke-linecap="round"/>
<use href="#c75" style="marker:url(#k4)"/><use href="#c75" style="marker:url(#k14)"/>
<path d="M1210.0,258.2A5.7,5.7 0 0 1 1204.5,267.2M1235.2,309.5A5.7,5.7 0 0 1 1241.4,304.9M1276.3,364.4A5.7,5.7 0 0 1 1278.7,357.4" stroke="#2b0530" stroke-width="1" stroke-linecap="round"/>
<use href="#c76" style="marker:url(#k4)"/><use href="#c76" style="marker:url(#k13)"/>
<path d="M1170.4,239.6A5.7,5.7 0 0 1 1170.7,231.2M1226.4,304.1A5.7,5.7 0 0 1 1234.2,298.2M1261.8,343.0A5.7,5.7 0 0 1 1258.7,351.4M1285.6,383.7A5.7,5.7 0 0 1 1280.3,389.2" stroke="#2b0530" stroke-width="1" stroke-linecap="round"/>
<use href="#c77" style="marker:url(#k4)"/><use href="#c77" style="marker:url(#k15)"/>
<path d="M1189.5,258.2A5.7,5.7 0 0 1 1182.1,260.1M1232.6,325.6A5.7,5.7 0 0 1 1239.4,319.2M1264.5,388.3A5.7,5.7 0 0 1 1273.5,386.3" stroke="#2b0530" stroke-width="1" stroke-linecap="round"/>
<use href="#c78" style="marker:url(#k4)"/><use href="#c78" style="marker:url(#k15)"/>
<path d="M1103.1,183.8A5.7,5.7 0 0 1 1104.8,175.8M1137.2,212.7A5.7,5.7 0 0 1 1130.0,216.2M1177.2,268.2A5.7,5.7 0 0 1 1187.6,269.7M1219.7,337.7A5.7,5.7 0 0 1 1223.1,328.7M1253.6,381.7A5.7,5.7 0 0 1 1263.3,382.3" stroke="#2b0530" stroke-width="1" stroke-linecap="round"/>
<use href="#c79" style="marker:url(#k4)"/><use href="#c79" style="marker:url(#k13)"/>
<path d="M1172.0,266.1A5.7,5.7 0 0 1 1176.9,260.4M1212.2,334.5A5.7,5.7 0 0 1 1220.0,337.6" stroke="#2b0530" stroke-width="1" stroke-linecap="round"/>
<use href="#c80" style="marker:url(#k4)"/><use href="#c80" style="marker:url(#k16)"/>
<path d="M1158.0,236.6A5.7,5.7 0 0 1 1152.0,241.7M1199.4,317.7A5.7,5.7 0 0 1 1190.2,316.2M1205.9,361.1A5.7,5.7 0 0 1 1212.1,355.9M1224.4,394.4A5.7,5.7 0 0 1 1231.7,389.1" stroke="#2b0530" stroke-width="1" stroke-linecap="round"/>
<use href="#c81" style="marker:url(#k4)"/><use href="#c81" style="marker:url(#k14)"/>
<path d="M1149.1,266.3A5.7,5.7 0 0 1 1154.1,260.6M1171.7,317.8A5.7,5.7 0 0 1 1181.0,312.7M1193.6,346.5A5.7,5.7 0 0 1 1202.5,346.9" stroke="#2b0530" stroke-width="1" stroke-linecap="round"/>
<use href="#c82" style="marker:url(#k4)"/><use href="#c82" style="marker:url(#k16)"/>
<path d="M1113.5,202.2A5.7,5.7 0 0 1 1123.8,199.8M1148.7,241.7A5.7,5.7 0 0 1 1138.4,240.3M1161.4,285.1A5.7,5.7 0 0 1 1155.1,292.4M1178.4,338.0A5.7,5.7 0 0 1 1185.9,336.6" stroke="#2b0530" stroke-width="1" stroke-linecap="round"/>
<use href="#c83" style="marker:url(#k4)"/><use href="#c83" style="marker:url(#k16)"/>
<path d="M1140.8,254.8A5.7,5.7 0 0 1 1150.6,256.5M1165.2,315.5A5.7,5.7 0 0 1 1156.5,311.0M1183.0,391.2A5.7,5.7 0 0 1 1192.5,389.3" stroke="#2b0530" stroke-width="1" stroke-linecap="round"/>
<use href="#c84" style="marker:url(#k4)"/><use href="#c84" style="marker:url(#k15)"/>
<path d="M1126.9,241.7A5.7,5.7 0 0 1 1118.8,239.1M1148.1,315.7A5.7,5.7 0 0 1 1156.7,309.5M1181.6,398.6A5.7,5.7 0 0 1 1177.3,405.7" stroke="#2b0530" stroke-width="1" stroke-linecap="round"/>
<use href="#c85" style="marker:url(#k4)"/><use href="#c85" style="marker:url(#k15)"/>
<path d="M1125.6,275.9A5.7,5.7 0 0 1 1133.8,269.6M1144.0,333.5A5.7,5.7 0 0 1 1136.1,331.9M1162.6,405.2A5.7,5.7 0 0 1 1154.5,407.3" stroke="#2b0530" stroke-width="1" stroke-linecap="round"/>
<use href="#c86" style="marker:url(#k4)"/><use href="#c86" style="marker:url(#k16)"/>
<path d="M1098.2,193.4A5.7,5.7 0 0 1 1107.0,196.0M1128.2,281.7A5.7,5.7 0 0 1 1132.5,273.9M1144.3,360.0A5.7,5.7 0 0 1 1139.3,366.4" stroke="#2b0530" stroke-width="1" stroke-linecap="round"/>
<use href="#c87" style="marker:url(#k17)"/><use href="#c87" style="marker:url(#k18)"/>
<path d="M1142.3,41.1A4.7,4.7 0 0 1 1137.1,34.5" stroke="#2b0530" stroke-width="1" stroke-linecap="round"/>
<use href="#c88" style="marker:url(#k19)"/><use href="#c88" style="marker:url(#k20)"/>
<path d="M1072.9,18.0A4.3,4.3 0 0 1 1075.0,10.5M1137.3,49.4A4.3,4.3 0 0 1 1131.2,51.3M1177.4,87.4A4.3,4.3 0 0 1 1174.6,82.3M1253.1,67.5A4.3,4.3 0 0 1 1252.0,75.5M1320.4,52.0A4.3,4.3 0 0 1 1320.3,58.3" stroke="#2b0530" stroke-width="1" stroke-linecap="round"/>
<use href="#c89" style="marker:url(#k19)"/><use href="#c89" style="marker:url(#k20)"/>
<path d="M1089.6,13.5A4.3,4.3 0 0 1 1094.8,8.6M1131.6,39.6A4.3,4.3 0 0 1 1125.7,40.9M1153.3,61.8A4.3,4.3 0 0 1 1160.3,60.9M1198.3,88.0A4.3,4.3 0 0 1 1200.8,93.4" stroke="#2b0530" stroke-width="1" stroke-linecap="round"/>
<use href="#c90" style="marker:url(#k19)"/><use href="#c90" style="marker:url(#k20)"/>
<path d="M1109.9,23.1A4.3,4.3 0 0 1 1111.2,15.3M1173.2,63.4A4.3,4.3 0 0 1 1165.7,64.7M1202.0,99.8A4.3,4.3 0 0 1 1202.3,92.5M1259.1,106.9A4.3,4.3 0 0 1 1258.3,100.1M1319.0,107.6A4.3,4.3 0 0 1 1315.2,112.9M1360.6,110.5A4.3,4.3 0 0 1 1360.3,103.6M1429.1,99.7A4.3,4.3 0 0 1 1426.9,106.3" stroke="#2b0530" stroke-width="1" stroke-linecap="round"/>
<use href="#c91" style="marker:url(#k21)"/><use href="#c91" style="marker:url(#k22)"/>
<path d="M1107.1,22.3A4.4,4.4 0 0 1 1105.8,16.2M1171.2,64.9A4.4,4.4 0 0 1 1163.1,63.8M1221.7,103.1A4.4,4.4 0 0 1 1216.4,107.6M1270.3,114.5A4.4,4.4 0 0 1 1274.0,107.6" stroke="#2b0530" stroke-width="1" stroke-linecap="round"/>
<use href="#c92" style="marker:url(#k0)"/><use href="#c92" style="marker:url(#k23)"/>
<path d="M1122.5,31.7A4.5,4.5 0 0 1 1122.7,23.9M1160.8,63.4A4.5,4.5 0 0 1 1167.9,60.3M1196.7,103.5A4.5,4.5 0 0 1 1201.9,100.7M1258.1,118.5A4.5,4.5 0 0 1 1260.1,112.8M1306.3,127.7A4.5,4.5 0 0 1 1311.8,123.7M1349.5,146.8A4.5,4.5 0 0 1 1352.9,139.3" stroke="#2b0530" stroke-width="1" stroke-linecap="round"/>
<use href="#c93" style="marker:url(#k24)"/><use href="#c93" style="marker:url(#k25)"/>
<path d="M1104.9,19.3A4.6,4.6 0 0 1 1105.4,10.8M1148.4,57.0A4.6,4.6 0 0 1 1154.3,54.5M1196.4,97.0A4.6,4.6 0 0 1 1189.5,101.6M1225.0,118.9A4.6,4.6 0 0 1 1223.5,111.0" stroke="#2b0530" stroke-width="1" stroke-linecap="round"/>
<use href="#c94" style="marker:url(#k26)"/><use href="#c94" style="marker:url(#k27)"/>
<path d="M1115.1,20.4A4.7,4.7 0 0 1 1121.3,18.3M1154.1,73.0A4.7,4.7 0 0 1 1158.9,67.0" stroke="#2b0530" stroke-width="1" stroke-linecap="round"/>
<use href="#c95" style="marker:url(#k28)"/><use href="#c95" style="marker:url(#k29)"/>
<path d="M1116.4,23.9A4.9,4.9 0 0 1 1108.6,27.9M1160.0,87.1A4.9,4.9 0 0 1 1163.7,79.2M1230.1,127.4A4.9,4.9 0 0 1 1223.8,132.6M1263.4,139.8A4.9,4.9 0 0 1 1265.4,147.0M1332.1,174.6A4.9,4.9 0 0 1 1331.3,183.4" stroke="#2b0530" stroke-width="1" stroke-linecap="round"/>
<use href="#c96" style="marker:url(#k30)"/><use href="#c96" style="marker:url(#k31)"/>
<path d="M1108.3,27.3A5.0,5.0 0 0 1 1116.4,24.5M1154.5,73.0A5.0,5.0 0 0 1 1163.3,73.0M1194.7,120.4A5.0,5.0 0 0 1 1201.1,114.1" stroke="#2b0530" stroke-width="1" stroke-linecap="round"/>
<use href="#c97" style="marker:url(#k32)"/><use href="#c97" style="marker:url(#k33)"/>
<path d="M1105.1,27.5A5.1,5.1 0 0 1 1103.7,20.3M1141.6,60.7A5.1,5.1 0 0 1 1132.4,60.4M1156.0,85.4A5.1,5.1 0 0 1 1163.2,80.4" stroke="#2b0530" stroke-width="1" stroke-linecap="round"/>
<use href="#c98" style="marker:url(#k34)"/><use href="#c98" style="marker:url(#k35)"/>
<path d="M1099.5,24.2A5.3,5.3 0 0 1 1098.1,17.0M1130.5,62.4A5.3,5.3 0 0 1 1136.8,58.9M1184.5,134.5A5.3,5.3 0 0 1 1177.0,134.8" stroke="#2b0530" stroke-width="1" stroke-linecap="round"/>
<use href="#c99" style="marker:url(#k36)"/><use href="#c99" style="marker:url(#k37)"/>
<path d="M1094.7,23.7A5.4,5.4 0 0 1 1099.6,17.0M1145.9,88.9A5.4,5.4 0 0 1 1150.5,82.6M1197.2,156.5A5.4,5.4 0 0 1 1190.9,164.2" stroke="#2b0530" stroke-width="1" stroke-linecap="round"/>
<use href="#c100" style="marker:url(#k38)"/><use href="#c100" style="marker:url(#k39)"/>
<path d="M1103.0,43.2A5.6,5.6 0 0 1 1102.5,33.1M1126.5,61.2A5.6,5.6 0 0 1 1134.0,59.2M1156.7,125.5A5.6,5.6 0 0 1 1149.3,121.7" stroke="#2b0530" stroke-width="1" stroke-linecap="round"/>
<use href="#c101" style="marker:url(#k40)"/><use href="#c101" style="marker:url(#k41)"/>
<path d="M1085.8,20.2A5.8,5.8 0 0 1 1095.0,15.0M1132.4,85.0A5.8,5.8 0 0 1 1141.2,90.4M1147.5,142.3A5.8,5.8 0 0 1 1156.2,142.0" stroke="#2b0530" stroke-width="1" stroke-linecap="round"/>
<use href="#c102" style="marker:url(#k42)"/><use href="#c102" style="marker:url(#k43)"/>
<path d="M1106.0,38.2A6.0,6.0 0 0 1 1102.8,45.4M1121.7,104.9A6.0,6.0 0 0 1 1130.3,110.1M1146.0,168.0A6.0,6.0 0 0 1 1156.7,168.0" stroke="#2b0530" stroke-width="1" stroke-linecap="round"/>
<use href="#c103" style="marker:url(#k44)"/><use href="#c103" style="marker:url(#k45)"/>
<path d="M1084.6,42.2A6.1,6.1 0 0 1 1088.4,34.7M1113.5,64.5A6.1,6.1 0 0 1 1123.2,69.0M1144.9,156.7A6.1,6.1 0 0 1 1134.8,152.7" stroke="#2b0530" stroke-width="1" stroke-linecap="round"/>
<use href="#c104" style="marker:url(#k46)"/><use href="#c104" style="marker:url(#k47)"/>
<path d="M1091.9,31.5A6.2,6.2 0 0 1 1081.8,34.5M1107.6,88.6A6.2,6.2 0 0 1 1116.1,85.5M1120.7,162.1A6.2,6.2 0 0 1 1127.8,157.5" stroke="#2b0530" stroke-width="1" stroke-linecap="round"/>
</g>
<rect x="149.0" y="472" width="1819.0" height="54" fill="url(#g0)"/>
<rect x="149.0" y="526" width="1819.0" height="54" fill="url(#g1)"/>
<rect x="149.0" y="580" width="1819.0" height="55" fill="url(#g2)"/>
<rect x="149.0" y="635" width="1819.0" height="54" fill="url(#g3)"/>
<rect x="149.0" y="689" width="1819.0" height="55" fill="url(#g4)"/>
<rect x="149.0" y="744" width="1819.0" height="54" fill="url(#g5)"/>
<g fill="#fff"><rect x="902.2" y="490.27" width="4.6" height="16.8"/><rect x="766.0" y="544.60" width="4.6" height="16.8"/><rect x="863.6" y="605.23" width="390.4" height="4.2"/><rect x="861.3" y="598.93" width="4.6" height="16.8"/><rect x="1251.7" y="598.93" width="4.6" height="16.8"/><rect x="1056.5" y="598.93" width="4.6" height="16.8"/><rect x="378.0" y="659.57" width="499.3" height="4.2"/><rect x="375.7" y="653.27" width="4.6" height="16.8"/><rect x="874.9" y="653.27" width="4.6" height="16.8"/><rect x="620.8" y="653.27" width="4.6" height="16.8"/><rect x="1195.0" y="659.57" width="263.3" height="4.2"/><rect x="1192.7" y="653.27" width="4.6" height="16.8"/><rect x="1455.9" y="653.27" width="4.6" height="16.8"/><rect x="1283.5" y="653.27" width="4.6" height="16.8"/><rect x="532.3" y="713.90" width="381.3" height="4.2"/><rect x="530.0" y="707.60" width="4.6" height="16.8"/><rect x="911.3" y="707.60" width="4.6" height="16.8"/><rect x="793.2" y="707.60" width="4.6" height="16.8"/><rect x="1149.6" y="713.90" width="263.3" height="4.2"/><rect x="1147.3" y="707.60" width="4.6" height="16.8"/><rect x="1410.5" y="707.60" width="4.6" height="16.8"/><rect x="1274.4" y="707.60" width="4.6" height="16.8"/><rect x="149.0" y="768.23" width="673.8" height="4.2"/><rect x="820.5" y="761.93" width="4.6" height="16.8"/><rect x="475.5" y="761.93" width="4.6" height="16.8"/></g>
<rect x="149.0" y="798" width="1819.0" height="3.1" fill="#000"/>
<g fill="#000"><rect x="149.1" y="798" width="3.8" height="9.4"/><rect x="376.1" y="798" width="3.8" height="9.4"/><rect x="603.0" y="798" width="3.8" height="9.4"/><rect x="829.9" y="798" width="3.8" height="9.4"/><rect x="1056.9" y="798" width="3.8" height="9.4"/><rect x="1283.8" y="798" width="3.8" height="9.4"/><rect x="1510.8" y="798" width="3.8" height="9.4"/><rect x="1737.7" y="798" width="3.8" height="9.4"/><rect x="1964.7" y="798" width="3.3" height="9.4"/></g>
</svg>
<div class="t" style="top:2.29px;font-size:38.80px;left:421.00px;font-weight:bold;">a</div>
<div class="t" style="top:468.05px;font-size:38.40px;left:-2.50px;font-weight:bold;">b</div>
<div class="t" style="top:487.29px;font-size:29.40px;right:1866.10px;">IgG</div>
<div class="t" style="top:541.99px;font-size:29.40px;right:1866.10px;">FcγRIIa</div>
<div class="t" style="top:596.29px;font-size:29.40px;right:1866.10px;">F-Actin</div>
<div class="t" style="top:650.99px;font-size:29.40px;right:1866.10px;">Paxillin</div>
<div class="t" style="top:705.79px;font-size:29.40px;right:1866.10px;">Talin</div>
<div class="t" style="top:760.59px;font-size:29.40px;right:1866.10px;">Myosin II</div>
<div class="t" style="top:807.99px;font-size:29.40px;left:144.00px;transform:translateX(-50%);">−1.00</div>
<div class="t" style="top:807.99px;font-size:29.40px;left:370.95px;transform:translateX(-50%);">−0.75</div>
<div class="t" style="top:807.99px;font-size:29.40px;left:597.90px;transform:translateX(-50%);">−0.50</div>
<div class="t" style="top:807.99px;font-size:29.40px;left:824.85px;transform:translateX(-50%);">−0.25</div>
<div class="t" style="top:807.99px;font-size:29.40px;left:1061.50px;transform:translateX(-50%);">0.00</div>
<div class="t" style="top:807.99px;font-size:29.40px;left:1288.45px;transform:translateX(-50%);">0.25</div>
<div class="t" style="top:807.99px;font-size:29.40px;left:1515.40px;transform:translateX(-50%);">0.50</div>
<div class="t" style="top:807.99px;font-size:29.40px;left:1742.35px;transform:translateX(-50%);">0.75</div>
<div class="t" style="top:807.99px;font-size:29.40px;left:1969.30px;transform:translateX(-50%);">1.00</div>
<div class="t" style="top:853.21px;font-size:29.60px;left:1065.50px;transform:translateX(-50%);">Distance (μm)</div>
</div>
</body></html>
